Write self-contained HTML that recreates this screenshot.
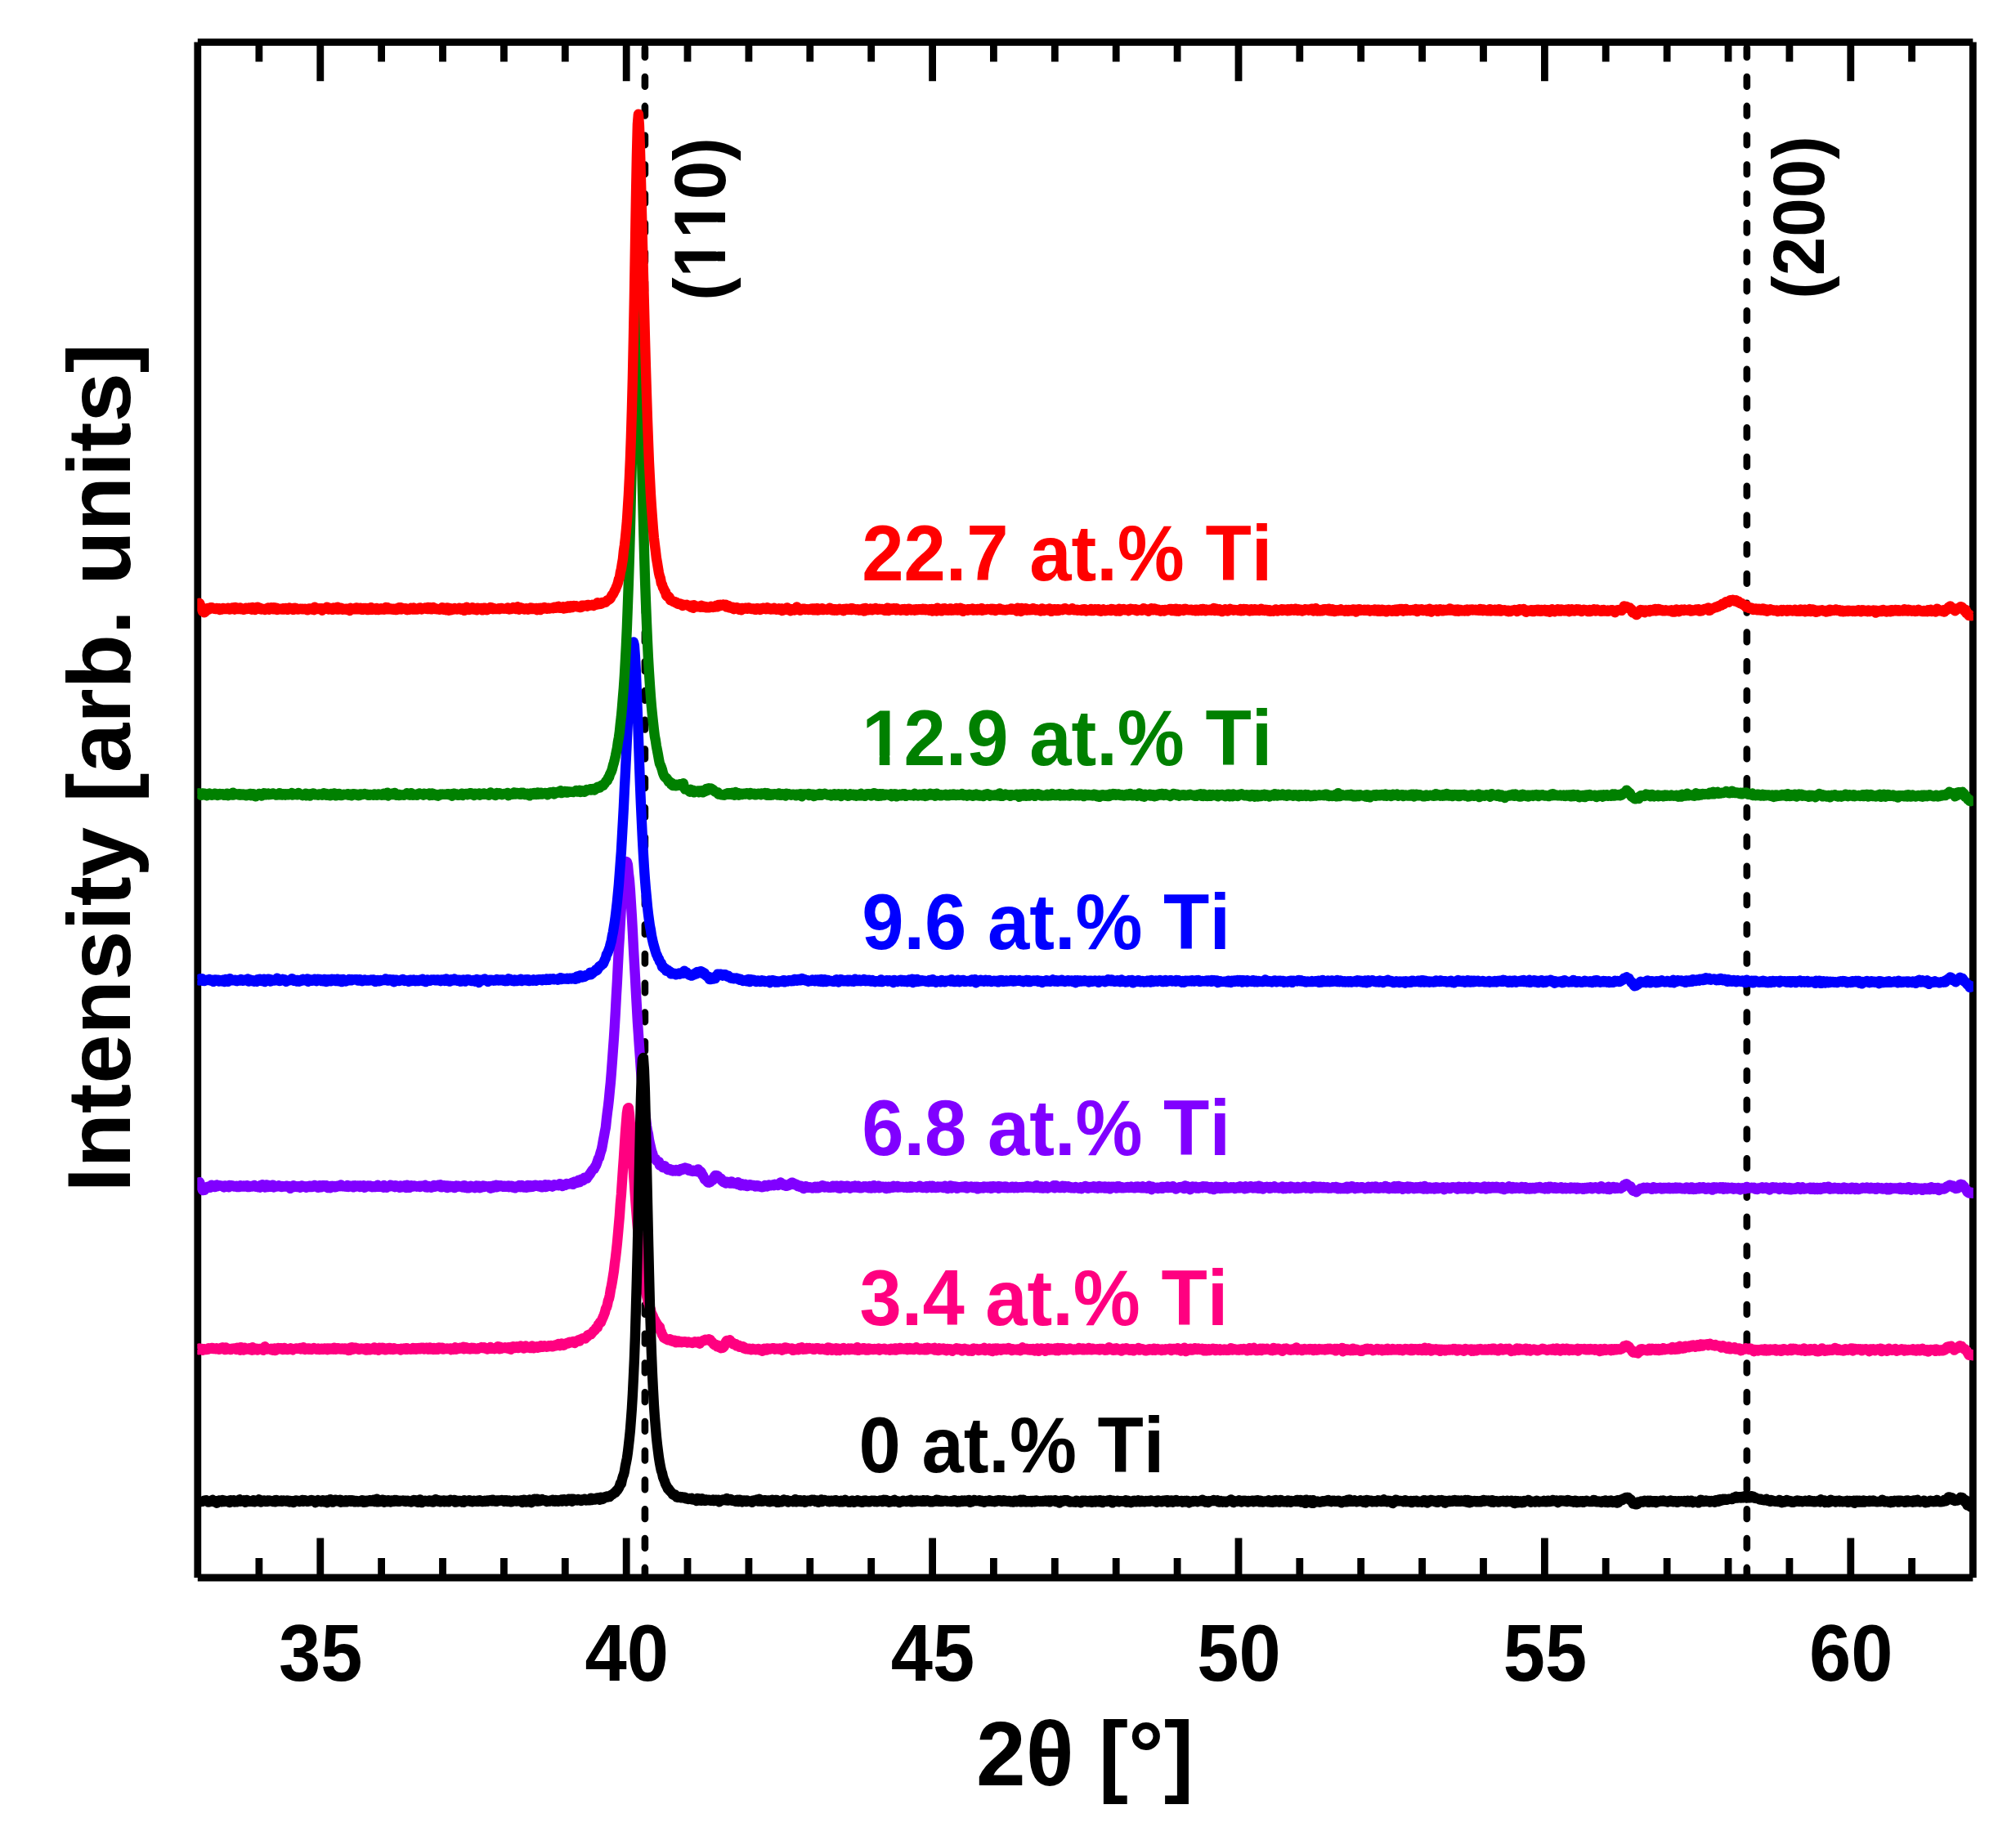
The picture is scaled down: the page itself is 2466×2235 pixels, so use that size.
<!DOCTYPE html>
<html lang="en"><head><meta charset="utf-8"><title>XRD patterns</title>
<style>html,body{margin:0;padding:0;background:#fff}svg{display:block}text{font-family:"Liberation Sans", sans-serif;font-weight:bold;font-kerning:none;font-variant-ligatures:none}</style>
</head><body>
<svg width="2466" height="2235" viewBox="0 0 2466 2235">
<rect width="2466" height="2235" fill="#fff"/>
<path d="M241.8,51.6 H2413.3 M2413.3,51.6 V1930.0 M2413.3,1930.0 H241.8 M241.8,1930.0 V51.6" fill="none" stroke="#000" stroke-width="8.8"/>
<path d="M316.9,51.6 v23.8 M316.9,1930.0 v-24.0 M391.8,51.6 v47.6 M391.8,1930.0 v-48.6 M466.6,51.6 v23.8 M466.6,1930.0 v-24.0 M541.5,51.6 v23.8 M541.5,1930.0 v-24.0 M616.4,51.6 v23.8 M616.4,1930.0 v-24.0 M691.3,51.6 v23.8 M691.3,1930.0 v-24.0 M766.2,51.6 v47.6 M766.2,1930.0 v-48.6 M841.0,51.6 v23.8 M841.0,1930.0 v-24.0 M915.9,51.6 v23.8 M915.9,1930.0 v-24.0 M990.8,51.6 v23.8 M990.8,1930.0 v-24.0 M1065.7,51.6 v23.8 M1065.7,1930.0 v-24.0 M1140.6,51.6 v47.6 M1140.6,1930.0 v-48.6 M1215.4,51.6 v23.8 M1215.4,1930.0 v-24.0 M1290.3,51.6 v23.8 M1290.3,1930.0 v-24.0 M1365.2,51.6 v23.8 M1365.2,1930.0 v-24.0 M1440.1,51.6 v23.8 M1440.1,1930.0 v-24.0 M1515.0,51.6 v47.6 M1515.0,1930.0 v-48.6 M1589.8,51.6 v23.8 M1589.8,1930.0 v-24.0 M1664.7,51.6 v23.8 M1664.7,1930.0 v-24.0 M1739.6,51.6 v23.8 M1739.6,1930.0 v-24.0 M1814.5,51.6 v23.8 M1814.5,1930.0 v-24.0 M1889.4,51.6 v47.6 M1889.4,1930.0 v-48.6 M1964.2,51.6 v23.8 M1964.2,1930.0 v-24.0 M2039.1,51.6 v23.8 M2039.1,1930.0 v-24.0 M2114.0,51.6 v23.8 M2114.0,1930.0 v-24.0 M2188.9,51.6 v23.8 M2188.9,1930.0 v-24.0 M2263.8,51.6 v47.6 M2263.8,1930.0 v-48.6 M2338.6,51.6 v23.8 M2338.6,1930.0 v-24.0" fill="none" stroke="#000" stroke-width="8.8"/>
<path d="M788.9,58.4 V1930.0" fill="none" stroke="#000" stroke-width="8.6" stroke-linecap="round" stroke-dasharray="11.6 24.16"/>
<path d="M2136.8,58.4 V1930.0" fill="none" stroke="#000" stroke-width="8.6" stroke-linecap="round" stroke-dasharray="11.6 24.16"/>
<defs><clipPath id="plotclip"><rect x="241.3" y="0" width="2172.5" height="2235"/></clipPath></defs>
<g clip-path="url(#plotclip)">
<path d="M242.0,1650.3 243.0,1651.2 244.0,1649.4 245.0,1651.0 246.0,1650.0 247.0,1650.0 248.0,1651.7 249.0,1650.3 250.0,1650.2 251.0,1650.8 252.0,1651.1 253.0,1650.2 254.0,1650.7 255.0,1649.4 256.0,1649.9 257.0,1649.8 258.0,1649.1 259.0,1649.0 260.0,1648.9 261.0,1650.0 262.0,1650.1 263.0,1649.9 264.0,1650.2 265.0,1649.1 266.0,1650.1 267.0,1650.4 268.0,1650.8 269.0,1649.5 270.0,1649.9 271.0,1648.6 272.0,1649.8 273.0,1648.4 274.0,1649.1 275.0,1651.1 276.0,1648.4 277.0,1650.8 278.0,1650.5 279.0,1649.9 280.0,1650.6 281.0,1650.6 282.0,1651.0 283.0,1650.0 284.0,1649.7 285.0,1649.7 286.0,1649.4 287.0,1650.2 288.0,1649.6 289.0,1651.0 290.0,1648.7 291.0,1649.3 292.0,1649.4 293.0,1648.5 294.0,1651.7 295.0,1648.3 296.0,1650.0 297.0,1649.8 298.0,1651.5 299.0,1648.6 300.0,1651.0 301.0,1649.6 302.0,1650.1 303.0,1649.7 304.0,1650.7 305.0,1649.3 306.0,1650.1 307.0,1650.5 308.0,1651.7 309.0,1648.3 310.0,1651.4 311.0,1650.9 312.0,1649.8 313.0,1650.4 314.0,1649.8 315.0,1651.5 316.0,1650.4 317.0,1650.0 318.0,1650.0 319.0,1650.0 320.0,1650.0 321.0,1649.5 322.0,1651.8 323.0,1648.7 324.0,1647.3 325.0,1650.1 326.0,1650.1 327.0,1650.5 328.0,1650.0 329.0,1650.1 330.0,1650.4 331.0,1651.0 332.0,1649.8 333.0,1649.9 334.0,1651.7 335.0,1650.6 336.0,1649.4 337.0,1652.0 338.0,1650.8 339.0,1649.7 340.0,1649.2 341.0,1650.4 342.0,1649.5 343.0,1649.3 344.0,1649.1 345.0,1649.8 346.0,1651.1 347.0,1649.8 348.0,1649.0 349.0,1650.7 350.0,1650.2 351.0,1650.9 352.0,1651.1 353.0,1650.0 354.0,1650.1 355.0,1650.1 356.0,1649.3 357.0,1650.7 358.0,1651.3 359.0,1650.3 360.0,1650.0 361.0,1650.0 362.0,1649.5 363.0,1649.5 364.0,1649.8 365.0,1649.5 366.0,1649.8 367.0,1648.9 368.0,1650.4 369.0,1650.2 370.0,1649.2 371.0,1648.3 372.0,1650.2 373.0,1651.0 374.0,1649.6 375.0,1649.8 376.0,1649.7 377.0,1650.7 378.0,1649.4 379.0,1650.9 380.0,1649.9 381.0,1650.9 382.0,1650.2 383.0,1650.0 384.0,1649.0 385.0,1649.6 386.0,1649.9 387.0,1650.7 388.0,1650.4 389.0,1649.6 390.0,1650.5 391.0,1650.9 392.0,1650.0 393.0,1649.8 394.0,1649.8 395.0,1650.8 396.0,1650.6 397.0,1649.4 398.0,1650.4 399.0,1649.8 400.0,1649.5 401.0,1651.1 402.0,1650.8 403.0,1649.6 404.0,1650.2 405.0,1650.5 406.0,1649.6 407.0,1650.0 408.0,1650.7 409.0,1648.7 410.0,1650.4 411.0,1650.7 412.0,1650.5 413.0,1649.1 414.0,1650.4 415.0,1649.4 416.0,1650.6 417.0,1650.6 418.0,1650.3 419.0,1649.5 420.0,1649.7 421.0,1650.8 422.0,1649.4 423.0,1650.5 424.0,1650.5 425.0,1649.9 426.0,1652.0 427.0,1650.2 428.0,1651.8 429.0,1648.5 430.0,1648.3 431.0,1650.9 432.0,1650.6 433.0,1649.9 434.0,1650.1 435.0,1648.6 436.0,1649.6 437.0,1649.3 438.0,1649.9 439.0,1650.8 440.0,1650.1 441.0,1650.4 442.0,1649.5 443.0,1649.7 444.0,1650.2 445.0,1649.9 446.0,1651.1 447.0,1649.4 448.0,1651.6 449.0,1649.3 450.0,1650.9 451.0,1649.5 452.0,1651.4 453.0,1650.2 454.0,1650.4 455.0,1650.7 456.0,1649.6 457.0,1649.2 458.0,1648.4 459.0,1651.0 459.9,1649.5 460.9,1649.6 461.9,1650.0 462.9,1651.7 463.9,1648.7 464.9,1650.3 465.9,1649.7 466.9,1650.5 467.9,1648.6 468.9,1649.7 469.9,1650.7 470.9,1651.3 471.9,1651.3 472.9,1649.4 473.9,1650.1 474.9,1649.9 475.9,1648.9 476.9,1648.9 477.9,1650.6 478.9,1650.2 479.9,1649.9 480.9,1651.0 481.9,1649.2 482.9,1650.4 483.9,1650.0 484.9,1650.0 485.9,1650.4 486.9,1650.1 487.9,1650.2 488.9,1650.2 489.9,1651.5 490.9,1649.7 491.9,1650.8 492.9,1650.5 493.9,1649.7 494.9,1650.6 495.9,1649.3 496.9,1650.9 497.9,1649.3 498.9,1649.6 499.9,1650.2 500.9,1650.6 501.9,1650.7 502.9,1650.7 503.9,1649.8 504.9,1649.2 505.9,1650.4 506.9,1650.2 507.9,1649.2 508.9,1650.7 509.9,1650.1 510.9,1649.2 511.9,1650.3 512.9,1648.9 513.9,1649.2 514.9,1650.2 515.9,1648.7 516.9,1649.9 517.9,1648.8 518.9,1650.5 519.9,1649.3 520.9,1650.0 521.9,1648.7 522.9,1649.6 523.9,1650.6 524.9,1650.2 525.9,1648.4 526.9,1650.6 527.9,1650.6 528.9,1649.6 529.9,1651.0 530.9,1649.0 531.9,1649.8 532.9,1650.7 533.9,1650.9 534.9,1650.9 535.9,1648.9 536.9,1648.4 537.9,1650.1 538.9,1648.7 539.9,1649.7 540.9,1648.8 541.9,1650.6 542.9,1650.4 543.9,1650.2 544.9,1649.8 545.9,1649.8 546.9,1649.5 547.9,1650.1 548.9,1649.9 549.9,1650.1 550.9,1649.4 551.9,1651.2 552.9,1649.9 553.9,1650.8 554.9,1650.8 555.9,1649.0 556.9,1648.3 557.9,1650.7 558.9,1649.4 559.9,1649.7 560.9,1649.5 561.9,1649.8 562.9,1648.7 563.9,1649.6 564.9,1649.3 565.9,1649.6 566.9,1647.7 567.9,1650.3 568.9,1649.9 569.9,1648.2 570.9,1649.0 571.9,1649.6 572.9,1650.1 573.9,1649.6 574.9,1650.6 575.9,1649.6 576.9,1648.7 577.9,1649.0 578.9,1650.1 579.9,1649.0 580.9,1650.2 581.9,1650.3 582.9,1649.9 583.9,1650.3 584.9,1649.3 585.9,1649.4 586.9,1648.9 587.9,1648.9 588.9,1648.1 589.9,1648.9 590.9,1648.5 591.9,1648.2 592.9,1649.5 593.9,1649.7 594.9,1649.0 595.9,1650.4 596.9,1650.0 597.9,1650.1 598.9,1648.8 599.9,1648.0 600.9,1649.7 601.9,1649.5 602.9,1649.8 603.9,1649.5 604.9,1650.2 605.9,1648.9 606.9,1649.7 607.9,1648.4 608.9,1647.2 609.9,1648.7 610.9,1650.3 611.9,1647.7 612.9,1649.8 613.9,1648.5 614.9,1648.7 615.9,1649.0 616.9,1649.1 617.9,1648.1 618.9,1649.0 619.9,1649.2 620.9,1649.5 621.9,1648.2 622.9,1650.0 623.9,1650.3 624.9,1650.7 625.9,1647.6 626.9,1648.8 627.9,1647.2 628.9,1648.9 629.9,1649.1 630.9,1647.7 631.9,1647.3 632.9,1648.7 633.9,1649.0 634.9,1647.8 635.9,1648.2 636.9,1646.4 637.9,1647.8 638.9,1648.4 639.9,1648.4 640.9,1649.5 641.9,1647.3 642.9,1646.4 643.9,1648.5 644.9,1647.6 645.9,1648.3 646.9,1648.6 647.9,1648.5 648.9,1649.1 649.9,1649.0 650.9,1646.5 651.9,1647.7 652.9,1649.3 653.9,1647.4 654.9,1648.4 655.9,1647.5 656.9,1647.2 657.9,1648.7 658.9,1648.2 659.9,1647.2 660.9,1648.0 661.9,1646.2 662.9,1646.6 663.9,1647.8 664.9,1647.1 665.9,1646.1 666.9,1647.2 667.9,1647.1 668.9,1647.8 669.9,1647.4 670.9,1646.3 671.9,1646.1 672.9,1646.3 673.9,1646.1 674.9,1647.4 675.9,1647.4 676.9,1647.1 677.9,1646.2 678.9,1645.6 679.9,1646.4 680.9,1645.3 681.9,1645.6 682.9,1644.0 683.9,1644.8 684.9,1646.2 685.9,1644.1 686.9,1643.6 687.9,1644.5 688.9,1645.8 689.9,1645.5 690.9,1643.8 691.9,1643.6 692.9,1643.7 693.9,1642.8 694.9,1643.4 695.9,1642.9 696.9,1641.8 697.9,1642.3 698.9,1642.3 699.9,1641.6 700.9,1641.1 701.9,1642.5 702.9,1643.0 703.9,1640.9 704.9,1640.5 705.9,1641.0 706.9,1640.0 707.9,1639.2 708.9,1640.6 709.9,1638.3 710.9,1638.1 711.9,1637.7 712.9,1637.1 713.9,1637.2 714.9,1637.3 715.9,1637.5 716.9,1636.3 717.9,1635.2 718.9,1633.5 719.9,1633.8 720.9,1632.4 721.9,1632.3 722.9,1632.4 723.9,1631.0 724.9,1629.7 725.9,1628.3 726.9,1627.9 727.9,1626.9 728.9,1624.9 729.9,1624.0 730.9,1623.8 731.9,1620.3 732.9,1619.7 733.9,1617.5 734.9,1617.9 735.9,1615.2 736.9,1613.0 737.9,1610.7 738.9,1608.2 739.9,1605.5 740.9,1601.2 741.9,1599.5 742.9,1596.4 743.9,1591.1 744.9,1588.8 745.9,1584.3 746.9,1577.7 747.9,1573.3 748.9,1567.6 749.9,1561.2 750.9,1555.0 751.9,1546.1 752.9,1538.8 753.9,1530.2 754.9,1520.9 755.9,1509.9 756.9,1498.4 757.9,1487.1 758.9,1472.2 759.9,1461.2 760.9,1446.2 761.9,1431.1 762.9,1417.2 763.9,1401.3 764.9,1386.5 765.9,1373.8 766.9,1361.6 767.9,1355.9 768.9,1355.2 769.9,1362.8 770.9,1375.4 771.9,1391.8 772.9,1405.1 773.9,1419.4 774.9,1433.6 775.9,1447.8 776.9,1462.4 777.9,1476.2 778.9,1489.4 779.9,1501.3 780.9,1511.8 781.9,1521.4 782.9,1530.8 783.9,1538.5 784.9,1547.6 785.9,1556.2 786.9,1562.4 787.9,1569.2 788.9,1573.5 789.9,1580.5 790.9,1584.7 791.9,1588.9 792.9,1593.1 793.9,1594.7 794.9,1599.4 795.9,1602.2 796.9,1607.2 797.9,1608.2 798.9,1610.4 799.9,1613.7 800.9,1614.2 801.9,1618.1 802.9,1618.2 803.9,1620.3 804.9,1621.2 805.9,1624.0 806.9,1623.3 807.9,1627.9 808.9,1629.3 809.9,1632.6 810.9,1633.9 811.9,1636.4 812.9,1636.9 813.9,1637.7 814.9,1637.9 815.9,1638.6 816.9,1639.2 817.9,1638.5 818.9,1638.2 819.9,1638.4 820.9,1640.2 821.9,1639.6 822.9,1641.0 823.9,1640.4 824.9,1639.7 825.9,1641.5 826.9,1642.4 827.9,1640.9 828.9,1640.4 829.9,1640.6 830.9,1642.1 831.9,1641.0 832.9,1641.2 833.9,1642.1 834.9,1641.6 835.9,1641.8 836.9,1641.3 837.9,1641.3 838.9,1642.0 839.9,1642.0 840.9,1642.4 841.9,1641.6 842.9,1642.3 843.9,1642.4 844.9,1642.1 845.9,1642.5 846.9,1642.9 847.9,1642.3 848.9,1642.2 849.9,1641.3 850.9,1642.3 851.9,1641.9 852.9,1641.7 853.9,1641.3 854.9,1642.3 855.9,1643.7 856.9,1641.8 857.9,1641.2 858.9,1641.1 859.9,1639.9 860.9,1640.1 861.9,1639.1 862.9,1638.8 863.9,1639.3 864.9,1639.1 865.9,1638.8 866.9,1638.3 867.9,1639.5 868.9,1639.0 869.9,1641.3 870.9,1641.4 871.9,1642.8 872.9,1644.4 873.9,1645.2 874.9,1644.5 875.9,1645.9 876.9,1647.0 877.9,1646.4 878.9,1645.9 879.9,1648.2 880.9,1648.6 881.9,1649.2 882.9,1649.0 883.9,1648.8 884.9,1648.1 885.9,1647.0 886.9,1643.7 887.9,1641.6 888.9,1640.0 889.9,1641.1 890.9,1640.2 891.9,1641.1 892.9,1639.3 893.8,1641.6 894.8,1641.9 895.8,1642.2 896.8,1644.2 897.8,1644.0 898.8,1644.0 899.8,1644.1 900.8,1646.4 901.8,1646.0 902.8,1646.3 903.8,1645.7 904.8,1647.8 905.8,1647.6 906.8,1647.4 907.8,1647.9 908.8,1647.1 909.8,1649.4 910.8,1648.3 911.8,1650.2 912.8,1649.5 913.8,1649.6 914.8,1650.6 915.8,1650.6 916.8,1649.7 917.8,1650.7 918.8,1651.3 919.8,1650.7 920.8,1649.9 921.8,1650.8 922.8,1650.3 923.8,1650.6 924.8,1651.2 925.8,1651.1 926.8,1651.0 927.8,1649.9 928.8,1651.5 929.8,1651.1 930.8,1650.9 931.8,1651.4 932.8,1652.8 933.8,1650.2 934.8,1649.8 935.8,1651.6 936.8,1650.1 937.8,1651.6 938.8,1649.5 939.8,1649.7 940.8,1650.6 941.8,1650.5 942.8,1650.0 943.8,1649.9 944.8,1649.4 945.8,1649.2 946.8,1649.4 947.8,1650.6 948.8,1650.1 949.8,1649.6 950.8,1649.8 951.8,1650.3 952.8,1650.6 953.8,1649.5 954.8,1649.6 955.8,1649.9 956.8,1651.7 957.8,1649.9 958.8,1650.7 959.8,1648.5 960.8,1650.4 961.8,1648.6 962.8,1648.9 963.8,1649.2 964.8,1649.6 965.8,1649.9 966.8,1650.1 967.8,1650.0 968.8,1649.4 969.8,1651.9 970.8,1650.1 971.8,1650.4 972.8,1651.4 973.8,1650.6 974.8,1650.3 975.8,1650.1 976.8,1651.3 977.8,1649.0 978.8,1649.1 979.8,1650.0 980.8,1648.3 981.8,1649.3 982.8,1650.8 983.8,1649.6 984.8,1650.1 985.8,1650.5 986.8,1649.0 987.8,1650.2 988.8,1649.5 989.8,1649.1 990.8,1649.8 991.8,1649.9 992.8,1649.7 993.8,1649.5 994.8,1650.8 995.8,1650.9 996.8,1650.5 997.8,1649.9 998.8,1649.2 999.8,1649.4 1000.8,1649.2 1001.8,1650.2 1002.8,1650.8 1003.8,1650.8 1004.8,1650.0 1005.8,1649.8 1006.8,1650.2 1007.8,1650.2 1008.8,1650.6 1009.8,1651.3 1010.8,1649.6 1011.8,1651.8 1012.8,1648.4 1013.8,1648.7 1014.8,1648.9 1015.8,1649.3 1016.8,1649.9 1017.8,1651.8 1018.8,1649.6 1019.8,1651.0 1020.8,1649.9 1021.8,1650.3 1022.8,1649.3 1023.8,1652.0 1024.8,1650.1 1025.8,1649.7 1026.8,1652.0 1027.8,1650.3 1028.8,1650.5 1029.8,1650.1 1030.8,1649.5 1031.8,1649.1 1032.8,1650.1 1033.8,1651.5 1034.8,1650.5 1035.8,1650.1 1036.8,1651.1 1037.8,1649.5 1038.8,1651.3 1039.8,1650.2 1040.8,1649.6 1041.8,1650.8 1042.8,1650.6 1043.8,1650.0 1044.8,1650.4 1045.8,1651.0 1046.8,1651.4 1047.8,1649.6 1048.8,1648.2 1049.8,1651.9 1050.8,1650.1 1051.8,1649.9 1052.8,1650.6 1053.8,1649.9 1054.8,1651.1 1055.8,1649.3 1056.8,1650.1 1057.8,1649.3 1058.8,1651.5 1059.8,1650.1 1060.8,1651.2 1061.8,1651.4 1062.8,1649.4 1063.8,1650.1 1064.8,1650.9 1065.8,1650.4 1066.8,1650.2 1067.8,1651.0 1068.8,1651.1 1069.8,1649.9 1070.8,1650.2 1071.8,1650.8 1072.8,1650.5 1073.8,1650.5 1074.8,1649.5 1075.8,1651.7 1076.8,1650.2 1077.8,1650.6 1078.8,1650.3 1079.8,1650.4 1080.8,1650.5 1081.8,1649.7 1082.8,1650.7 1083.8,1651.3 1084.8,1650.7 1085.8,1650.9 1086.8,1650.8 1087.8,1650.4 1088.8,1651.8 1089.8,1649.8 1090.8,1650.7 1091.8,1651.2 1092.8,1650.6 1093.8,1649.6 1094.8,1649.5 1095.8,1651.6 1096.8,1649.6 1097.8,1650.4 1098.8,1650.8 1099.8,1650.5 1100.8,1649.0 1101.8,1648.9 1102.8,1650.3 1103.8,1649.8 1104.8,1650.2 1105.8,1650.5 1106.8,1650.6 1107.8,1649.4 1108.8,1649.1 1109.8,1651.2 1110.8,1649.9 1111.8,1649.5 1112.8,1648.9 1113.8,1650.9 1114.8,1649.4 1115.8,1649.6 1116.8,1650.9 1117.8,1650.7 1118.8,1650.9 1119.8,1649.4 1120.8,1648.2 1121.8,1649.7 1122.8,1650.2 1123.8,1649.9 1124.8,1651.2 1125.8,1650.8 1126.8,1649.6 1127.8,1650.9 1128.8,1650.4 1129.8,1650.1 1130.8,1651.4 1131.8,1649.1 1132.8,1651.3 1133.8,1651.3 1134.8,1648.8 1135.8,1650.3 1136.8,1650.4 1137.8,1649.6 1138.8,1650.0 1139.8,1649.8 1140.8,1650.5 1141.8,1650.0 1142.8,1648.8 1143.8,1651.4 1144.8,1651.2 1145.8,1649.8 1146.8,1651.2 1147.8,1652.1 1148.8,1649.3 1149.8,1650.2 1150.8,1650.1 1151.8,1651.0 1152.8,1650.3 1153.8,1649.4 1154.8,1651.5 1155.8,1650.3 1156.8,1651.1 1157.8,1652.3 1158.8,1649.9 1159.8,1650.2 1160.8,1651.3 1161.8,1650.4 1162.8,1650.9 1163.8,1650.5 1164.8,1652.8 1165.8,1651.0 1166.8,1650.8 1167.8,1650.6 1168.8,1650.8 1169.8,1649.2 1170.8,1650.3 1171.8,1651.1 1172.8,1649.6 1173.8,1650.6 1174.8,1650.5 1175.8,1650.1 1176.8,1652.5 1177.8,1651.1 1178.8,1650.8 1179.8,1649.9 1180.8,1650.6 1181.8,1650.3 1182.8,1650.5 1183.8,1650.7 1184.8,1652.6 1185.8,1651.6 1186.8,1651.9 1187.8,1651.7 1188.8,1652.8 1189.8,1650.0 1190.8,1649.5 1191.8,1650.7 1192.8,1650.8 1193.8,1650.6 1194.8,1650.1 1195.8,1651.1 1196.8,1652.0 1197.8,1650.8 1198.8,1650.4 1199.8,1651.5 1200.8,1650.3 1201.8,1650.3 1202.8,1650.8 1203.8,1648.8 1204.8,1652.1 1205.8,1650.5 1206.8,1651.0 1207.8,1650.8 1208.8,1650.9 1209.8,1649.5 1210.8,1652.0 1211.8,1651.1 1212.8,1650.8 1213.8,1653.1 1214.8,1649.6 1215.8,1651.2 1216.8,1650.5 1217.8,1649.4 1218.8,1652.2 1219.8,1649.4 1220.8,1650.7 1221.8,1650.5 1222.8,1650.8 1223.8,1649.9 1224.8,1651.7 1225.8,1650.8 1226.8,1649.6 1227.8,1649.6 1228.8,1650.8 1229.8,1649.7 1230.8,1651.0 1231.8,1650.9 1232.8,1650.2 1233.8,1649.1 1234.8,1649.6 1235.8,1650.9 1236.8,1650.2 1237.8,1652.1 1238.8,1650.3 1239.8,1650.9 1240.8,1651.2 1241.8,1650.7 1242.8,1650.9 1243.8,1651.4 1244.8,1650.5 1245.8,1650.9 1246.8,1650.3 1247.8,1652.2 1248.8,1650.8 1249.8,1651.3 1250.8,1648.3 1251.8,1650.3 1252.8,1649.7 1253.8,1650.7 1254.8,1650.3 1255.8,1649.8 1256.8,1650.4 1257.8,1651.3 1258.8,1651.5 1259.8,1650.2 1260.8,1651.5 1261.8,1650.2 1262.8,1651.1 1263.8,1650.0 1264.8,1651.5 1265.8,1652.5 1266.8,1650.4 1267.8,1651.6 1268.8,1649.5 1269.8,1650.2 1270.8,1652.8 1271.8,1650.6 1272.8,1651.1 1273.8,1649.4 1274.8,1650.7 1275.8,1650.0 1276.8,1651.6 1277.8,1650.2 1278.8,1652.7 1279.8,1649.8 1280.8,1650.9 1281.8,1649.1 1282.8,1650.3 1283.8,1651.6 1284.8,1650.6 1285.8,1649.6 1286.8,1651.1 1287.8,1651.4 1288.8,1651.0 1289.8,1651.5 1290.8,1649.5 1291.8,1652.1 1292.8,1651.2 1293.8,1649.0 1294.8,1652.2 1295.8,1650.3 1296.8,1651.1 1297.8,1649.1 1298.8,1650.2 1299.8,1649.2 1300.8,1651.4 1301.8,1650.5 1302.8,1650.0 1303.8,1650.4 1304.8,1651.6 1305.8,1650.1 1306.8,1651.1 1307.8,1649.7 1308.8,1649.4 1309.8,1650.3 1310.8,1650.5 1311.8,1650.8 1312.8,1651.5 1313.8,1650.4 1314.8,1650.4 1315.8,1651.3 1316.8,1651.0 1317.8,1650.7 1318.8,1650.9 1319.8,1649.0 1320.8,1650.3 1321.8,1649.4 1322.8,1650.4 1323.8,1651.4 1324.8,1649.4 1325.8,1651.4 1326.8,1650.3 1327.8,1650.5 1328.7,1650.3 1329.7,1651.3 1330.7,1650.2 1331.7,1649.0 1332.7,1651.0 1333.7,1650.6 1334.7,1651.2 1335.7,1651.2 1336.7,1649.7 1337.7,1650.9 1338.7,1650.8 1339.7,1650.7 1340.7,1650.8 1341.7,1651.0 1342.7,1650.3 1343.7,1650.6 1344.7,1651.5 1345.7,1649.9 1346.7,1650.7 1347.7,1649.9 1348.7,1649.9 1349.7,1650.4 1350.7,1650.9 1351.7,1651.9 1352.7,1650.6 1353.7,1651.5 1354.7,1651.2 1355.7,1650.8 1356.7,1648.3 1357.7,1650.8 1358.7,1650.8 1359.7,1649.9 1360.7,1650.8 1361.7,1651.9 1362.7,1649.8 1363.7,1650.3 1364.7,1651.5 1365.7,1649.3 1366.7,1649.9 1367.7,1651.0 1368.7,1651.5 1369.7,1651.7 1370.7,1651.3 1371.7,1652.6 1372.7,1651.1 1373.7,1649.7 1374.7,1650.6 1375.7,1651.2 1376.7,1651.0 1377.7,1649.2 1378.7,1651.1 1379.7,1650.1 1380.7,1650.6 1381.7,1651.9 1382.7,1650.6 1383.7,1650.2 1384.7,1650.7 1385.7,1650.2 1386.7,1652.4 1387.7,1651.4 1388.7,1651.5 1389.7,1650.2 1390.7,1650.2 1391.7,1651.0 1392.7,1649.0 1393.7,1651.6 1394.7,1649.7 1395.7,1650.8 1396.7,1651.0 1397.7,1650.1 1398.7,1651.0 1399.7,1651.3 1400.7,1652.3 1401.7,1651.1 1402.7,1652.2 1403.7,1651.1 1404.7,1650.6 1405.7,1651.5 1406.7,1650.4 1407.7,1650.9 1408.7,1651.3 1409.7,1651.7 1410.7,1651.0 1411.7,1649.6 1412.7,1651.8 1413.7,1650.9 1414.7,1650.5 1415.7,1650.1 1416.7,1651.2 1417.7,1651.0 1418.7,1651.3 1419.7,1650.7 1420.7,1652.0 1421.7,1650.6 1422.7,1651.1 1423.7,1650.9 1424.7,1651.6 1425.7,1650.2 1426.7,1650.5 1427.7,1650.6 1428.7,1650.3 1429.7,1650.3 1430.7,1649.8 1431.7,1651.4 1432.7,1652.0 1433.7,1650.0 1434.7,1651.4 1435.7,1649.9 1436.7,1650.1 1437.7,1650.5 1438.7,1650.9 1439.7,1651.2 1440.7,1649.2 1441.7,1649.7 1442.7,1650.9 1443.7,1650.6 1444.7,1652.5 1445.7,1650.6 1446.7,1650.3 1447.7,1651.8 1448.7,1648.7 1449.7,1649.3 1450.7,1653.0 1451.7,1650.3 1452.7,1650.9 1453.7,1650.6 1454.7,1650.1 1455.7,1650.7 1456.7,1649.7 1457.7,1651.6 1458.7,1651.4 1459.7,1651.3 1460.7,1650.1 1461.7,1649.3 1462.7,1650.4 1463.7,1649.9 1464.7,1651.1 1465.7,1649.5 1466.7,1650.1 1467.7,1650.9 1468.7,1651.1 1469.7,1650.9 1470.7,1649.8 1471.7,1650.3 1472.7,1652.4 1473.7,1651.6 1474.7,1650.1 1475.7,1652.3 1476.7,1650.7 1477.7,1650.8 1478.7,1650.2 1479.7,1652.0 1480.7,1650.9 1481.7,1650.7 1482.7,1650.1 1483.7,1649.8 1484.7,1651.0 1485.7,1650.8 1486.7,1652.1 1487.7,1650.1 1488.7,1650.5 1489.7,1651.6 1490.7,1651.5 1491.7,1650.3 1492.7,1652.0 1493.7,1651.2 1494.7,1651.5 1495.7,1651.1 1496.7,1651.6 1497.7,1650.5 1498.7,1650.7 1499.7,1651.7 1500.7,1651.1 1501.7,1651.1 1502.7,1651.7 1503.7,1651.0 1504.7,1651.2 1505.7,1649.1 1506.7,1650.4 1507.7,1651.5 1508.7,1650.1 1509.7,1650.6 1510.7,1651.0 1511.7,1650.7 1512.7,1651.5 1513.7,1651.2 1514.7,1650.7 1515.7,1651.7 1516.7,1650.5 1517.7,1650.3 1518.7,1651.1 1519.7,1651.3 1520.7,1650.7 1521.7,1650.0 1522.7,1650.4 1523.7,1651.0 1524.7,1651.4 1525.7,1652.3 1526.7,1650.7 1527.7,1650.7 1528.7,1649.1 1529.7,1651.9 1530.7,1651.6 1531.7,1650.8 1532.7,1650.3 1533.7,1648.8 1534.7,1651.4 1535.7,1650.2 1536.7,1652.1 1537.7,1651.5 1538.7,1651.9 1539.7,1650.7 1540.7,1651.8 1541.7,1649.7 1542.7,1652.0 1543.7,1650.8 1544.7,1649.9 1545.7,1650.5 1546.7,1650.1 1547.7,1651.1 1548.7,1650.3 1549.7,1649.8 1550.7,1650.6 1551.7,1650.7 1552.7,1651.0 1553.7,1651.4 1554.7,1651.9 1555.7,1651.2 1556.7,1652.2 1557.7,1648.9 1558.7,1650.8 1559.7,1651.6 1560.7,1649.8 1561.7,1650.7 1562.7,1651.0 1563.7,1649.6 1564.7,1650.4 1565.7,1651.3 1566.7,1650.6 1567.7,1652.1 1568.7,1652.8 1569.7,1650.8 1570.7,1650.0 1571.7,1650.8 1572.7,1650.4 1573.7,1649.7 1574.7,1650.5 1575.7,1650.5 1576.7,1650.6 1577.7,1651.6 1578.7,1651.7 1579.7,1651.2 1580.7,1650.6 1581.7,1651.2 1582.7,1650.9 1583.7,1651.1 1584.7,1650.1 1585.7,1648.4 1586.7,1651.6 1587.7,1650.4 1588.7,1650.5 1589.7,1650.9 1590.7,1650.8 1591.7,1650.6 1592.7,1652.1 1593.7,1651.0 1594.7,1651.1 1595.7,1650.2 1596.7,1650.8 1597.7,1651.2 1598.7,1650.8 1599.7,1651.1 1600.7,1650.1 1601.7,1651.2 1602.7,1650.1 1603.7,1650.5 1604.7,1650.3 1605.7,1651.0 1606.7,1651.8 1607.7,1651.1 1608.7,1650.2 1609.7,1651.0 1610.7,1651.7 1611.7,1651.5 1612.7,1651.3 1613.7,1650.0 1614.7,1650.5 1615.7,1650.4 1616.7,1650.5 1617.7,1651.1 1618.7,1650.9 1619.7,1650.6 1620.7,1651.3 1621.7,1650.3 1622.7,1650.6 1623.7,1651.0 1624.7,1649.8 1625.7,1650.2 1626.7,1649.8 1627.7,1650.1 1628.7,1650.8 1629.7,1650.8 1630.7,1651.2 1631.7,1651.2 1632.7,1650.0 1633.7,1652.4 1634.7,1652.0 1635.7,1649.9 1636.7,1650.4 1637.7,1650.5 1638.7,1651.1 1639.7,1651.4 1640.7,1650.9 1641.7,1648.9 1642.7,1653.2 1643.7,1651.6 1644.7,1651.6 1645.7,1650.3 1646.7,1651.0 1647.7,1651.6 1648.7,1650.5 1649.7,1651.8 1650.7,1651.0 1651.7,1652.2 1652.7,1651.0 1653.7,1652.1 1654.7,1649.6 1655.7,1652.1 1656.7,1651.3 1657.7,1650.6 1658.7,1651.8 1659.7,1650.7 1660.7,1651.6 1661.7,1651.7 1662.7,1651.8 1663.7,1652.7 1664.7,1652.0 1665.7,1652.9 1666.7,1651.5 1667.7,1651.0 1668.7,1651.2 1669.7,1650.9 1670.7,1649.9 1671.7,1651.0 1672.7,1650.0 1673.7,1650.7 1674.7,1650.7 1675.7,1650.5 1676.7,1650.1 1677.7,1651.0 1678.7,1650.9 1679.7,1652.0 1680.7,1651.4 1681.7,1651.7 1682.7,1650.6 1683.7,1650.7 1684.7,1649.9 1685.7,1650.2 1686.7,1651.5 1687.7,1650.8 1688.7,1650.8 1689.7,1650.5 1690.7,1652.2 1691.7,1650.9 1692.7,1651.8 1693.7,1650.9 1694.7,1651.7 1695.7,1650.2 1696.7,1649.9 1697.7,1651.8 1698.7,1650.7 1699.7,1651.2 1700.7,1651.6 1701.7,1651.5 1702.7,1651.2 1703.7,1650.0 1704.7,1650.4 1705.7,1651.0 1706.7,1651.4 1707.7,1651.4 1708.7,1651.2 1709.7,1650.3 1710.7,1650.9 1711.7,1651.7 1712.7,1650.3 1713.7,1650.5 1714.7,1651.7 1715.7,1652.2 1716.7,1651.3 1717.7,1651.0 1718.7,1650.2 1719.7,1650.9 1720.7,1650.3 1721.7,1651.1 1722.7,1651.5 1723.7,1651.3 1724.7,1652.0 1725.7,1650.1 1726.7,1649.9 1727.7,1652.0 1728.7,1651.8 1729.7,1650.2 1730.7,1651.1 1731.7,1650.1 1732.7,1650.9 1733.7,1651.2 1734.7,1651.7 1735.7,1650.2 1736.7,1650.0 1737.7,1651.4 1738.7,1650.7 1739.7,1652.1 1740.7,1650.1 1741.7,1650.4 1742.7,1648.8 1743.7,1651.9 1744.7,1652.0 1745.7,1651.3 1746.7,1650.7 1747.7,1649.4 1748.7,1649.9 1749.7,1650.5 1750.7,1652.5 1751.7,1651.7 1752.7,1650.5 1753.7,1651.3 1754.7,1651.4 1755.7,1651.4 1756.7,1650.2 1757.7,1650.6 1758.7,1651.8 1759.7,1651.5 1760.7,1650.7 1761.7,1652.9 1762.6,1651.2 1763.6,1650.7 1764.6,1651.7 1765.6,1651.6 1766.6,1650.9 1767.6,1652.4 1768.6,1651.8 1769.6,1651.0 1770.6,1651.5 1771.6,1651.5 1772.6,1650.8 1773.6,1651.6 1774.6,1650.6 1775.6,1650.8 1776.6,1651.5 1777.6,1650.0 1778.6,1650.7 1779.6,1650.2 1780.6,1651.6 1781.6,1650.5 1782.6,1652.4 1783.6,1652.2 1784.6,1650.4 1785.6,1651.1 1786.6,1650.7 1787.6,1651.0 1788.6,1651.5 1789.6,1652.2 1790.6,1652.7 1791.6,1652.5 1792.6,1650.0 1793.6,1650.6 1794.6,1650.8 1795.6,1650.7 1796.6,1651.1 1797.6,1651.5 1798.6,1650.6 1799.6,1650.5 1800.6,1652.9 1801.6,1651.5 1802.6,1652.7 1803.6,1650.6 1804.6,1652.1 1805.6,1652.3 1806.6,1652.1 1807.6,1650.4 1808.6,1651.4 1809.6,1650.4 1810.6,1650.1 1811.6,1651.0 1812.6,1651.4 1813.6,1650.8 1814.6,1650.9 1815.6,1651.5 1816.6,1650.5 1817.6,1651.3 1818.6,1651.6 1819.6,1651.5 1820.6,1651.5 1821.6,1650.2 1822.6,1650.8 1823.6,1650.7 1824.6,1651.6 1825.6,1649.6 1826.6,1651.1 1827.6,1649.7 1828.6,1651.5 1829.6,1650.6 1830.6,1651.1 1831.6,1651.8 1832.6,1652.4 1833.6,1650.2 1834.6,1651.1 1835.6,1649.5 1836.6,1650.9 1837.6,1650.5 1838.6,1651.5 1839.6,1650.9 1840.6,1651.1 1841.6,1650.1 1842.6,1650.8 1843.6,1650.1 1844.6,1651.0 1845.6,1649.8 1846.6,1651.2 1847.6,1651.9 1848.6,1653.1 1849.6,1652.2 1850.6,1652.1 1851.6,1651.7 1852.6,1652.3 1853.6,1651.0 1854.6,1651.3 1855.6,1649.5 1856.6,1650.6 1857.6,1651.9 1858.6,1649.7 1859.6,1651.3 1860.6,1651.0 1861.6,1650.7 1862.6,1651.3 1863.6,1651.1 1864.6,1650.1 1865.6,1651.0 1866.6,1649.6 1867.6,1652.2 1868.6,1651.0 1869.6,1651.7 1870.6,1650.3 1871.6,1652.5 1872.6,1651.8 1873.6,1651.3 1874.6,1651.2 1875.6,1651.3 1876.6,1650.5 1877.6,1650.9 1878.6,1650.9 1879.6,1651.3 1880.6,1652.3 1881.6,1652.0 1882.6,1651.3 1883.6,1651.5 1884.6,1650.8 1885.6,1650.7 1886.6,1649.8 1887.6,1650.0 1888.6,1650.1 1889.6,1651.0 1890.6,1650.9 1891.6,1651.4 1892.6,1652.0 1893.6,1651.6 1894.6,1650.9 1895.6,1650.7 1896.6,1650.8 1897.6,1651.5 1898.6,1650.3 1899.6,1649.9 1900.6,1650.9 1901.6,1651.9 1902.6,1652.0 1903.6,1651.5 1904.6,1649.5 1905.6,1650.9 1906.6,1651.6 1907.6,1651.9 1908.6,1652.5 1909.6,1650.3 1910.6,1651.4 1911.6,1649.8 1912.6,1650.9 1913.6,1650.7 1914.6,1651.7 1915.6,1651.2 1916.6,1649.7 1917.6,1651.0 1918.6,1651.4 1919.6,1652.2 1920.6,1650.5 1921.6,1650.4 1922.6,1650.6 1923.6,1651.9 1924.6,1650.8 1925.6,1651.1 1926.6,1651.4 1927.6,1650.4 1928.6,1651.9 1929.6,1649.8 1930.6,1652.5 1931.6,1650.5 1932.6,1650.3 1933.6,1650.5 1934.6,1650.1 1935.6,1650.4 1936.6,1650.4 1937.6,1650.1 1938.6,1650.9 1939.6,1651.3 1940.6,1650.6 1941.6,1651.2 1942.6,1650.4 1943.6,1651.2 1944.6,1650.8 1945.6,1650.2 1946.6,1651.1 1947.6,1650.9 1948.6,1650.5 1949.6,1651.0 1950.6,1651.5 1951.6,1650.1 1952.6,1650.7 1953.6,1651.6 1954.6,1651.1 1955.6,1651.7 1956.6,1653.0 1957.6,1650.1 1958.6,1651.4 1959.6,1650.8 1960.6,1652.2 1961.6,1651.5 1962.6,1650.0 1963.6,1651.9 1964.6,1651.1 1965.6,1650.8 1966.6,1651.1 1967.6,1651.3 1968.6,1650.4 1969.6,1650.8 1970.6,1652.2 1971.6,1650.3 1972.6,1650.6 1973.6,1651.7 1974.6,1650.3 1975.6,1650.9 1976.6,1651.3 1977.6,1650.3 1978.6,1650.8 1979.6,1650.3 1980.6,1650.7 1981.6,1650.9 1982.6,1650.4 1983.6,1650.1 1984.6,1649.5 1985.6,1649.0 1986.6,1646.7 1987.6,1646.9 1988.6,1647.5 1989.6,1645.9 1990.6,1646.2 1991.6,1647.1 1992.6,1647.4 1993.6,1649.6 1994.6,1650.3 1995.6,1651.4 1996.6,1653.2 1997.6,1654.5 1998.6,1653.2 1999.6,1654.5 2000.6,1654.8 2001.6,1653.8 2002.6,1655.0 2003.6,1655.5 2004.6,1653.7 2005.6,1653.5 2006.6,1650.4 2007.6,1651.2 2008.6,1650.3 2009.6,1651.8 2010.6,1651.0 2011.6,1651.0 2012.6,1651.5 2013.6,1651.7 2014.6,1652.4 2015.6,1652.2 2016.6,1651.8 2017.6,1649.7 2018.6,1652.0 2019.6,1651.1 2020.6,1649.8 2021.6,1651.2 2022.6,1650.8 2023.6,1650.9 2024.6,1651.7 2025.6,1649.9 2026.6,1651.5 2027.6,1651.9 2028.6,1650.0 2029.6,1652.0 2030.6,1650.3 2031.6,1650.2 2032.6,1651.5 2033.6,1650.7 2034.6,1649.2 2035.6,1650.2 2036.6,1651.2 2037.6,1650.1 2038.6,1650.1 2039.6,1650.5 2040.6,1650.4 2041.6,1649.8 2042.6,1649.5 2043.6,1650.5 2044.6,1651.1 2045.6,1648.0 2046.6,1650.2 2047.6,1650.6 2048.6,1649.0 2049.6,1650.7 2050.6,1648.3 2051.6,1650.1 2052.6,1650.5 2053.6,1650.3 2054.6,1646.8 2055.6,1648.9 2056.6,1647.9 2057.6,1648.8 2058.6,1649.5 2059.6,1648.6 2060.6,1649.4 2061.6,1646.6 2062.6,1647.1 2063.6,1647.2 2064.6,1648.0 2065.6,1648.2 2066.6,1646.5 2067.6,1646.2 2068.6,1647.5 2069.6,1645.6 2070.6,1647.0 2071.6,1645.7 2072.6,1646.2 2073.6,1647.8 2074.6,1645.8 2075.6,1645.9 2076.6,1645.1 2077.6,1646.1 2078.6,1646.8 2079.6,1646.0 2080.6,1644.4 2081.6,1645.7 2082.6,1646.6 2083.6,1644.6 2084.6,1645.2 2085.6,1644.6 2086.6,1644.9 2087.6,1644.6 2088.6,1644.3 2089.6,1645.8 2090.6,1645.4 2091.6,1643.8 2092.6,1644.8 2093.6,1645.1 2094.6,1644.9 2095.6,1646.0 2096.6,1645.9 2097.6,1646.4 2098.6,1645.2 2099.6,1645.8 2100.6,1646.2 2101.6,1646.4 2102.6,1646.6 2103.6,1646.4 2104.6,1647.1 2105.6,1648.6 2106.6,1646.9 2107.6,1646.3 2108.6,1648.0 2109.6,1647.2 2110.6,1648.8 2111.6,1649.1 2112.6,1649.8 2113.6,1648.7 2114.6,1647.4 2115.6,1650.2 2116.6,1649.7 2117.6,1650.2 2118.6,1649.4 2119.6,1649.1 2120.6,1649.5 2121.6,1648.2 2122.6,1650.5 2123.6,1649.4 2124.6,1649.5 2125.6,1650.3 2126.6,1649.4 2127.6,1650.9 2128.6,1649.8 2129.6,1652.3 2130.6,1651.4 2131.6,1651.1 2132.6,1650.8 2133.6,1650.7 2134.6,1650.3 2135.6,1649.2 2136.6,1650.3 2137.6,1650.2 2138.6,1650.4 2139.6,1651.0 2140.6,1649.4 2141.6,1649.9 2142.6,1650.4 2143.6,1650.6 2144.6,1651.7 2145.6,1653.2 2146.6,1650.9 2147.6,1651.6 2148.6,1651.1 2149.6,1651.3 2150.6,1652.5 2151.6,1651.3 2152.6,1651.6 2153.6,1651.2 2154.6,1650.6 2155.6,1652.0 2156.6,1651.0 2157.6,1652.3 2158.6,1650.3 2159.6,1651.5 2160.6,1652.5 2161.6,1650.7 2162.6,1651.4 2163.6,1652.4 2164.6,1651.5 2165.6,1650.5 2166.6,1650.9 2167.6,1651.4 2168.6,1650.7 2169.6,1650.8 2170.6,1651.3 2171.6,1650.2 2172.6,1652.5 2173.6,1650.7 2174.6,1651.2 2175.6,1651.3 2176.6,1652.3 2177.6,1650.9 2178.6,1652.8 2179.6,1652.7 2180.6,1651.8 2181.6,1650.1 2182.6,1650.1 2183.6,1651.0 2184.6,1651.4 2185.6,1651.7 2186.6,1652.2 2187.6,1651.6 2188.6,1651.2 2189.6,1651.5 2190.6,1649.6 2191.6,1652.1 2192.6,1650.0 2193.6,1649.7 2194.6,1650.6 2195.6,1650.9 2196.5,1650.2 2197.5,1651.0 2198.5,1651.3 2199.5,1651.7 2200.5,1651.5 2201.5,1650.8 2202.5,1651.3 2203.5,1652.2 2204.5,1651.0 2205.5,1651.1 2206.5,1649.5 2207.5,1651.4 2208.5,1652.8 2209.5,1651.8 2210.5,1651.0 2211.5,1652.2 2212.5,1652.2 2213.5,1652.3 2214.5,1650.3 2215.5,1650.3 2216.5,1651.8 2217.5,1651.6 2218.5,1651.6 2219.5,1650.0 2220.5,1651.8 2221.5,1652.8 2222.5,1652.2 2223.5,1653.3 2224.5,1651.6 2225.5,1651.3 2226.5,1652.7 2227.5,1652.0 2228.5,1649.4 2229.5,1650.0 2230.5,1651.4 2231.5,1650.8 2232.5,1652.7 2233.5,1652.5 2234.5,1652.3 2235.5,1651.0 2236.5,1651.1 2237.5,1651.9 2238.5,1651.0 2239.5,1651.8 2240.5,1651.5 2241.5,1651.8 2242.5,1651.3 2243.5,1650.6 2244.5,1648.9 2245.5,1650.1 2246.5,1650.1 2247.5,1651.8 2248.5,1650.1 2249.5,1650.8 2250.5,1651.6 2251.5,1651.8 2252.5,1652.1 2253.5,1651.6 2254.5,1652.5 2255.5,1650.8 2256.5,1652.2 2257.5,1650.1 2258.5,1650.9 2259.5,1651.6 2260.5,1651.7 2261.5,1651.0 2262.5,1650.7 2263.5,1650.2 2264.5,1649.4 2265.5,1649.7 2266.5,1652.5 2267.5,1649.8 2268.5,1650.0 2269.5,1649.9 2270.5,1651.0 2271.5,1651.0 2272.5,1650.7 2273.5,1650.2 2274.5,1651.1 2275.5,1650.1 2276.5,1651.5 2277.5,1652.4 2278.5,1650.5 2279.5,1651.4 2280.5,1650.8 2281.5,1650.9 2282.5,1650.2 2283.5,1651.3 2284.5,1651.2 2285.5,1652.3 2286.5,1653.2 2287.5,1650.4 2288.5,1652.1 2289.5,1650.6 2290.5,1650.8 2291.5,1650.3 2292.5,1651.6 2293.5,1652.2 2294.5,1651.1 2295.5,1651.4 2296.5,1650.6 2297.5,1651.0 2298.5,1650.2 2299.5,1651.2 2300.5,1649.6 2301.5,1653.1 2302.5,1652.2 2303.5,1650.8 2304.5,1650.8 2305.5,1650.9 2306.5,1651.3 2307.5,1651.4 2308.5,1652.8 2309.5,1650.9 2310.5,1649.7 2311.5,1651.4 2312.5,1651.6 2313.5,1650.6 2314.5,1651.9 2315.5,1651.1 2316.5,1650.6 2317.5,1651.2 2318.5,1650.2 2319.5,1650.9 2320.5,1652.6 2321.5,1652.2 2322.5,1651.7 2323.5,1651.3 2324.5,1651.5 2325.5,1650.3 2326.5,1651.4 2327.5,1650.7 2328.5,1650.7 2329.5,1652.5 2330.5,1650.7 2331.5,1651.3 2332.5,1651.3 2333.5,1652.1 2334.5,1651.1 2335.5,1651.6 2336.5,1651.6 2337.5,1651.1 2338.5,1650.8 2339.5,1650.4 2340.5,1652.1 2341.5,1650.6 2342.5,1652.2 2343.5,1652.6 2344.5,1650.8 2345.5,1650.5 2346.5,1650.5 2347.5,1650.8 2348.5,1652.3 2349.5,1650.6 2350.5,1650.4 2351.5,1649.9 2352.5,1651.3 2353.5,1651.6 2354.5,1652.5 2355.5,1651.5 2356.5,1651.2 2357.5,1651.2 2358.5,1653.6 2359.5,1652.5 2360.5,1652.0 2361.5,1651.0 2362.5,1651.1 2363.5,1651.2 2364.5,1651.2 2365.5,1651.7 2366.5,1650.7 2367.5,1652.8 2368.5,1650.5 2369.5,1651.8 2370.5,1651.9 2371.5,1652.0 2372.5,1652.4 2373.5,1651.5 2374.5,1651.4 2375.5,1652.4 2376.5,1652.3 2377.5,1651.2 2378.5,1651.7 2379.5,1649.7 2380.5,1650.5 2381.5,1647.8 2382.5,1649.5 2383.5,1647.2 2384.5,1647.8 2385.5,1647.2 2386.5,1646.6 2387.5,1648.4 2388.5,1649.9 2389.5,1648.7 2390.5,1651.6 2391.5,1650.7 2392.5,1649.6 2393.5,1649.7 2394.5,1649.5 2395.5,1648.8 2396.5,1646.7 2397.5,1646.3 2398.5,1646.7 2399.5,1646.8 2400.5,1649.0 2401.5,1649.2 2402.5,1650.4 2403.5,1650.2 2404.5,1651.3 2405.5,1652.3 2406.5,1654.3 2407.5,1655.9 2408.5,1657.8 2409.5,1657.9 2410.5,1656.7 2411.5,1657.0 2412.5,1658.2 2413.5,1655.6" fill="none" stroke="#ff0080" stroke-width="12.4" stroke-linejoin="round" stroke-linecap="butt"/>
<path d="M242.0,1447.8 243.0,1446.7 244.0,1446.1 245.0,1448.7 246.0,1451.7 247.0,1453.5 248.0,1456.1 249.0,1455.2 250.0,1455.9 251.0,1454.4 252.0,1453.0 253.0,1452.3 254.0,1451.8 255.0,1451.6 256.0,1451.5 257.0,1452.8 258.0,1451.7 259.0,1449.7 260.0,1451.2 261.0,1450.5 262.0,1450.6 263.0,1452.1 264.0,1450.9 265.0,1449.5 266.0,1451.3 267.0,1450.8 268.0,1450.1 269.0,1450.3 270.0,1450.5 271.0,1451.0 272.0,1450.7 273.0,1451.1 274.0,1452.5 275.0,1450.4 276.0,1450.4 277.0,1450.8 278.0,1451.9 279.0,1450.5 280.0,1452.2 281.0,1450.0 282.0,1450.2 283.0,1451.0 284.0,1450.4 285.0,1450.6 286.0,1451.4 287.0,1451.6 288.0,1451.2 289.0,1450.8 290.0,1452.1 291.0,1451.4 292.0,1450.9 293.0,1452.0 294.0,1450.3 295.0,1451.2 296.0,1451.6 297.0,1451.1 298.0,1450.6 299.0,1451.4 300.0,1450.6 301.0,1450.6 302.0,1450.3 303.0,1452.1 304.0,1450.6 305.0,1452.0 306.0,1451.4 307.0,1450.9 308.0,1451.6 309.0,1451.3 310.0,1451.2 311.0,1450.0 312.0,1451.2 313.0,1451.8 314.0,1451.5 315.0,1451.9 316.0,1452.3 317.0,1451.4 318.0,1452.7 319.0,1449.9 320.0,1450.9 321.0,1449.1 322.0,1451.8 323.0,1451.2 324.0,1452.5 325.0,1450.8 326.0,1449.5 327.0,1452.1 328.0,1450.0 329.0,1450.1 330.0,1451.0 331.0,1451.6 332.0,1450.7 333.0,1451.3 334.0,1449.6 335.0,1452.5 336.0,1451.1 337.0,1451.2 338.0,1451.6 339.0,1451.3 340.0,1451.3 341.0,1450.4 342.0,1451.0 343.0,1451.5 344.0,1452.0 345.0,1451.0 346.0,1451.2 347.0,1451.4 348.0,1451.6 349.0,1451.3 350.0,1450.9 351.0,1450.7 352.0,1452.0 353.0,1451.4 354.0,1451.2 355.0,1453.9 356.0,1451.9 357.0,1451.8 358.0,1451.3 359.0,1450.3 360.0,1452.1 361.0,1451.1 362.0,1451.2 363.0,1452.0 364.0,1452.0 365.0,1451.4 366.0,1451.2 367.0,1452.8 368.0,1451.6 369.0,1450.4 370.0,1451.8 371.0,1451.3 372.0,1451.2 373.0,1451.7 374.0,1451.4 375.0,1452.8 376.0,1451.3 377.0,1451.4 378.0,1452.1 379.0,1450.7 380.0,1452.0 381.0,1451.1 382.0,1452.1 383.0,1450.5 384.0,1451.5 385.0,1449.9 386.0,1450.8 387.0,1451.2 388.0,1451.6 389.0,1452.8 390.0,1452.7 391.0,1450.1 392.0,1450.6 393.0,1452.2 394.0,1451.6 395.0,1450.1 396.0,1451.6 397.0,1450.3 398.0,1450.5 399.0,1450.2 400.0,1451.0 401.0,1453.0 402.0,1451.5 403.0,1451.1 404.0,1453.2 405.0,1450.9 406.0,1451.1 407.0,1451.0 408.0,1451.6 409.0,1451.0 410.0,1452.4 411.0,1451.0 412.0,1451.7 413.0,1451.4 414.0,1450.5 415.0,1450.5 416.0,1451.2 417.0,1449.4 418.0,1451.2 419.0,1451.3 420.0,1451.4 421.0,1451.2 422.0,1451.5 423.0,1451.0 424.0,1451.8 425.0,1449.9 426.0,1452.0 427.0,1450.5 428.0,1451.6 429.0,1450.9 430.0,1450.9 431.0,1450.6 432.0,1452.3 433.0,1450.4 434.0,1450.3 435.0,1451.4 436.0,1451.5 437.0,1451.3 438.0,1450.5 439.0,1450.7 440.0,1452.0 441.0,1450.4 442.0,1451.8 443.0,1451.9 444.0,1451.4 445.0,1450.3 446.0,1452.8 447.0,1451.4 448.0,1451.4 449.0,1451.0 450.0,1450.5 451.0,1451.1 452.0,1451.4 453.0,1450.6 454.0,1451.4 455.0,1452.2 456.0,1451.6 457.0,1451.2 458.0,1452.1 459.0,1452.0 459.9,1452.0 460.9,1450.7 461.9,1449.8 462.9,1451.9 463.9,1451.3 464.9,1451.0 465.9,1451.7 466.9,1450.9 467.9,1450.8 468.9,1452.7 469.9,1450.0 470.9,1452.0 471.9,1452.1 472.9,1452.7 473.9,1451.5 474.9,1451.7 475.9,1450.6 476.9,1451.3 477.9,1449.6 478.9,1450.9 479.9,1451.3 480.9,1451.2 481.9,1450.9 482.9,1452.2 483.9,1450.1 484.9,1451.4 485.9,1451.0 486.9,1451.4 487.9,1451.4 488.9,1452.9 489.9,1450.5 490.9,1452.4 491.9,1452.4 492.9,1451.2 493.9,1450.8 494.9,1450.3 495.9,1450.6 496.9,1453.0 497.9,1449.6 498.9,1451.7 499.9,1450.8 500.9,1452.9 501.9,1451.6 502.9,1450.3 503.9,1450.9 504.9,1451.5 505.9,1451.4 506.9,1450.6 507.9,1451.1 508.9,1451.0 509.9,1451.7 510.9,1451.6 511.9,1451.5 512.9,1450.9 513.9,1452.0 514.9,1450.9 515.9,1450.7 516.9,1451.0 517.9,1451.1 518.9,1451.1 519.9,1449.8 520.9,1452.4 521.9,1451.9 522.9,1452.4 523.9,1451.0 524.9,1452.0 525.9,1451.5 526.9,1451.4 527.9,1452.8 528.9,1450.9 529.9,1451.8 530.9,1450.0 531.9,1451.8 532.9,1451.2 533.9,1450.6 534.9,1450.9 535.9,1449.7 536.9,1450.5 537.9,1451.5 538.9,1449.3 539.9,1452.2 540.9,1452.2 541.9,1450.8 542.9,1450.2 543.9,1450.3 544.9,1450.4 545.9,1450.8 546.9,1453.1 547.9,1450.5 548.9,1452.0 549.9,1452.4 550.9,1450.6 551.9,1451.2 552.9,1451.9 553.9,1450.9 554.9,1452.4 555.9,1453.1 556.9,1451.3 557.9,1450.7 558.9,1451.9 559.9,1451.7 560.9,1450.8 561.9,1451.3 562.9,1451.5 563.9,1451.8 564.9,1452.3 565.9,1451.0 566.9,1450.4 567.9,1450.1 568.9,1452.9 569.9,1451.1 570.9,1451.1 571.9,1453.4 572.9,1452.3 573.9,1453.2 574.9,1451.3 575.9,1450.8 576.9,1451.0 577.9,1451.9 578.9,1451.7 579.9,1451.7 580.9,1453.2 581.9,1452.5 582.9,1450.5 583.9,1451.7 584.9,1451.9 585.9,1450.8 586.9,1453.2 587.9,1452.1 588.9,1452.6 589.9,1451.0 590.9,1450.5 591.9,1452.0 592.9,1451.2 593.9,1450.9 594.9,1451.3 595.9,1451.5 596.9,1451.5 597.9,1451.2 598.9,1451.8 599.9,1453.7 600.9,1452.3 601.9,1451.0 602.9,1453.0 603.9,1451.0 604.9,1450.1 605.9,1450.3 606.9,1449.7 607.9,1452.3 608.9,1450.5 609.9,1450.2 610.9,1450.9 611.9,1451.2 612.9,1450.4 613.9,1450.9 614.9,1451.3 615.9,1451.9 616.9,1450.6 617.9,1451.8 618.9,1451.5 619.9,1451.8 620.9,1450.9 621.9,1450.4 622.9,1452.1 623.9,1451.8 624.9,1450.8 625.9,1450.7 626.9,1451.8 627.9,1452.9 628.9,1451.6 629.9,1453.3 630.9,1451.5 631.9,1451.5 632.9,1451.6 633.9,1452.1 634.9,1450.0 635.9,1451.4 636.9,1452.2 637.9,1450.0 638.9,1451.4 639.9,1451.8 640.9,1452.6 641.9,1452.4 642.9,1451.2 643.9,1452.8 644.9,1450.3 645.9,1450.0 646.9,1452.2 647.9,1451.7 648.9,1450.2 649.9,1452.0 650.9,1451.8 651.9,1451.6 652.9,1450.7 653.9,1450.0 654.9,1449.7 655.9,1450.8 656.9,1450.8 657.9,1450.5 658.9,1450.5 659.9,1451.7 660.9,1450.0 661.9,1450.3 662.9,1452.4 663.9,1450.3 664.9,1450.3 665.9,1451.6 666.9,1449.3 667.9,1452.0 668.9,1449.6 669.9,1449.9 670.9,1449.5 671.9,1449.8 672.9,1449.9 673.9,1451.2 674.9,1450.3 675.9,1451.5 676.9,1450.9 677.9,1449.2 678.9,1450.2 679.9,1449.6 680.9,1449.7 681.9,1450.1 682.9,1450.2 683.9,1450.2 684.9,1448.1 685.9,1449.6 686.9,1449.2 687.9,1451.0 688.9,1449.2 689.9,1449.3 690.9,1449.2 691.9,1449.7 692.9,1448.0 693.9,1448.7 694.9,1448.5 695.9,1448.5 696.9,1448.1 697.9,1447.7 698.9,1448.0 699.9,1446.7 700.9,1448.8 701.9,1447.3 702.9,1445.6 703.9,1446.5 704.9,1447.2 705.9,1446.0 706.9,1445.7 707.9,1443.6 708.9,1446.2 709.9,1444.7 710.9,1442.6 711.9,1443.4 712.9,1444.4 713.9,1443.0 714.9,1440.8 715.9,1440.9 716.9,1440.9 717.9,1441.6 718.9,1439.2 719.9,1438.7 720.9,1436.9 721.9,1436.1 722.9,1434.1 723.9,1432.5 724.9,1431.1 725.9,1430.1 726.9,1429.9 727.9,1427.1 728.9,1426.0 729.9,1423.4 730.9,1420.5 731.9,1417.3 732.9,1416.5 733.9,1412.4 734.9,1408.9 735.9,1406.0 736.9,1400.8 737.9,1395.0 738.9,1389.8 739.9,1384.1 740.9,1379.1 741.9,1369.4 742.9,1361.0 743.9,1353.5 744.9,1344.6 745.9,1333.9 746.9,1324.0 747.9,1311.6 748.9,1298.0 749.9,1284.0 750.9,1270.4 751.9,1254.4 752.9,1237.2 753.9,1217.8 754.9,1200.7 755.9,1180.1 756.9,1160.7 757.9,1145.0 758.9,1126.4 759.9,1109.4 760.9,1094.6 761.9,1081.3 762.9,1069.1 763.9,1060.8 764.9,1055.8 765.9,1053.9 766.9,1054.7 767.9,1057.9 768.9,1068.7 769.9,1076.5 770.9,1089.5 771.9,1105.4 772.9,1121.5 773.9,1139.7 774.9,1159.7 775.9,1177.7 776.9,1194.9 777.9,1214.0 778.9,1231.6 779.9,1249.8 780.9,1264.4 781.9,1279.7 782.9,1293.4 783.9,1308.5 784.9,1320.8 785.9,1332.4 786.9,1343.0 787.9,1350.9 788.9,1360.3 789.9,1367.6 790.9,1376.7 791.9,1383.0 792.9,1387.1 793.9,1394.1 794.9,1398.7 795.9,1403.1 796.9,1407.6 797.9,1410.3 798.9,1413.8 799.9,1416.3 800.9,1417.6 801.9,1417.6 802.9,1419.9 803.9,1420.4 804.9,1421.1 805.9,1421.2 806.9,1425.5 807.9,1424.6 808.9,1425.6 809.9,1426.7 810.9,1428.2 811.9,1427.2 812.9,1426.1 813.9,1428.2 814.9,1428.9 815.9,1428.9 816.9,1431.0 817.9,1429.9 818.9,1430.9 819.9,1430.3 820.9,1431.9 821.9,1431.0 822.9,1432.5 823.9,1432.1 824.9,1432.3 825.9,1432.5 826.9,1431.0 827.9,1431.9 828.9,1432.4 829.9,1431.6 830.9,1432.5 831.9,1431.8 832.9,1430.0 833.9,1431.1 834.9,1429.6 835.9,1429.9 836.9,1430.3 837.9,1428.5 838.9,1428.9 839.9,1429.9 840.9,1430.2 841.9,1429.5 842.9,1431.9 843.9,1432.0 844.9,1432.3 845.9,1432.6 846.9,1432.9 847.9,1431.7 848.9,1432.6 849.9,1432.0 850.9,1431.9 851.9,1431.6 852.9,1433.3 853.9,1430.4 854.9,1431.7 855.9,1432.9 856.9,1433.0 857.9,1434.2 858.9,1437.3 859.9,1437.7 860.9,1440.2 861.9,1442.6 862.9,1443.3 863.9,1444.2 864.9,1445.3 865.9,1446.5 866.9,1445.3 867.9,1446.5 868.9,1445.9 869.9,1445.0 870.9,1443.0 871.9,1443.7 872.9,1441.0 873.9,1439.3 874.9,1438.0 875.9,1439.6 876.9,1438.1 877.9,1438.5 878.9,1439.6 879.9,1441.2 880.9,1442.5 881.9,1441.7 882.9,1444.4 883.9,1445.0 884.9,1446.0 885.9,1445.2 886.9,1446.9 887.9,1447.5 888.9,1445.6 889.9,1446.0 890.9,1447.1 891.9,1447.4 892.9,1446.5 893.8,1447.5 894.8,1445.4 895.8,1447.5 896.8,1447.2 897.8,1447.7 898.8,1447.5 899.8,1447.8 900.8,1447.1 901.8,1448.8 902.8,1446.3 903.8,1448.4 904.8,1447.9 905.8,1450.2 906.8,1448.0 907.8,1449.2 908.8,1449.3 909.8,1450.2 910.8,1449.7 911.8,1449.0 912.8,1449.9 913.8,1451.1 914.8,1450.8 915.8,1449.6 916.8,1449.2 917.8,1449.2 918.8,1450.2 919.8,1450.2 920.8,1450.1 921.8,1450.0 922.8,1450.6 923.8,1451.5 924.8,1451.3 925.8,1450.2 926.8,1451.2 927.8,1450.4 928.8,1451.6 929.8,1451.5 930.8,1451.4 931.8,1452.4 932.8,1451.5 933.8,1451.4 934.8,1451.8 935.8,1449.9 936.8,1450.4 937.8,1450.4 938.8,1451.3 939.8,1450.7 940.8,1449.6 941.8,1450.0 942.8,1450.4 943.8,1450.1 944.8,1450.1 945.8,1449.1 946.8,1450.2 947.8,1448.9 948.8,1449.3 949.8,1448.9 950.8,1448.9 951.8,1450.1 952.8,1448.4 953.8,1448.2 954.8,1446.5 955.8,1447.7 956.8,1448.8 957.8,1448.6 958.8,1449.9 959.8,1449.4 960.8,1450.6 961.8,1450.2 962.8,1450.8 963.8,1449.4 964.8,1450.0 965.8,1448.5 966.8,1447.8 967.8,1449.0 968.8,1446.7 969.8,1446.9 970.8,1449.0 971.8,1448.0 972.8,1448.5 973.8,1448.8 974.8,1449.0 975.8,1451.1 976.8,1450.1 977.8,1451.7 978.8,1451.0 979.8,1450.8 980.8,1451.4 981.8,1451.8 982.8,1454.0 983.8,1451.6 984.8,1452.6 985.8,1451.1 986.8,1452.8 987.8,1452.4 988.8,1452.8 989.8,1452.6 990.8,1452.2 991.8,1452.7 992.8,1452.6 993.8,1453.4 994.8,1452.6 995.8,1452.5 996.8,1451.6 997.8,1453.3 998.8,1452.4 999.8,1451.7 1000.8,1453.3 1001.8,1453.0 1002.8,1452.2 1003.8,1452.1 1004.8,1451.0 1005.8,1450.1 1006.8,1452.1 1007.8,1450.8 1008.8,1452.6 1009.8,1451.8 1010.8,1452.2 1011.8,1451.6 1012.8,1452.4 1013.8,1452.7 1014.8,1452.2 1015.8,1452.7 1016.8,1452.7 1017.8,1451.9 1018.8,1450.7 1019.8,1452.6 1020.8,1451.6 1021.8,1451.2 1022.8,1450.6 1023.8,1450.7 1024.8,1453.1 1025.8,1453.5 1026.8,1453.2 1027.8,1453.7 1028.8,1450.5 1029.8,1452.7 1030.8,1451.0 1031.8,1450.9 1032.8,1452.6 1033.8,1452.8 1034.8,1451.4 1035.8,1450.8 1036.8,1450.8 1037.8,1451.9 1038.8,1452.8 1039.8,1453.7 1040.8,1452.5 1041.8,1451.3 1042.8,1451.2 1043.8,1452.1 1044.8,1452.6 1045.8,1450.5 1046.8,1452.3 1047.8,1451.6 1048.8,1452.8 1049.8,1450.8 1050.8,1452.9 1051.8,1453.2 1052.8,1453.2 1053.8,1453.3 1054.8,1452.2 1055.8,1452.2 1056.8,1451.2 1057.8,1452.1 1058.8,1451.5 1059.8,1452.6 1060.8,1452.7 1061.8,1452.0 1062.8,1453.4 1063.8,1451.0 1064.8,1451.7 1065.8,1453.5 1066.8,1451.9 1067.8,1452.7 1068.8,1450.1 1069.8,1453.3 1070.8,1451.6 1071.8,1451.6 1072.8,1452.9 1073.8,1452.2 1074.8,1450.7 1075.8,1453.2 1076.8,1451.4 1077.8,1451.8 1078.8,1451.6 1079.8,1451.8 1080.8,1451.8 1081.8,1451.9 1082.8,1451.8 1083.8,1454.1 1084.8,1452.4 1085.8,1452.6 1086.8,1451.7 1087.8,1453.6 1088.8,1452.6 1089.8,1452.2 1090.8,1451.7 1091.8,1452.8 1092.8,1450.8 1093.8,1451.6 1094.8,1451.9 1095.8,1452.4 1096.8,1452.3 1097.8,1451.0 1098.8,1452.6 1099.8,1451.8 1100.8,1451.7 1101.8,1452.3 1102.8,1451.9 1103.8,1451.8 1104.8,1451.9 1105.8,1452.7 1106.8,1452.2 1107.8,1452.3 1108.8,1451.7 1109.8,1453.1 1110.8,1452.3 1111.8,1451.6 1112.8,1453.0 1113.8,1451.1 1114.8,1451.6 1115.8,1452.8 1116.8,1451.8 1117.8,1451.9 1118.8,1451.9 1119.8,1452.2 1120.8,1452.6 1121.8,1452.7 1122.8,1451.7 1123.8,1451.8 1124.8,1450.6 1125.8,1451.8 1126.8,1452.6 1127.8,1452.2 1128.8,1453.1 1129.8,1452.0 1130.8,1452.4 1131.8,1452.9 1132.8,1451.3 1133.8,1453.3 1134.8,1451.1 1135.8,1452.0 1136.8,1450.8 1137.8,1452.0 1138.8,1451.4 1139.8,1453.0 1140.8,1450.6 1141.8,1452.6 1142.8,1452.5 1143.8,1452.7 1144.8,1453.0 1145.8,1452.9 1146.8,1451.5 1147.8,1452.7 1148.8,1451.6 1149.8,1451.7 1150.8,1452.0 1151.8,1451.8 1152.8,1451.8 1153.8,1453.1 1154.8,1452.3 1155.8,1450.7 1156.8,1451.6 1157.8,1451.8 1158.8,1454.0 1159.8,1452.4 1160.8,1451.8 1161.8,1452.6 1162.8,1450.4 1163.8,1453.5 1164.8,1452.0 1165.8,1451.5 1166.8,1452.9 1167.8,1451.6 1168.8,1451.4 1169.8,1452.9 1170.8,1453.8 1171.8,1452.0 1172.8,1452.2 1173.8,1452.2 1174.8,1452.6 1175.8,1451.9 1176.8,1452.4 1177.8,1451.7 1178.8,1452.2 1179.8,1452.9 1180.8,1451.1 1181.8,1452.9 1182.8,1453.6 1183.8,1451.7 1184.8,1452.0 1185.8,1452.4 1186.8,1452.3 1187.8,1451.4 1188.8,1452.9 1189.8,1452.8 1190.8,1453.1 1191.8,1452.9 1192.8,1451.8 1193.8,1452.2 1194.8,1451.8 1195.8,1454.4 1196.8,1452.0 1197.8,1453.0 1198.8,1453.5 1199.8,1452.2 1200.8,1452.5 1201.8,1452.6 1202.8,1453.6 1203.8,1451.4 1204.8,1452.5 1205.8,1452.7 1206.8,1452.7 1207.8,1451.7 1208.8,1453.1 1209.8,1452.7 1210.8,1451.5 1211.8,1451.5 1212.8,1453.9 1213.8,1451.8 1214.8,1451.1 1215.8,1452.7 1216.8,1451.5 1217.8,1452.3 1218.8,1452.7 1219.8,1451.6 1220.8,1451.2 1221.8,1453.8 1222.8,1451.3 1223.8,1451.4 1224.8,1452.3 1225.8,1452.7 1226.8,1452.3 1227.8,1451.7 1228.8,1453.1 1229.8,1451.5 1230.8,1451.7 1231.8,1452.9 1232.8,1453.2 1233.8,1452.7 1234.8,1453.1 1235.8,1452.7 1236.8,1453.0 1237.8,1451.8 1238.8,1451.8 1239.8,1452.8 1240.8,1453.2 1241.8,1452.1 1242.8,1451.8 1243.8,1452.3 1244.8,1453.2 1245.8,1452.3 1246.8,1452.2 1247.8,1452.3 1248.8,1452.2 1249.8,1452.8 1250.8,1452.1 1251.8,1452.5 1252.8,1452.2 1253.8,1451.8 1254.8,1452.4 1255.8,1452.6 1256.8,1451.0 1257.8,1452.6 1258.8,1452.6 1259.8,1452.3 1260.8,1451.6 1261.8,1451.9 1262.8,1452.9 1263.8,1451.7 1264.8,1453.2 1265.8,1452.1 1266.8,1452.7 1267.8,1450.1 1268.8,1452.8 1269.8,1452.6 1270.8,1451.2 1271.8,1453.2 1272.8,1452.0 1273.8,1451.5 1274.8,1453.5 1275.8,1453.5 1276.8,1453.2 1277.8,1453.1 1278.8,1453.3 1279.8,1451.1 1280.8,1452.3 1281.8,1453.5 1282.8,1452.9 1283.8,1452.5 1284.8,1452.2 1285.8,1452.2 1286.8,1451.8 1287.8,1452.4 1288.8,1450.2 1289.8,1453.3 1290.8,1452.5 1291.8,1450.2 1292.8,1452.5 1293.8,1452.6 1294.8,1452.4 1295.8,1453.0 1296.8,1453.1 1297.8,1452.9 1298.8,1451.1 1299.8,1450.8 1300.8,1451.8 1301.8,1453.2 1302.8,1451.0 1303.8,1452.1 1304.8,1452.0 1305.8,1452.3 1306.8,1451.2 1307.8,1452.9 1308.8,1452.3 1309.8,1453.2 1310.8,1452.6 1311.8,1452.4 1312.8,1453.3 1313.8,1453.5 1314.8,1452.9 1315.8,1451.9 1316.8,1452.8 1317.8,1453.3 1318.8,1453.1 1319.8,1453.8 1320.8,1453.4 1321.8,1452.2 1322.8,1454.2 1323.8,1453.1 1324.8,1453.1 1325.8,1452.7 1326.8,1451.5 1327.8,1450.9 1328.7,1453.0 1329.7,1453.3 1330.7,1453.8 1331.7,1451.9 1332.7,1452.4 1333.7,1452.1 1334.7,1453.0 1335.7,1451.9 1336.7,1451.9 1337.7,1451.4 1338.7,1452.4 1339.7,1453.3 1340.7,1451.6 1341.7,1452.2 1342.7,1453.7 1343.7,1451.9 1344.7,1450.9 1345.7,1451.8 1346.7,1453.2 1347.7,1452.6 1348.7,1451.8 1349.7,1452.0 1350.7,1453.5 1351.7,1451.4 1352.7,1453.6 1353.7,1452.2 1354.7,1453.0 1355.7,1451.7 1356.7,1451.9 1357.7,1454.4 1358.7,1452.4 1359.7,1451.8 1360.7,1453.0 1361.7,1452.0 1362.7,1451.8 1363.7,1451.9 1364.7,1452.1 1365.7,1453.6 1366.7,1451.3 1367.7,1452.9 1368.7,1451.3 1369.7,1453.0 1370.7,1452.2 1371.7,1453.1 1372.7,1452.4 1373.7,1453.3 1374.7,1453.1 1375.7,1452.9 1376.7,1453.1 1377.7,1452.2 1378.7,1452.3 1379.7,1452.0 1380.7,1453.0 1381.7,1452.9 1382.7,1452.5 1383.7,1451.7 1384.7,1452.5 1385.7,1453.0 1386.7,1453.2 1387.7,1452.1 1388.7,1453.2 1389.7,1451.6 1390.7,1452.2 1391.7,1451.7 1392.7,1452.8 1393.7,1451.9 1394.7,1452.0 1395.7,1453.4 1396.7,1453.4 1397.7,1451.3 1398.7,1453.4 1399.7,1453.3 1400.7,1453.3 1401.7,1452.3 1402.7,1453.7 1403.7,1453.1 1404.7,1451.6 1405.7,1450.9 1406.7,1451.8 1407.7,1453.0 1408.7,1455.2 1409.7,1451.6 1410.7,1453.0 1411.7,1452.8 1412.7,1452.8 1413.7,1453.2 1414.7,1453.5 1415.7,1452.7 1416.7,1454.0 1417.7,1453.3 1418.7,1453.6 1419.7,1453.6 1420.7,1451.9 1421.7,1453.9 1422.7,1451.9 1423.7,1452.8 1424.7,1452.5 1425.7,1452.0 1426.7,1452.6 1427.7,1451.4 1428.7,1453.1 1429.7,1452.6 1430.7,1452.1 1431.7,1452.8 1432.7,1452.9 1433.7,1452.5 1434.7,1451.2 1435.7,1453.0 1436.7,1452.9 1437.7,1454.2 1438.7,1454.5 1439.7,1453.6 1440.7,1453.1 1441.7,1453.0 1442.7,1452.3 1443.7,1452.4 1444.7,1452.0 1445.7,1452.1 1446.7,1452.0 1447.7,1453.7 1448.7,1454.0 1449.7,1450.4 1450.7,1452.7 1451.7,1451.0 1452.7,1451.5 1453.7,1452.5 1454.7,1452.4 1455.7,1455.2 1456.7,1452.7 1457.7,1452.0 1458.7,1451.5 1459.7,1453.1 1460.7,1452.0 1461.7,1452.4 1462.7,1451.6 1463.7,1453.6 1464.7,1453.1 1465.7,1453.6 1466.7,1452.3 1467.7,1452.8 1468.7,1452.4 1469.7,1451.9 1470.7,1453.2 1471.7,1451.2 1472.7,1452.2 1473.7,1451.7 1474.7,1452.8 1475.7,1451.5 1476.7,1452.6 1477.7,1452.0 1478.7,1452.3 1479.7,1452.4 1480.7,1454.3 1481.7,1451.9 1482.7,1453.7 1483.7,1452.4 1484.7,1455.1 1485.7,1452.9 1486.7,1453.5 1487.7,1451.6 1488.7,1453.9 1489.7,1452.7 1490.7,1452.1 1491.7,1452.8 1492.7,1454.0 1493.7,1452.3 1494.7,1452.9 1495.7,1453.7 1496.7,1453.6 1497.7,1452.0 1498.7,1451.5 1499.7,1453.5 1500.7,1453.2 1501.7,1453.4 1502.7,1453.6 1503.7,1452.8 1504.7,1453.3 1505.7,1452.3 1506.7,1452.6 1507.7,1452.9 1508.7,1452.3 1509.7,1452.6 1510.7,1454.1 1511.7,1452.7 1512.7,1453.4 1513.7,1453.0 1514.7,1451.8 1515.7,1453.4 1516.7,1451.3 1517.7,1453.1 1518.7,1452.7 1519.7,1452.1 1520.7,1453.3 1521.7,1452.4 1522.7,1454.3 1523.7,1451.3 1524.7,1453.9 1525.7,1453.6 1526.7,1453.1 1527.7,1451.8 1528.7,1451.8 1529.7,1451.1 1530.7,1453.0 1531.7,1452.6 1532.7,1453.5 1533.7,1453.0 1534.7,1453.3 1535.7,1451.5 1536.7,1452.9 1537.7,1453.1 1538.7,1453.7 1539.7,1450.7 1540.7,1453.7 1541.7,1451.3 1542.7,1452.9 1543.7,1453.0 1544.7,1454.5 1545.7,1453.3 1546.7,1452.9 1547.7,1452.2 1548.7,1452.1 1549.7,1451.7 1550.7,1452.6 1551.7,1452.1 1552.7,1453.8 1553.7,1452.0 1554.7,1453.5 1555.7,1452.7 1556.7,1452.1 1557.7,1452.9 1558.7,1451.3 1559.7,1453.1 1560.7,1452.8 1561.7,1452.4 1562.7,1453.0 1563.7,1453.3 1564.7,1453.6 1565.7,1452.9 1566.7,1452.4 1567.7,1453.3 1568.7,1451.4 1569.7,1454.2 1570.7,1452.6 1571.7,1453.2 1572.7,1454.1 1573.7,1452.3 1574.7,1452.6 1575.7,1453.0 1576.7,1452.1 1577.7,1453.7 1578.7,1451.5 1579.7,1452.5 1580.7,1453.1 1581.7,1453.0 1582.7,1452.4 1583.7,1454.0 1584.7,1454.0 1585.7,1452.9 1586.7,1453.5 1587.7,1451.9 1588.7,1453.7 1589.7,1453.1 1590.7,1453.5 1591.7,1453.4 1592.7,1453.1 1593.7,1452.8 1594.7,1451.7 1595.7,1451.5 1596.7,1451.9 1597.7,1453.5 1598.7,1453.0 1599.7,1452.4 1600.7,1452.3 1601.7,1453.4 1602.7,1452.8 1603.7,1454.1 1604.7,1452.6 1605.7,1452.0 1606.7,1451.2 1607.7,1452.2 1608.7,1453.2 1609.7,1451.7 1610.7,1453.4 1611.7,1453.4 1612.7,1451.9 1613.7,1453.2 1614.7,1451.8 1615.7,1453.0 1616.7,1452.5 1617.7,1453.4 1618.7,1452.0 1619.7,1452.7 1620.7,1453.3 1621.7,1452.5 1622.7,1452.6 1623.7,1452.3 1624.7,1453.7 1625.7,1453.1 1626.7,1453.5 1627.7,1453.6 1628.7,1453.3 1629.7,1453.2 1630.7,1452.4 1631.7,1452.9 1632.7,1453.3 1633.7,1451.9 1634.7,1452.1 1635.7,1453.5 1636.7,1454.3 1637.7,1453.3 1638.7,1453.0 1639.7,1454.1 1640.7,1453.7 1641.7,1454.1 1642.7,1453.6 1643.7,1453.1 1644.7,1453.6 1645.7,1454.1 1646.7,1453.8 1647.7,1451.7 1648.7,1454.3 1649.7,1452.6 1650.7,1452.0 1651.7,1451.9 1652.7,1453.2 1653.7,1451.1 1654.7,1451.9 1655.7,1453.0 1656.7,1453.4 1657.7,1454.2 1658.7,1452.9 1659.7,1452.3 1660.7,1452.3 1661.7,1453.5 1662.7,1453.0 1663.7,1453.2 1664.7,1452.4 1665.7,1452.2 1666.7,1452.4 1667.7,1453.1 1668.7,1453.2 1669.7,1454.1 1670.7,1453.5 1671.7,1453.0 1672.7,1453.9 1673.7,1451.8 1674.7,1452.3 1675.7,1453.4 1676.7,1453.7 1677.7,1453.0 1678.7,1451.8 1679.7,1451.9 1680.7,1453.2 1681.7,1453.4 1682.7,1451.4 1683.7,1452.6 1684.7,1452.9 1685.7,1453.8 1686.7,1453.9 1687.7,1452.6 1688.7,1452.2 1689.7,1452.8 1690.7,1452.5 1691.7,1452.4 1692.7,1453.5 1693.7,1453.0 1694.7,1450.9 1695.7,1453.0 1696.7,1453.4 1697.7,1451.9 1698.7,1454.2 1699.7,1453.3 1700.7,1453.0 1701.7,1452.5 1702.7,1453.8 1703.7,1453.8 1704.7,1452.4 1705.7,1451.1 1706.7,1454.0 1707.7,1452.8 1708.7,1451.3 1709.7,1453.9 1710.7,1450.9 1711.7,1452.5 1712.7,1451.8 1713.7,1451.8 1714.7,1453.0 1715.7,1454.8 1716.7,1452.3 1717.7,1454.0 1718.7,1452.3 1719.7,1452.2 1720.7,1453.1 1721.7,1451.5 1722.7,1454.3 1723.7,1452.3 1724.7,1451.8 1725.7,1452.9 1726.7,1452.7 1727.7,1452.3 1728.7,1453.3 1729.7,1454.3 1730.7,1452.8 1731.7,1452.4 1732.7,1453.8 1733.7,1453.8 1734.7,1452.4 1735.7,1452.9 1736.7,1452.3 1737.7,1451.8 1738.7,1453.7 1739.7,1453.4 1740.7,1454.2 1741.7,1454.5 1742.7,1450.9 1743.7,1452.0 1744.7,1452.9 1745.7,1454.5 1746.7,1453.0 1747.7,1453.7 1748.7,1452.4 1749.7,1454.1 1750.7,1454.2 1751.7,1454.1 1752.7,1453.8 1753.7,1452.7 1754.7,1454.5 1755.7,1452.5 1756.7,1452.3 1757.7,1452.4 1758.7,1453.2 1759.7,1454.1 1760.7,1453.1 1761.7,1453.5 1762.6,1453.0 1763.6,1453.6 1764.6,1453.2 1765.6,1452.1 1766.6,1455.2 1767.6,1453.8 1768.6,1453.8 1769.6,1453.5 1770.6,1452.6 1771.6,1453.0 1772.6,1453.6 1773.6,1454.1 1774.6,1453.5 1775.6,1452.6 1776.6,1452.9 1777.6,1452.2 1778.6,1452.8 1779.6,1452.9 1780.6,1452.6 1781.6,1453.4 1782.6,1454.7 1783.6,1452.6 1784.6,1451.9 1785.6,1452.5 1786.6,1454.0 1787.6,1452.3 1788.6,1454.0 1789.6,1454.0 1790.6,1452.9 1791.6,1451.9 1792.6,1453.5 1793.6,1452.4 1794.6,1453.2 1795.6,1454.6 1796.6,1453.4 1797.6,1451.6 1798.6,1453.1 1799.6,1452.2 1800.6,1454.5 1801.6,1453.4 1802.6,1452.6 1803.6,1453.2 1804.6,1452.9 1805.6,1452.3 1806.6,1452.1 1807.6,1453.0 1808.6,1452.5 1809.6,1452.9 1810.6,1453.6 1811.6,1454.0 1812.6,1452.5 1813.6,1453.4 1814.6,1452.3 1815.6,1451.4 1816.6,1454.0 1817.6,1454.4 1818.6,1452.7 1819.6,1452.2 1820.6,1451.8 1821.6,1452.9 1822.6,1453.8 1823.6,1453.5 1824.6,1452.0 1825.6,1453.3 1826.6,1451.9 1827.6,1452.9 1828.6,1453.4 1829.6,1453.4 1830.6,1451.6 1831.6,1452.5 1832.6,1453.1 1833.6,1453.5 1834.6,1452.8 1835.6,1453.6 1836.6,1454.2 1837.6,1451.9 1838.6,1453.4 1839.6,1455.1 1840.6,1453.4 1841.6,1453.0 1842.6,1454.1 1843.6,1454.0 1844.6,1453.3 1845.6,1451.3 1846.6,1453.1 1847.6,1453.4 1848.6,1453.6 1849.6,1454.4 1850.6,1451.9 1851.6,1452.3 1852.6,1453.2 1853.6,1453.9 1854.6,1452.6 1855.6,1452.4 1856.6,1453.5 1857.6,1453.3 1858.6,1453.9 1859.6,1453.0 1860.6,1453.5 1861.6,1451.9 1862.6,1453.6 1863.6,1453.5 1864.6,1452.9 1865.6,1452.2 1866.6,1454.5 1867.6,1453.9 1868.6,1453.1 1869.6,1453.9 1870.6,1454.6 1871.6,1452.9 1872.6,1454.4 1873.6,1453.8 1874.6,1453.0 1875.6,1453.0 1876.6,1454.3 1877.6,1454.1 1878.6,1453.7 1879.6,1452.5 1880.6,1452.9 1881.6,1453.2 1882.6,1452.1 1883.6,1452.0 1884.6,1452.6 1885.6,1453.6 1886.6,1453.7 1887.6,1453.2 1888.6,1453.8 1889.6,1454.5 1890.6,1452.3 1891.6,1453.9 1892.6,1452.8 1893.6,1454.4 1894.6,1451.8 1895.6,1453.5 1896.6,1451.8 1897.6,1453.2 1898.6,1453.2 1899.6,1453.0 1900.6,1453.8 1901.6,1452.3 1902.6,1453.1 1903.6,1453.8 1904.6,1453.0 1905.6,1453.8 1906.6,1453.2 1907.6,1453.5 1908.6,1452.6 1909.6,1452.3 1910.6,1452.9 1911.6,1454.3 1912.6,1453.6 1913.6,1453.0 1914.6,1452.8 1915.6,1454.2 1916.6,1453.9 1917.6,1453.3 1918.6,1453.8 1919.6,1453.4 1920.6,1454.4 1921.6,1452.5 1922.6,1453.5 1923.6,1453.7 1924.6,1453.7 1925.6,1452.7 1926.6,1452.8 1927.6,1453.9 1928.6,1454.7 1929.6,1452.6 1930.6,1453.1 1931.6,1454.3 1932.6,1453.2 1933.6,1453.9 1934.6,1454.1 1935.6,1453.2 1936.6,1454.9 1937.6,1453.4 1938.6,1453.0 1939.6,1454.1 1940.6,1454.3 1941.6,1452.7 1942.6,1453.3 1943.6,1452.9 1944.6,1453.4 1945.6,1452.3 1946.6,1453.6 1947.6,1454.4 1948.6,1452.9 1949.6,1453.2 1950.6,1453.3 1951.6,1452.3 1952.6,1453.3 1953.6,1453.0 1954.6,1452.8 1955.6,1454.5 1956.6,1452.9 1957.6,1453.0 1958.6,1451.2 1959.6,1453.8 1960.6,1453.3 1961.6,1454.2 1962.6,1452.8 1963.6,1453.2 1964.6,1453.3 1965.6,1454.7 1966.6,1454.0 1967.6,1451.8 1968.6,1455.1 1969.6,1454.3 1970.6,1453.1 1971.6,1452.5 1972.6,1452.8 1973.6,1452.0 1974.6,1453.0 1975.6,1454.1 1976.6,1453.3 1977.6,1452.7 1978.6,1453.8 1979.6,1453.7 1980.6,1453.4 1981.6,1453.6 1982.6,1453.9 1983.6,1452.7 1984.6,1452.5 1985.6,1451.5 1986.6,1449.7 1987.6,1449.7 1988.6,1448.6 1989.6,1448.2 1990.6,1449.1 1991.6,1449.9 1992.6,1451.0 1993.6,1451.6 1994.6,1451.5 1995.6,1453.9 1996.6,1455.2 1997.6,1456.6 1998.6,1457.0 1999.6,1457.2 2000.6,1457.4 2001.6,1458.2 2002.6,1457.5 2003.6,1456.2 2004.6,1455.7 2005.6,1454.9 2006.6,1454.0 2007.6,1453.9 2008.6,1453.5 2009.6,1454.2 2010.6,1452.8 2011.6,1453.2 2012.6,1453.9 2013.6,1453.8 2014.6,1452.7 2015.6,1452.8 2016.6,1453.2 2017.6,1453.7 2018.6,1454.1 2019.6,1453.4 2020.6,1454.8 2021.6,1454.1 2022.6,1452.2 2023.6,1453.3 2024.6,1454.2 2025.6,1454.3 2026.6,1453.2 2027.6,1453.2 2028.6,1453.3 2029.6,1453.6 2030.6,1452.6 2031.6,1453.7 2032.6,1454.4 2033.6,1453.7 2034.6,1454.2 2035.6,1452.9 2036.6,1454.1 2037.6,1453.2 2038.6,1453.9 2039.6,1454.0 2040.6,1452.6 2041.6,1452.7 2042.6,1454.3 2043.6,1454.0 2044.6,1453.9 2045.6,1452.9 2046.6,1454.2 2047.6,1454.1 2048.6,1452.8 2049.6,1452.6 2050.6,1454.1 2051.6,1453.6 2052.6,1452.8 2053.6,1453.2 2054.6,1452.8 2055.6,1453.8 2056.6,1453.5 2057.6,1454.3 2058.6,1453.8 2059.6,1453.7 2060.6,1454.5 2061.6,1453.4 2062.6,1452.6 2063.6,1453.4 2064.6,1452.8 2065.6,1454.1 2066.6,1454.9 2067.6,1453.0 2068.6,1453.3 2069.6,1452.5 2070.6,1454.8 2071.6,1455.0 2072.6,1454.1 2073.6,1454.8 2074.6,1454.6 2075.6,1453.1 2076.6,1453.4 2077.6,1453.4 2078.6,1454.3 2079.6,1452.4 2080.6,1452.7 2081.6,1453.9 2082.6,1453.1 2083.6,1452.3 2084.6,1452.9 2085.6,1454.1 2086.6,1454.9 2087.6,1453.6 2088.6,1454.6 2089.6,1452.6 2090.6,1453.6 2091.6,1453.8 2092.6,1453.2 2093.6,1453.4 2094.6,1455.6 2095.6,1452.4 2096.6,1452.3 2097.6,1453.7 2098.6,1454.3 2099.6,1452.4 2100.6,1452.9 2101.6,1453.3 2102.6,1453.5 2103.6,1452.3 2104.6,1454.0 2105.6,1453.8 2106.6,1453.3 2107.6,1452.2 2108.6,1454.7 2109.6,1453.5 2110.6,1452.5 2111.6,1454.1 2112.6,1454.4 2113.6,1452.8 2114.6,1454.1 2115.6,1453.2 2116.6,1453.6 2117.6,1453.9 2118.6,1452.8 2119.6,1454.0 2120.6,1454.6 2121.6,1453.4 2122.6,1454.0 2123.6,1453.5 2124.6,1453.5 2125.6,1454.5 2126.6,1453.1 2127.6,1453.4 2128.6,1455.5 2129.6,1453.5 2130.6,1453.5 2131.6,1453.6 2132.6,1453.4 2133.6,1453.4 2134.6,1454.6 2135.6,1452.6 2136.6,1451.9 2137.6,1453.8 2138.6,1453.2 2139.6,1453.3 2140.6,1453.5 2141.6,1453.4 2142.6,1452.8 2143.6,1453.5 2144.6,1453.4 2145.6,1452.8 2146.6,1453.7 2147.6,1454.8 2148.6,1453.9 2149.6,1455.0 2150.6,1453.5 2151.6,1454.0 2152.6,1453.6 2153.6,1453.0 2154.6,1452.8 2155.6,1452.3 2156.6,1454.1 2157.6,1453.4 2158.6,1453.8 2159.6,1452.6 2160.6,1452.5 2161.6,1452.9 2162.6,1454.5 2163.6,1455.0 2164.6,1455.4 2165.6,1453.8 2166.6,1453.6 2167.6,1452.5 2168.6,1452.2 2169.6,1453.3 2170.6,1453.6 2171.6,1453.5 2172.6,1452.7 2173.6,1453.5 2174.6,1453.9 2175.6,1453.9 2176.6,1455.1 2177.6,1452.7 2178.6,1453.9 2179.6,1453.2 2180.6,1453.1 2181.6,1453.8 2182.6,1452.4 2183.6,1454.8 2184.6,1453.8 2185.6,1454.6 2186.6,1453.8 2187.6,1455.0 2188.6,1453.0 2189.6,1453.1 2190.6,1455.4 2191.6,1454.3 2192.6,1454.8 2193.6,1453.7 2194.6,1453.5 2195.6,1453.6 2196.5,1454.7 2197.5,1454.2 2198.5,1453.7 2199.5,1452.1 2200.5,1454.1 2201.5,1454.4 2202.5,1455.0 2203.5,1453.6 2204.5,1452.3 2205.5,1453.1 2206.5,1454.6 2207.5,1454.1 2208.5,1454.2 2209.5,1453.9 2210.5,1453.4 2211.5,1453.4 2212.5,1453.6 2213.5,1454.1 2214.5,1452.7 2215.5,1454.9 2216.5,1454.9 2217.5,1453.1 2218.5,1452.8 2219.5,1455.1 2220.5,1454.4 2221.5,1453.5 2222.5,1453.0 2223.5,1455.0 2224.5,1454.4 2225.5,1454.0 2226.5,1455.1 2227.5,1453.1 2228.5,1453.4 2229.5,1453.1 2230.5,1454.0 2231.5,1452.1 2232.5,1453.7 2233.5,1453.0 2234.5,1453.4 2235.5,1453.0 2236.5,1451.7 2237.5,1454.2 2238.5,1454.7 2239.5,1454.5 2240.5,1453.1 2241.5,1453.8 2242.5,1454.3 2243.5,1453.5 2244.5,1452.8 2245.5,1454.1 2246.5,1453.9 2247.5,1453.4 2248.5,1454.7 2249.5,1453.2 2250.5,1454.0 2251.5,1453.8 2252.5,1454.8 2253.5,1454.0 2254.5,1453.0 2255.5,1452.6 2256.5,1454.1 2257.5,1452.9 2258.5,1454.8 2259.5,1454.4 2260.5,1453.8 2261.5,1453.4 2262.5,1453.6 2263.5,1454.9 2264.5,1454.1 2265.5,1452.7 2266.5,1453.4 2267.5,1454.2 2268.5,1453.2 2269.5,1455.1 2270.5,1452.9 2271.5,1454.5 2272.5,1453.6 2273.5,1455.1 2274.5,1454.4 2275.5,1453.9 2276.5,1454.1 2277.5,1453.6 2278.5,1452.6 2279.5,1453.6 2280.5,1453.5 2281.5,1453.7 2282.5,1453.2 2283.5,1452.6 2284.5,1453.8 2285.5,1453.4 2286.5,1454.4 2287.5,1454.4 2288.5,1452.8 2289.5,1454.0 2290.5,1453.6 2291.5,1453.9 2292.5,1453.3 2293.5,1453.3 2294.5,1454.9 2295.5,1454.1 2296.5,1452.7 2297.5,1452.8 2298.5,1453.8 2299.5,1453.4 2300.5,1453.5 2301.5,1453.3 2302.5,1454.5 2303.5,1454.5 2304.5,1454.4 2305.5,1453.8 2306.5,1453.8 2307.5,1452.9 2308.5,1455.4 2309.5,1454.2 2310.5,1453.6 2311.5,1455.4 2312.5,1452.9 2313.5,1453.5 2314.5,1453.5 2315.5,1453.4 2316.5,1454.0 2317.5,1453.5 2318.5,1453.8 2319.5,1453.5 2320.5,1454.1 2321.5,1453.6 2322.5,1453.2 2323.5,1454.7 2324.5,1452.7 2325.5,1454.6 2326.5,1455.0 2327.5,1453.8 2328.5,1453.3 2329.5,1454.0 2330.5,1453.6 2331.5,1453.4 2332.5,1455.0 2333.5,1454.6 2334.5,1452.1 2335.5,1452.7 2336.5,1453.4 2337.5,1455.7 2338.5,1453.3 2339.5,1453.5 2340.5,1454.7 2341.5,1454.0 2342.5,1452.9 2343.5,1455.4 2344.5,1454.8 2345.5,1453.6 2346.5,1454.2 2347.5,1453.8 2348.5,1454.1 2349.5,1454.3 2350.5,1453.7 2351.5,1455.9 2352.5,1453.9 2353.5,1453.5 2354.5,1455.0 2355.5,1453.4 2356.5,1454.5 2357.5,1455.1 2358.5,1453.3 2359.5,1453.2 2360.5,1455.2 2361.5,1454.1 2362.5,1452.3 2363.5,1453.2 2364.5,1454.3 2365.5,1454.7 2366.5,1453.4 2367.5,1453.2 2368.5,1454.8 2369.5,1453.6 2370.5,1453.0 2371.5,1456.1 2372.5,1455.1 2373.5,1454.4 2374.5,1454.9 2375.5,1453.8 2376.5,1454.1 2377.5,1453.9 2378.5,1454.5 2379.5,1453.7 2380.5,1452.9 2381.5,1451.3 2382.5,1451.1 2383.5,1451.0 2384.5,1449.9 2385.5,1449.7 2386.5,1451.3 2387.5,1451.8 2388.5,1450.5 2389.5,1452.8 2390.5,1452.2 2391.5,1453.2 2392.5,1454.1 2393.5,1452.9 2394.5,1453.6 2395.5,1451.1 2396.5,1451.0 2397.5,1449.0 2398.5,1448.8 2399.5,1449.2 2400.5,1449.2 2401.5,1450.8 2402.5,1451.4 2403.5,1453.6 2404.5,1454.3 2405.5,1456.0 2406.5,1458.2 2407.5,1458.8 2408.5,1459.5 2409.5,1459.6 2410.5,1459.6 2411.5,1458.7 2412.5,1459.8 2413.5,1458.3" fill="none" stroke="#8000ff" stroke-width="12.4" stroke-linejoin="round" stroke-linecap="butt"/>
<path d="M242.0,1198.0 243.0,1198.1 244.0,1199.5 245.0,1197.2 246.0,1198.9 247.0,1197.2 248.0,1199.9 249.0,1199.2 250.0,1200.1 251.0,1198.6 252.0,1199.3 253.0,1198.8 254.0,1198.4 255.0,1199.1 256.0,1198.0 257.0,1198.7 258.0,1199.6 259.0,1199.1 260.0,1198.7 261.0,1200.8 262.0,1199.1 263.0,1198.5 264.0,1199.1 265.0,1198.6 266.0,1198.7 267.0,1198.7 268.0,1200.6 269.0,1199.0 270.0,1199.2 271.0,1199.6 272.0,1200.6 273.0,1198.8 274.0,1198.5 275.0,1201.0 276.0,1197.9 277.0,1198.7 278.0,1199.6 279.0,1200.9 280.0,1198.3 281.0,1197.1 282.0,1199.6 283.0,1198.6 284.0,1198.7 285.0,1199.4 286.0,1199.2 287.0,1199.3 288.0,1198.7 289.0,1200.1 290.0,1200.2 291.0,1199.1 292.0,1198.7 293.0,1199.6 294.0,1199.4 295.0,1198.2 296.0,1198.7 297.0,1199.9 298.0,1199.0 299.0,1198.8 300.0,1199.2 301.0,1199.0 302.0,1199.1 303.0,1197.5 304.0,1200.5 305.0,1199.2 306.0,1198.4 307.0,1199.8 308.0,1199.3 309.0,1199.1 310.0,1199.9 311.0,1200.9 312.0,1199.5 313.0,1200.3 314.0,1200.8 315.0,1198.2 316.0,1198.6 317.0,1199.7 318.0,1197.7 319.0,1198.9 320.0,1200.1 321.0,1199.9 322.0,1199.5 323.0,1197.6 324.0,1201.0 325.0,1199.5 326.0,1199.7 327.0,1199.5 328.0,1197.7 329.0,1197.9 330.0,1198.1 331.0,1200.6 332.0,1198.4 333.0,1198.9 334.0,1198.9 335.0,1199.5 336.0,1199.5 337.0,1199.3 338.0,1198.1 339.0,1196.6 340.0,1199.2 341.0,1199.3 342.0,1200.1 343.0,1199.0 344.0,1198.6 345.0,1199.4 346.0,1197.9 347.0,1198.3 348.0,1198.3 349.0,1199.3 350.0,1200.8 351.0,1199.7 352.0,1200.0 353.0,1199.3 354.0,1199.3 355.0,1198.7 356.0,1198.9 357.0,1197.2 358.0,1198.1 359.0,1198.1 360.0,1199.8 361.0,1199.6 362.0,1200.0 363.0,1200.4 364.0,1198.9 365.0,1200.0 366.0,1200.7 367.0,1199.1 368.0,1200.0 369.0,1199.0 370.0,1197.8 371.0,1199.2 372.0,1198.5 373.0,1199.2 374.0,1198.8 375.0,1199.4 376.0,1197.4 377.0,1200.8 378.0,1200.2 379.0,1198.8 380.0,1198.4 381.0,1199.1 382.0,1199.7 383.0,1199.5 384.0,1199.5 385.0,1197.6 386.0,1198.2 387.0,1200.2 388.0,1199.3 389.0,1197.9 390.0,1198.4 391.0,1198.0 392.0,1198.3 393.0,1200.1 394.0,1199.0 395.0,1200.0 396.0,1199.3 397.0,1197.9 398.0,1198.6 399.0,1201.0 400.0,1198.5 401.0,1198.3 402.0,1200.2 403.0,1199.2 404.0,1199.1 405.0,1200.3 406.0,1197.7 407.0,1199.5 408.0,1198.3 409.0,1198.0 410.0,1198.5 411.0,1200.1 412.0,1199.0 413.0,1197.7 414.0,1198.3 415.0,1200.4 416.0,1200.0 417.0,1198.3 418.0,1201.1 419.0,1198.9 420.0,1198.2 421.0,1199.1 422.0,1199.9 423.0,1200.5 424.0,1200.0 425.0,1198.8 426.0,1198.7 427.0,1198.0 428.0,1199.1 429.0,1198.7 430.0,1199.4 431.0,1198.1 432.0,1198.7 433.0,1198.5 434.0,1198.2 435.0,1198.2 436.0,1198.3 437.0,1198.2 438.0,1199.6 439.0,1199.3 440.0,1198.1 441.0,1199.6 442.0,1199.4 443.0,1200.4 444.0,1199.0 445.0,1199.0 446.0,1198.6 447.0,1199.3 448.0,1199.6 449.0,1199.3 450.0,1199.0 451.0,1199.6 452.0,1199.3 453.0,1199.4 454.0,1198.4 455.0,1199.4 456.0,1198.4 457.0,1198.5 458.0,1199.3 459.0,1200.9 459.9,1200.0 460.9,1199.2 461.9,1199.0 462.9,1200.0 463.9,1200.3 464.9,1200.2 465.9,1199.0 466.9,1199.4 467.9,1198.9 468.9,1199.0 469.9,1198.5 470.9,1199.0 471.9,1197.4 472.9,1198.2 473.9,1199.5 474.9,1198.4 475.9,1199.6 476.9,1198.1 477.9,1198.9 478.9,1199.5 479.9,1198.4 480.9,1198.6 481.9,1201.2 482.9,1198.6 483.9,1198.6 484.9,1198.7 485.9,1199.2 486.9,1199.2 487.9,1200.0 488.9,1199.9 489.9,1198.9 490.9,1198.9 491.9,1198.1 492.9,1198.0 493.9,1198.6 494.9,1199.8 495.9,1199.3 496.9,1199.9 497.9,1200.0 498.9,1199.1 499.9,1200.9 500.9,1198.8 501.9,1198.7 502.9,1198.9 503.9,1200.1 504.9,1199.1 505.9,1198.6 506.9,1199.6 507.9,1200.1 508.9,1199.1 509.9,1199.0 510.9,1200.1 511.9,1200.0 512.9,1200.0 513.9,1198.6 514.9,1199.5 515.9,1199.5 516.9,1197.8 517.9,1200.2 518.9,1199.3 519.9,1198.9 520.9,1201.1 521.9,1199.3 522.9,1198.6 523.9,1199.2 524.9,1199.7 525.9,1199.9 526.9,1199.2 527.9,1198.5 528.9,1198.7 529.9,1198.6 530.9,1198.4 531.9,1199.2 532.9,1198.8 533.9,1199.3 534.9,1198.5 535.9,1198.5 536.9,1199.1 537.9,1198.9 538.9,1200.2 539.9,1198.5 540.9,1199.4 541.9,1199.2 542.9,1198.2 543.9,1199.8 544.9,1199.4 545.9,1197.5 546.9,1199.7 547.9,1200.0 548.9,1198.6 549.9,1200.6 550.9,1199.3 551.9,1198.3 552.9,1199.7 553.9,1198.9 554.9,1198.1 555.9,1197.5 556.9,1199.4 557.9,1198.6 558.9,1199.7 559.9,1199.5 560.9,1198.8 561.9,1198.8 562.9,1200.7 563.9,1200.6 564.9,1199.8 565.9,1198.9 566.9,1198.4 567.9,1198.9 568.9,1200.6 569.9,1199.6 570.9,1199.0 571.9,1198.2 572.9,1199.3 573.9,1198.5 574.9,1199.2 575.9,1199.8 576.9,1200.1 577.9,1199.3 578.9,1198.9 579.9,1199.4 580.9,1200.7 581.9,1199.5 582.9,1198.0 583.9,1200.5 584.9,1199.4 585.9,1202.0 586.9,1198.8 587.9,1199.1 588.9,1198.9 589.9,1199.5 590.9,1198.7 591.9,1198.0 592.9,1197.6 593.9,1199.1 594.9,1198.7 595.9,1198.7 596.9,1200.9 597.9,1199.8 598.9,1200.0 599.9,1198.7 600.9,1199.4 601.9,1199.0 602.9,1199.0 603.9,1199.7 604.9,1199.6 605.9,1199.4 606.9,1199.2 607.9,1198.0 608.9,1198.5 609.9,1199.4 610.9,1198.8 611.9,1198.5 612.9,1199.4 613.9,1198.4 614.9,1198.6 615.9,1199.8 616.9,1198.8 617.9,1200.2 618.9,1199.5 619.9,1199.7 620.9,1200.0 621.9,1197.3 622.9,1199.0 623.9,1198.0 624.9,1198.7 625.9,1199.0 626.9,1200.0 627.9,1199.0 628.9,1200.3 629.9,1198.6 630.9,1199.0 631.9,1199.1 632.9,1199.8 633.9,1198.9 634.9,1198.5 635.9,1198.7 636.9,1197.8 637.9,1200.0 638.9,1199.5 639.9,1199.3 640.9,1199.1 641.9,1198.4 642.9,1198.6 643.9,1199.5 644.9,1198.2 645.9,1198.2 646.9,1200.1 647.9,1200.1 648.9,1199.1 649.9,1199.2 650.9,1198.9 651.9,1199.9 652.9,1198.4 653.9,1198.8 654.9,1199.1 655.9,1199.9 656.9,1198.5 657.9,1198.9 658.9,1198.3 659.9,1198.1 660.9,1198.1 661.9,1198.7 662.9,1199.3 663.9,1198.0 664.9,1198.0 665.9,1198.2 666.9,1198.8 667.9,1199.0 668.9,1197.4 669.9,1198.7 670.9,1197.6 671.9,1198.9 672.9,1197.5 673.9,1197.4 674.9,1197.7 675.9,1198.1 676.9,1197.4 677.9,1198.3 678.9,1198.2 679.9,1198.1 680.9,1198.2 681.9,1198.6 682.9,1197.3 683.9,1197.8 684.9,1197.8 685.9,1196.1 686.9,1198.0 687.9,1197.0 688.9,1197.0 689.9,1197.1 690.9,1197.5 691.9,1197.6 692.9,1197.7 693.9,1196.6 694.9,1197.7 695.9,1197.3 696.9,1196.6 697.9,1196.8 698.9,1197.4 699.9,1196.9 700.9,1197.0 701.9,1196.4 702.9,1197.1 703.9,1197.9 704.9,1196.3 705.9,1194.5 706.9,1197.0 707.9,1195.0 708.9,1194.2 709.9,1193.2 710.9,1195.2 711.9,1195.5 712.9,1195.2 713.9,1193.9 714.9,1195.1 715.9,1193.6 716.9,1192.9 717.9,1193.1 718.9,1192.9 719.9,1192.4 720.9,1192.3 721.9,1189.8 722.9,1192.3 723.9,1190.1 724.9,1190.6 725.9,1188.9 726.9,1189.0 727.9,1188.1 728.9,1186.3 729.9,1187.1 730.9,1186.4 731.9,1184.1 732.9,1182.4 733.9,1182.5 734.9,1181.1 735.9,1180.6 736.9,1179.1 737.9,1178.9 738.9,1176.4 739.9,1173.9 740.9,1172.2 741.9,1167.5 742.9,1166.6 743.9,1163.8 744.9,1161.4 745.9,1158.3 746.9,1154.4 747.9,1150.8 748.9,1144.8 749.9,1140.3 750.9,1134.1 751.9,1127.7 752.9,1120.6 753.9,1111.9 754.9,1103.1 755.9,1092.6 756.9,1082.1 757.9,1068.6 758.9,1055.0 759.9,1041.6 760.9,1023.5 761.9,1005.6 762.9,987.1 763.9,965.6 764.9,946.4 765.9,925.5 766.9,904.1 767.9,883.5 768.9,862.8 769.9,843.4 770.9,823.6 771.9,808.2 772.9,794.6 773.9,788.0 774.9,785.4 775.9,789.7 776.9,803.7 777.9,822.3 778.9,848.2 779.9,874.4 780.9,901.3 781.9,930.8 782.9,958.6 783.9,982.9 784.9,1004.7 785.9,1026.1 786.9,1044.3 787.9,1061.2 788.9,1075.2 789.9,1087.5 790.9,1097.9 791.9,1108.7 792.9,1117.6 793.9,1125.2 794.9,1132.5 795.9,1137.4 796.9,1144.3 797.9,1148.8 798.9,1153.5 799.9,1157.0 800.9,1160.4 801.9,1164.0 802.9,1167.3 803.9,1169.0 804.9,1171.8 805.9,1173.0 806.9,1175.9 807.9,1177.5 808.9,1178.5 809.9,1182.3 810.9,1182.2 811.9,1184.3 812.9,1184.2 813.9,1184.8 814.9,1187.5 815.9,1186.6 816.9,1186.7 817.9,1188.6 818.9,1188.0 819.9,1189.5 820.9,1191.4 821.9,1190.0 822.9,1190.8 823.9,1191.2 824.9,1191.1 825.9,1190.9 826.9,1192.4 827.9,1191.2 828.9,1191.6 829.9,1191.5 830.9,1190.4 831.9,1191.5 832.9,1190.9 833.9,1190.9 834.9,1190.5 835.9,1190.7 836.9,1187.7 837.9,1188.7 838.9,1189.1 839.9,1189.4 840.9,1191.2 841.9,1191.7 842.9,1192.7 843.9,1191.9 844.9,1192.9 845.9,1193.6 846.9,1193.1 847.9,1192.5 848.9,1192.3 849.9,1191.4 850.9,1190.1 851.9,1191.5 852.9,1189.0 853.9,1189.5 854.9,1189.1 855.9,1189.3 856.9,1188.2 857.9,1188.4 858.9,1190.3 859.9,1191.1 860.9,1190.0 861.9,1190.6 862.9,1193.0 863.9,1193.7 864.9,1194.3 865.9,1195.4 866.9,1194.8 867.9,1198.1 868.9,1197.2 869.9,1197.9 870.9,1197.4 871.9,1195.7 872.9,1197.6 873.9,1197.0 874.9,1197.0 875.9,1195.2 876.9,1194.2 877.9,1191.7 878.9,1191.9 879.9,1192.2 880.9,1191.6 881.9,1191.8 882.9,1192.7 883.9,1193.7 884.9,1192.2 885.9,1193.3 886.9,1192.1 887.9,1193.0 888.9,1194.0 889.9,1194.6 890.9,1193.7 891.9,1195.4 892.9,1195.4 893.8,1196.7 894.8,1196.8 895.8,1196.9 896.8,1196.5 897.8,1197.3 898.8,1196.7 899.8,1197.0 900.8,1196.4 901.8,1197.0 902.8,1197.2 903.8,1198.3 904.8,1198.7 905.8,1197.7 906.8,1198.8 907.8,1199.3 908.8,1199.9 909.8,1199.2 910.8,1199.5 911.8,1199.1 912.8,1200.2 913.8,1198.4 914.8,1199.9 915.8,1197.9 916.8,1201.1 917.8,1200.6 918.8,1198.2 919.8,1199.5 920.8,1198.9 921.8,1198.7 922.8,1199.8 923.8,1199.5 924.8,1201.0 925.8,1199.8 926.8,1199.4 927.8,1200.2 928.8,1200.6 929.8,1201.0 930.8,1200.8 931.8,1199.2 932.8,1199.8 933.8,1200.3 934.8,1199.8 935.8,1201.1 936.8,1200.2 937.8,1200.5 938.8,1200.2 939.8,1200.6 940.8,1199.4 941.8,1202.2 942.8,1200.1 943.8,1200.0 944.8,1199.2 945.8,1200.5 946.8,1199.5 947.8,1200.9 948.8,1201.6 949.8,1201.1 950.8,1200.3 951.8,1201.6 952.8,1200.4 953.8,1200.5 954.8,1200.6 955.8,1200.2 956.8,1200.8 957.8,1199.5 958.8,1199.1 959.8,1201.4 960.8,1199.8 961.8,1200.1 962.8,1200.6 963.8,1199.9 964.8,1199.3 965.8,1200.0 966.8,1199.3 967.8,1200.3 968.8,1199.4 969.8,1199.4 970.8,1200.0 971.8,1198.0 972.8,1197.9 973.8,1199.5 974.8,1199.7 975.8,1198.7 976.8,1197.9 977.8,1199.4 978.8,1198.8 979.8,1199.2 980.8,1197.0 981.8,1198.4 982.8,1197.8 983.8,1197.9 984.8,1199.3 985.8,1199.6 986.8,1198.9 987.8,1199.2 988.8,1200.6 989.8,1200.2 990.8,1199.6 991.8,1200.1 992.8,1199.8 993.8,1198.7 994.8,1199.3 995.8,1199.9 996.8,1200.2 997.8,1198.7 998.8,1199.1 999.8,1199.2 1000.8,1198.5 1001.8,1200.6 1002.8,1200.1 1003.8,1200.7 1004.8,1198.0 1005.8,1199.1 1006.8,1201.1 1007.8,1198.6 1008.8,1198.3 1009.8,1199.9 1010.8,1201.0 1011.8,1200.2 1012.8,1199.0 1013.8,1200.2 1014.8,1200.0 1015.8,1199.9 1016.8,1200.0 1017.8,1200.4 1018.8,1200.6 1019.8,1200.8 1020.8,1200.6 1021.8,1199.6 1022.8,1198.3 1023.8,1200.2 1024.8,1198.6 1025.8,1201.5 1026.8,1198.8 1027.8,1198.3 1028.8,1198.3 1029.8,1200.1 1030.8,1200.0 1031.8,1200.3 1032.8,1200.0 1033.8,1199.1 1034.8,1200.4 1035.8,1199.2 1036.8,1198.6 1037.8,1200.5 1038.8,1200.2 1039.8,1199.0 1040.8,1199.6 1041.8,1200.6 1042.8,1200.5 1043.8,1198.9 1044.8,1200.7 1045.8,1197.7 1046.8,1199.9 1047.8,1200.1 1048.8,1199.7 1049.8,1199.9 1050.8,1198.5 1051.8,1199.7 1052.8,1200.2 1053.8,1199.1 1054.8,1199.9 1055.8,1199.7 1056.8,1198.0 1057.8,1199.3 1058.8,1200.3 1059.8,1198.6 1060.8,1199.8 1061.8,1200.1 1062.8,1198.8 1063.8,1199.6 1064.8,1200.5 1065.8,1200.4 1066.8,1199.0 1067.8,1200.6 1068.8,1200.1 1069.8,1199.9 1070.8,1201.0 1071.8,1200.4 1072.8,1200.1 1073.8,1200.6 1074.8,1200.4 1075.8,1200.8 1076.8,1199.7 1077.8,1198.4 1078.8,1201.1 1079.8,1200.5 1080.8,1200.3 1081.8,1199.9 1082.8,1199.8 1083.8,1199.9 1084.8,1199.1 1085.8,1200.5 1086.8,1199.9 1087.8,1199.1 1088.8,1200.1 1089.8,1199.6 1090.8,1199.8 1091.8,1200.3 1092.8,1202.0 1093.8,1199.0 1094.8,1200.2 1095.8,1200.4 1096.8,1200.2 1097.8,1201.0 1098.8,1199.5 1099.8,1199.6 1100.8,1199.9 1101.8,1198.8 1102.8,1200.7 1103.8,1198.9 1104.8,1200.3 1105.8,1200.8 1106.8,1199.2 1107.8,1199.7 1108.8,1199.7 1109.8,1201.2 1110.8,1200.1 1111.8,1198.5 1112.8,1200.7 1113.8,1200.7 1114.8,1198.3 1115.8,1197.7 1116.8,1202.0 1117.8,1200.0 1118.8,1198.2 1119.8,1200.7 1120.8,1201.0 1121.8,1198.0 1122.8,1200.9 1123.8,1200.5 1124.8,1199.9 1125.8,1199.3 1126.8,1200.2 1127.8,1199.3 1128.8,1200.0 1129.8,1199.7 1130.8,1199.6 1131.8,1200.3 1132.8,1200.7 1133.8,1200.6 1134.8,1200.3 1135.8,1201.3 1136.8,1198.9 1137.8,1200.0 1138.8,1200.1 1139.8,1200.9 1140.8,1198.1 1141.8,1199.6 1142.8,1199.7 1143.8,1200.1 1144.8,1201.7 1145.8,1200.1 1146.8,1199.9 1147.8,1200.3 1148.8,1200.7 1149.8,1199.8 1150.8,1201.3 1151.8,1199.0 1152.8,1200.9 1153.8,1200.5 1154.8,1200.7 1155.8,1201.2 1156.8,1199.8 1157.8,1200.3 1158.8,1200.2 1159.8,1199.5 1160.8,1199.3 1161.8,1199.3 1162.8,1200.6 1163.8,1198.1 1164.8,1198.9 1165.8,1200.0 1166.8,1201.0 1167.8,1199.9 1168.8,1201.0 1169.8,1199.9 1170.8,1199.5 1171.8,1198.7 1172.8,1200.1 1173.8,1201.3 1174.8,1200.0 1175.8,1199.1 1176.8,1200.4 1177.8,1198.9 1178.8,1199.1 1179.8,1200.9 1180.8,1200.3 1181.8,1200.7 1182.8,1200.2 1183.8,1199.9 1184.8,1200.1 1185.8,1199.7 1186.8,1200.8 1187.8,1199.0 1188.8,1198.5 1189.8,1199.3 1190.8,1200.7 1191.8,1199.6 1192.8,1198.2 1193.8,1202.3 1194.8,1199.3 1195.8,1199.8 1196.8,1200.5 1197.8,1200.3 1198.8,1199.9 1199.8,1198.8 1200.8,1200.4 1201.8,1199.2 1202.8,1199.9 1203.8,1200.6 1204.8,1199.7 1205.8,1198.6 1206.8,1199.5 1207.8,1200.5 1208.8,1200.6 1209.8,1199.0 1210.8,1200.0 1211.8,1200.2 1212.8,1200.9 1213.8,1200.3 1214.8,1200.1 1215.8,1199.8 1216.8,1200.4 1217.8,1200.6 1218.8,1199.9 1219.8,1199.8 1220.8,1201.4 1221.8,1200.0 1222.8,1199.4 1223.8,1200.6 1224.8,1199.0 1225.8,1199.2 1226.8,1200.8 1227.8,1200.0 1228.8,1200.7 1229.8,1200.6 1230.8,1199.4 1231.8,1200.4 1232.8,1199.7 1233.8,1200.2 1234.8,1200.2 1235.8,1200.0 1236.8,1199.0 1237.8,1200.3 1238.8,1200.1 1239.8,1200.5 1240.8,1199.2 1241.8,1200.2 1242.8,1199.9 1243.8,1199.7 1244.8,1199.8 1245.8,1199.9 1246.8,1199.0 1247.8,1199.6 1248.8,1199.7 1249.8,1200.4 1250.8,1199.9 1251.8,1201.2 1252.8,1200.5 1253.8,1200.3 1254.8,1200.2 1255.8,1198.9 1256.8,1200.4 1257.8,1201.1 1258.8,1199.3 1259.8,1201.1 1260.8,1200.6 1261.8,1200.3 1262.8,1199.7 1263.8,1200.1 1264.8,1199.5 1265.8,1200.1 1266.8,1200.1 1267.8,1200.1 1268.8,1199.1 1269.8,1200.8 1270.8,1199.6 1271.8,1200.4 1272.8,1200.5 1273.8,1199.9 1274.8,1202.0 1275.8,1200.2 1276.8,1200.4 1277.8,1199.9 1278.8,1200.3 1279.8,1199.1 1280.8,1200.6 1281.8,1199.8 1282.8,1199.7 1283.8,1200.7 1284.8,1200.8 1285.8,1199.8 1286.8,1199.3 1287.8,1198.5 1288.8,1199.3 1289.8,1200.5 1290.8,1200.6 1291.8,1199.1 1292.8,1200.1 1293.8,1200.9 1294.8,1199.5 1295.8,1199.7 1296.8,1199.4 1297.8,1200.4 1298.8,1198.6 1299.8,1200.0 1300.8,1200.5 1301.8,1200.1 1302.8,1200.9 1303.8,1200.6 1304.8,1199.7 1305.8,1199.3 1306.8,1199.3 1307.8,1200.5 1308.8,1200.0 1309.8,1200.2 1310.8,1199.4 1311.8,1201.0 1312.8,1200.8 1313.8,1200.7 1314.8,1199.3 1315.8,1202.2 1316.8,1200.8 1317.8,1199.3 1318.8,1200.9 1319.8,1200.0 1320.8,1199.5 1321.8,1199.5 1322.8,1200.5 1323.8,1200.4 1324.8,1200.3 1325.8,1200.0 1326.8,1199.3 1327.8,1200.3 1328.7,1199.9 1329.7,1200.0 1330.7,1200.6 1331.7,1201.5 1332.7,1199.7 1333.7,1200.9 1334.7,1199.6 1335.7,1200.8 1336.7,1200.7 1337.7,1200.2 1338.7,1200.3 1339.7,1199.5 1340.7,1199.9 1341.7,1200.9 1342.7,1200.8 1343.7,1201.9 1344.7,1199.4 1345.7,1199.8 1346.7,1200.2 1347.7,1200.2 1348.7,1199.8 1349.7,1199.8 1350.7,1200.1 1351.7,1201.2 1352.7,1200.1 1353.7,1199.6 1354.7,1200.4 1355.7,1198.1 1356.7,1199.5 1357.7,1199.7 1358.7,1200.4 1359.7,1198.4 1360.7,1200.0 1361.7,1199.3 1362.7,1200.9 1363.7,1200.8 1364.7,1199.8 1365.7,1200.6 1366.7,1199.3 1367.7,1200.4 1368.7,1200.4 1369.7,1201.0 1370.7,1199.9 1371.7,1198.5 1372.7,1200.8 1373.7,1199.4 1374.7,1199.8 1375.7,1199.9 1376.7,1201.5 1377.7,1200.2 1378.7,1201.1 1379.7,1200.3 1380.7,1199.1 1381.7,1200.6 1382.7,1200.6 1383.7,1199.8 1384.7,1199.0 1385.7,1202.4 1386.7,1201.9 1387.7,1200.5 1388.7,1200.6 1389.7,1200.9 1390.7,1200.7 1391.7,1199.1 1392.7,1199.1 1393.7,1200.9 1394.7,1201.3 1395.7,1201.0 1396.7,1200.9 1397.7,1200.2 1398.7,1201.0 1399.7,1201.4 1400.7,1200.6 1401.7,1201.2 1402.7,1201.2 1403.7,1199.7 1404.7,1201.1 1405.7,1199.6 1406.7,1199.5 1407.7,1201.5 1408.7,1199.0 1409.7,1200.1 1410.7,1200.9 1411.7,1200.5 1412.7,1199.9 1413.7,1199.5 1414.7,1200.6 1415.7,1200.7 1416.7,1200.2 1417.7,1199.5 1418.7,1199.1 1419.7,1200.2 1420.7,1200.2 1421.7,1200.9 1422.7,1200.0 1423.7,1201.0 1424.7,1199.3 1425.7,1198.9 1426.7,1201.0 1427.7,1199.9 1428.7,1199.6 1429.7,1200.1 1430.7,1199.3 1431.7,1200.0 1432.7,1199.2 1433.7,1200.4 1434.7,1199.8 1435.7,1200.2 1436.7,1200.3 1437.7,1200.6 1438.7,1198.9 1439.7,1200.4 1440.7,1200.1 1441.7,1199.4 1442.7,1200.1 1443.7,1200.7 1444.7,1200.6 1445.7,1201.8 1446.7,1200.0 1447.7,1200.4 1448.7,1201.8 1449.7,1199.8 1450.7,1199.6 1451.7,1199.9 1452.7,1199.8 1453.7,1200.3 1454.7,1200.4 1455.7,1199.7 1456.7,1199.4 1457.7,1200.2 1458.7,1199.3 1459.7,1199.7 1460.7,1200.6 1461.7,1200.2 1462.7,1199.5 1463.7,1199.2 1464.7,1199.5 1465.7,1199.1 1466.7,1200.7 1467.7,1200.9 1468.7,1200.5 1469.7,1200.5 1470.7,1199.9 1471.7,1200.4 1472.7,1200.3 1473.7,1200.3 1474.7,1199.9 1475.7,1199.5 1476.7,1200.5 1477.7,1200.6 1478.7,1199.4 1479.7,1200.1 1480.7,1200.3 1481.7,1200.7 1482.7,1199.0 1483.7,1199.2 1484.7,1199.2 1485.7,1199.4 1486.7,1199.5 1487.7,1201.0 1488.7,1199.4 1489.7,1202.0 1490.7,1200.5 1491.7,1200.9 1492.7,1200.3 1493.7,1201.0 1494.7,1200.6 1495.7,1200.9 1496.7,1200.8 1497.7,1200.8 1498.7,1200.6 1499.7,1201.2 1500.7,1200.3 1501.7,1199.9 1502.7,1201.6 1503.7,1200.0 1504.7,1200.6 1505.7,1202.0 1506.7,1199.8 1507.7,1200.1 1508.7,1199.8 1509.7,1199.6 1510.7,1200.8 1511.7,1200.2 1512.7,1200.4 1513.7,1199.0 1514.7,1200.7 1515.7,1199.8 1516.7,1198.9 1517.7,1199.8 1518.7,1199.1 1519.7,1201.6 1520.7,1199.1 1521.7,1200.6 1522.7,1199.6 1523.7,1199.7 1524.7,1199.4 1525.7,1201.3 1526.7,1199.5 1527.7,1199.9 1528.7,1200.5 1529.7,1200.1 1530.7,1200.9 1531.7,1199.8 1532.7,1199.1 1533.7,1200.7 1534.7,1201.3 1535.7,1200.8 1536.7,1199.7 1537.7,1201.3 1538.7,1201.0 1539.7,1200.1 1540.7,1200.7 1541.7,1200.4 1542.7,1200.5 1543.7,1200.9 1544.7,1201.1 1545.7,1200.4 1546.7,1200.4 1547.7,1198.5 1548.7,1199.8 1549.7,1200.7 1550.7,1199.8 1551.7,1200.7 1552.7,1200.2 1553.7,1200.4 1554.7,1200.5 1555.7,1201.4 1556.7,1200.8 1557.7,1200.4 1558.7,1199.5 1559.7,1200.7 1560.7,1199.6 1561.7,1201.4 1562.7,1199.9 1563.7,1199.9 1564.7,1200.3 1565.7,1199.6 1566.7,1200.8 1567.7,1200.7 1568.7,1199.9 1569.7,1200.0 1570.7,1201.8 1571.7,1201.3 1572.7,1200.8 1573.7,1200.6 1574.7,1201.6 1575.7,1200.1 1576.7,1200.2 1577.7,1200.3 1578.7,1199.6 1579.7,1199.7 1580.7,1201.8 1581.7,1200.5 1582.7,1199.7 1583.7,1200.2 1584.7,1200.1 1585.7,1200.1 1586.7,1200.4 1587.7,1199.3 1588.7,1199.0 1589.7,1200.3 1590.7,1200.3 1591.7,1199.5 1592.7,1200.4 1593.7,1200.0 1594.7,1200.6 1595.7,1200.3 1596.7,1201.3 1597.7,1201.5 1598.7,1201.0 1599.7,1200.5 1600.7,1201.1 1601.7,1201.0 1602.7,1200.8 1603.7,1201.0 1604.7,1200.2 1605.7,1201.0 1606.7,1200.9 1607.7,1200.8 1608.7,1200.3 1609.7,1200.1 1610.7,1200.9 1611.7,1200.1 1612.7,1199.6 1613.7,1201.7 1614.7,1201.4 1615.7,1199.9 1616.7,1201.5 1617.7,1198.9 1618.7,1200.9 1619.7,1201.0 1620.7,1200.7 1621.7,1200.3 1622.7,1201.1 1623.7,1200.9 1624.7,1199.6 1625.7,1199.9 1626.7,1201.2 1627.7,1201.1 1628.7,1199.6 1629.7,1199.4 1630.7,1200.8 1631.7,1199.9 1632.7,1199.9 1633.7,1200.1 1634.7,1200.7 1635.7,1198.9 1636.7,1201.1 1637.7,1200.2 1638.7,1201.2 1639.7,1199.6 1640.7,1199.8 1641.7,1200.9 1642.7,1201.3 1643.7,1200.5 1644.7,1200.3 1645.7,1201.5 1646.7,1201.3 1647.7,1200.7 1648.7,1200.3 1649.7,1201.5 1650.7,1201.0 1651.7,1200.2 1652.7,1201.6 1653.7,1201.4 1654.7,1200.7 1655.7,1200.9 1656.7,1201.1 1657.7,1200.2 1658.7,1199.6 1659.7,1201.4 1660.7,1199.3 1661.7,1199.4 1662.7,1199.4 1663.7,1200.9 1664.7,1201.3 1665.7,1200.0 1666.7,1201.5 1667.7,1201.8 1668.7,1201.6 1669.7,1199.5 1670.7,1201.5 1671.7,1202.3 1672.7,1199.8 1673.7,1199.3 1674.7,1201.5 1675.7,1200.9 1676.7,1200.5 1677.7,1200.5 1678.7,1199.2 1679.7,1199.9 1680.7,1200.7 1681.7,1200.9 1682.7,1201.3 1683.7,1201.3 1684.7,1200.2 1685.7,1200.5 1686.7,1201.6 1687.7,1199.5 1688.7,1201.0 1689.7,1199.9 1690.7,1200.7 1691.7,1202.0 1692.7,1200.9 1693.7,1200.2 1694.7,1200.0 1695.7,1199.5 1696.7,1200.5 1697.7,1198.8 1698.7,1200.5 1699.7,1200.7 1700.7,1199.9 1701.7,1200.0 1702.7,1201.5 1703.7,1201.5 1704.7,1202.1 1705.7,1201.5 1706.7,1200.8 1707.7,1200.4 1708.7,1201.5 1709.7,1201.1 1710.7,1200.7 1711.7,1202.0 1712.7,1200.5 1713.7,1200.7 1714.7,1201.4 1715.7,1201.0 1716.7,1200.6 1717.7,1201.4 1718.7,1202.7 1719.7,1200.3 1720.7,1201.1 1721.7,1200.9 1722.7,1200.7 1723.7,1201.9 1724.7,1200.5 1725.7,1201.9 1726.7,1199.8 1727.7,1200.7 1728.7,1200.0 1729.7,1200.9 1730.7,1201.1 1731.7,1201.0 1732.7,1200.8 1733.7,1200.4 1734.7,1199.7 1735.7,1201.3 1736.7,1200.6 1737.7,1201.5 1738.7,1199.3 1739.7,1200.4 1740.7,1199.3 1741.7,1201.5 1742.7,1200.1 1743.7,1199.8 1744.7,1201.3 1745.7,1200.5 1746.7,1200.8 1747.7,1200.5 1748.7,1201.5 1749.7,1200.8 1750.7,1200.8 1751.7,1200.6 1752.7,1201.4 1753.7,1201.5 1754.7,1200.4 1755.7,1201.3 1756.7,1199.5 1757.7,1200.0 1758.7,1200.2 1759.7,1200.1 1760.7,1201.0 1761.7,1199.6 1762.6,1199.4 1763.6,1200.8 1764.6,1200.0 1765.6,1200.7 1766.6,1200.7 1767.6,1200.1 1768.6,1200.3 1769.6,1201.3 1770.6,1200.6 1771.6,1200.7 1772.6,1201.2 1773.6,1200.1 1774.6,1199.7 1775.6,1200.4 1776.6,1201.9 1777.6,1201.1 1778.6,1202.4 1779.6,1201.4 1780.6,1201.4 1781.6,1200.3 1782.6,1199.4 1783.6,1199.0 1784.6,1200.8 1785.6,1199.8 1786.6,1199.7 1787.6,1201.1 1788.6,1200.9 1789.6,1199.7 1790.6,1200.9 1791.6,1201.7 1792.6,1201.4 1793.6,1200.1 1794.6,1201.4 1795.6,1199.1 1796.6,1200.4 1797.6,1200.3 1798.6,1201.6 1799.6,1199.7 1800.6,1199.9 1801.6,1200.4 1802.6,1201.3 1803.6,1199.6 1804.6,1200.9 1805.6,1200.4 1806.6,1200.3 1807.6,1199.7 1808.6,1201.0 1809.6,1200.8 1810.6,1201.0 1811.6,1200.8 1812.6,1200.6 1813.6,1200.0 1814.6,1200.7 1815.6,1201.3 1816.6,1200.8 1817.6,1201.1 1818.6,1201.4 1819.6,1200.9 1820.6,1200.5 1821.6,1199.9 1822.6,1201.7 1823.6,1200.6 1824.6,1200.6 1825.6,1200.8 1826.6,1201.3 1827.6,1201.4 1828.6,1200.1 1829.6,1200.6 1830.6,1201.6 1831.6,1200.2 1832.6,1200.7 1833.6,1200.0 1834.6,1199.6 1835.6,1199.7 1836.6,1200.8 1837.6,1200.9 1838.6,1198.7 1839.6,1200.5 1840.6,1200.5 1841.6,1199.5 1842.6,1200.7 1843.6,1200.1 1844.6,1201.8 1845.6,1200.0 1846.6,1201.5 1847.6,1199.8 1848.6,1199.9 1849.6,1201.8 1850.6,1200.1 1851.6,1200.4 1852.6,1199.5 1853.6,1200.8 1854.6,1201.8 1855.6,1200.5 1856.6,1200.5 1857.6,1200.7 1858.6,1200.1 1859.6,1199.7 1860.6,1200.8 1861.6,1200.5 1862.6,1199.4 1863.6,1198.9 1864.6,1201.1 1865.6,1199.8 1866.6,1201.1 1867.6,1201.4 1868.6,1200.7 1869.6,1200.3 1870.6,1198.8 1871.6,1201.9 1872.6,1201.4 1873.6,1200.2 1874.6,1199.9 1875.6,1201.1 1876.6,1199.2 1877.6,1201.3 1878.6,1201.5 1879.6,1199.8 1880.6,1199.9 1881.6,1202.1 1882.6,1200.4 1883.6,1200.9 1884.6,1200.5 1885.6,1199.2 1886.6,1201.5 1887.6,1202.0 1888.6,1200.3 1889.6,1200.1 1890.6,1201.9 1891.6,1199.6 1892.6,1200.5 1893.6,1199.7 1894.6,1199.5 1895.6,1200.3 1896.6,1198.7 1897.6,1199.8 1898.6,1200.8 1899.6,1200.2 1900.6,1199.9 1901.6,1202.7 1902.6,1201.4 1903.6,1200.4 1904.6,1201.6 1905.6,1201.3 1906.6,1200.9 1907.6,1201.3 1908.6,1200.5 1909.6,1200.3 1910.6,1202.2 1911.6,1200.8 1912.6,1202.0 1913.6,1199.2 1914.6,1200.1 1915.6,1200.1 1916.6,1200.9 1917.6,1200.7 1918.6,1201.5 1919.6,1201.2 1920.6,1200.8 1921.6,1201.2 1922.6,1201.3 1923.6,1201.0 1924.6,1198.9 1925.6,1200.4 1926.6,1201.3 1927.6,1200.5 1928.6,1201.9 1929.6,1200.4 1930.6,1200.8 1931.6,1200.2 1932.6,1200.7 1933.6,1201.7 1934.6,1201.9 1935.6,1201.5 1936.6,1201.3 1937.6,1200.9 1938.6,1199.8 1939.6,1201.3 1940.6,1200.3 1941.6,1201.0 1942.6,1200.7 1943.6,1201.5 1944.6,1200.3 1945.6,1201.4 1946.6,1200.8 1947.6,1202.1 1948.6,1200.7 1949.6,1200.7 1950.6,1199.4 1951.6,1201.5 1952.6,1200.8 1953.6,1199.1 1954.6,1201.2 1955.6,1201.2 1956.6,1200.6 1957.6,1201.8 1958.6,1200.7 1959.6,1200.7 1960.6,1201.1 1961.6,1200.0 1962.6,1201.3 1963.6,1200.2 1964.6,1201.0 1965.6,1201.7 1966.6,1200.5 1967.6,1200.3 1968.6,1202.1 1969.6,1200.9 1970.6,1201.7 1971.6,1201.3 1972.6,1201.2 1973.6,1201.9 1974.6,1200.8 1975.6,1199.7 1976.6,1200.7 1977.6,1200.4 1978.6,1199.9 1979.6,1200.4 1980.6,1201.0 1981.6,1200.8 1982.6,1200.2 1983.6,1199.5 1984.6,1199.0 1985.6,1197.8 1986.6,1196.7 1987.6,1196.6 1988.6,1196.7 1989.6,1195.3 1990.6,1196.2 1991.6,1197.4 1992.6,1197.1 1993.6,1199.2 1994.6,1200.2 1995.6,1202.1 1996.6,1201.7 1997.6,1203.0 1998.6,1205.4 1999.6,1206.3 2000.6,1205.3 2001.6,1205.7 2002.6,1203.7 2003.6,1204.4 2004.6,1203.1 2005.6,1202.8 2006.6,1200.8 2007.6,1201.5 2008.6,1201.7 2009.6,1201.9 2010.6,1201.3 2011.6,1201.3 2012.6,1201.7 2013.6,1202.2 2014.6,1199.8 2015.6,1199.5 2016.6,1200.9 2017.6,1202.2 2018.6,1202.3 2019.6,1201.5 2020.6,1200.2 2021.6,1201.4 2022.6,1200.4 2023.6,1201.6 2024.6,1200.8 2025.6,1202.2 2026.6,1200.2 2027.6,1202.1 2028.6,1200.4 2029.6,1201.5 2030.6,1201.2 2031.6,1199.9 2032.6,1199.4 2033.6,1200.8 2034.6,1200.7 2035.6,1200.4 2036.6,1201.4 2037.6,1201.1 2038.6,1201.3 2039.6,1200.0 2040.6,1200.7 2041.6,1200.7 2042.6,1201.6 2043.6,1201.8 2044.6,1200.4 2045.6,1200.8 2046.6,1198.8 2047.6,1202.3 2048.6,1201.0 2049.6,1201.1 2050.6,1200.9 2051.6,1200.5 2052.6,1199.2 2053.6,1199.8 2054.6,1199.8 2055.6,1200.3 2056.6,1199.5 2057.6,1200.5 2058.6,1200.8 2059.6,1200.3 2060.6,1200.3 2061.6,1201.9 2062.6,1199.4 2063.6,1199.4 2064.6,1200.5 2065.6,1199.5 2066.6,1201.1 2067.6,1199.1 2068.6,1199.5 2069.6,1200.8 2070.6,1198.1 2071.6,1200.1 2072.6,1199.4 2073.6,1199.3 2074.6,1200.1 2075.6,1198.5 2076.6,1199.3 2077.6,1198.4 2078.6,1199.7 2079.6,1197.6 2080.6,1198.5 2081.6,1198.0 2082.6,1197.5 2083.6,1199.1 2084.6,1197.9 2085.6,1198.6 2086.6,1196.3 2087.6,1197.3 2088.6,1197.3 2089.6,1198.3 2090.6,1196.8 2091.6,1198.3 2092.6,1198.7 2093.6,1198.1 2094.6,1198.1 2095.6,1197.7 2096.6,1197.4 2097.6,1198.0 2098.6,1198.3 2099.6,1199.3 2100.6,1198.3 2101.6,1197.7 2102.6,1199.0 2103.6,1197.6 2104.6,1196.9 2105.6,1198.3 2106.6,1198.1 2107.6,1199.2 2108.6,1198.7 2109.6,1197.8 2110.6,1198.4 2111.6,1198.6 2112.6,1200.8 2113.6,1198.2 2114.6,1198.5 2115.6,1200.4 2116.6,1200.6 2117.6,1199.3 2118.6,1200.7 2119.6,1199.7 2120.6,1199.1 2121.6,1199.8 2122.6,1200.7 2123.6,1201.2 2124.6,1200.0 2125.6,1199.2 2126.6,1200.4 2127.6,1200.0 2128.6,1199.9 2129.6,1200.8 2130.6,1200.7 2131.6,1199.6 2132.6,1200.0 2133.6,1201.7 2134.6,1200.5 2135.6,1202.1 2136.6,1198.8 2137.6,1199.9 2138.6,1200.8 2139.6,1200.1 2140.6,1201.0 2141.6,1200.9 2142.6,1199.8 2143.6,1202.3 2144.6,1202.3 2145.6,1199.6 2146.6,1200.7 2147.6,1199.9 2148.6,1200.6 2149.6,1200.6 2150.6,1200.8 2151.6,1201.9 2152.6,1201.9 2153.6,1200.7 2154.6,1201.3 2155.6,1201.5 2156.6,1199.8 2157.6,1201.1 2158.6,1200.2 2159.6,1201.9 2160.6,1202.0 2161.6,1201.3 2162.6,1202.2 2163.6,1200.8 2164.6,1200.4 2165.6,1202.1 2166.6,1201.0 2167.6,1201.3 2168.6,1200.0 2169.6,1201.6 2170.6,1201.0 2171.6,1200.9 2172.6,1200.2 2173.6,1200.5 2174.6,1200.7 2175.6,1201.2 2176.6,1202.0 2177.6,1199.7 2178.6,1200.0 2179.6,1200.3 2180.6,1200.5 2181.6,1200.4 2182.6,1200.1 2183.6,1200.5 2184.6,1201.4 2185.6,1200.7 2186.6,1200.3 2187.6,1201.5 2188.6,1201.2 2189.6,1200.3 2190.6,1202.0 2191.6,1200.5 2192.6,1200.3 2193.6,1201.4 2194.6,1200.4 2195.6,1200.3 2196.5,1202.1 2197.5,1200.7 2198.5,1200.3 2199.5,1201.2 2200.5,1201.0 2201.5,1199.5 2202.5,1200.7 2203.5,1201.5 2204.5,1200.7 2205.5,1201.4 2206.5,1200.2 2207.5,1201.7 2208.5,1200.8 2209.5,1200.5 2210.5,1200.1 2211.5,1201.8 2212.5,1201.0 2213.5,1200.8 2214.5,1201.4 2215.5,1201.0 2216.5,1200.8 2217.5,1201.4 2218.5,1200.7 2219.5,1201.8 2220.5,1202.9 2221.5,1199.8 2222.5,1201.1 2223.5,1200.8 2224.5,1201.6 2225.5,1199.6 2226.5,1202.8 2227.5,1201.7 2228.5,1202.7 2229.5,1202.0 2230.5,1200.3 2231.5,1201.0 2232.5,1202.4 2233.5,1202.0 2234.5,1200.5 2235.5,1201.3 2236.5,1202.2 2237.5,1202.1 2238.5,1200.8 2239.5,1201.4 2240.5,1201.6 2241.5,1200.9 2242.5,1200.9 2243.5,1201.9 2244.5,1201.1 2245.5,1201.1 2246.5,1202.1 2247.5,1202.0 2248.5,1201.6 2249.5,1200.8 2250.5,1200.5 2251.5,1200.3 2252.5,1200.6 2253.5,1201.4 2254.5,1200.1 2255.5,1200.5 2256.5,1200.3 2257.5,1201.3 2258.5,1200.8 2259.5,1202.3 2260.5,1202.2 2261.5,1201.2 2262.5,1201.1 2263.5,1202.0 2264.5,1200.5 2265.5,1201.9 2266.5,1200.2 2267.5,1200.9 2268.5,1201.4 2269.5,1201.3 2270.5,1199.9 2271.5,1200.5 2272.5,1201.3 2273.5,1199.9 2274.5,1202.6 2275.5,1200.6 2276.5,1201.3 2277.5,1203.4 2278.5,1201.0 2279.5,1201.4 2280.5,1201.6 2281.5,1201.1 2282.5,1200.4 2283.5,1200.0 2284.5,1201.4 2285.5,1201.0 2286.5,1202.2 2287.5,1201.3 2288.5,1201.7 2289.5,1200.4 2290.5,1200.9 2291.5,1201.5 2292.5,1200.9 2293.5,1201.7 2294.5,1200.9 2295.5,1201.0 2296.5,1201.5 2297.5,1200.3 2298.5,1203.2 2299.5,1200.2 2300.5,1202.3 2301.5,1202.4 2302.5,1201.0 2303.5,1201.5 2304.5,1202.0 2305.5,1201.5 2306.5,1201.7 2307.5,1200.9 2308.5,1201.6 2309.5,1200.8 2310.5,1200.3 2311.5,1201.0 2312.5,1201.8 2313.5,1201.4 2314.5,1201.5 2315.5,1200.9 2316.5,1201.3 2317.5,1200.6 2318.5,1201.1 2319.5,1201.3 2320.5,1200.6 2321.5,1202.4 2322.5,1199.7 2323.5,1201.7 2324.5,1201.0 2325.5,1202.0 2326.5,1200.8 2327.5,1201.9 2328.5,1200.6 2329.5,1200.6 2330.5,1201.1 2331.5,1201.2 2332.5,1200.4 2333.5,1202.1 2334.5,1200.4 2335.5,1201.0 2336.5,1201.3 2337.5,1201.1 2338.5,1202.0 2339.5,1200.5 2340.5,1202.0 2341.5,1202.1 2342.5,1201.3 2343.5,1202.8 2344.5,1200.0 2345.5,1200.8 2346.5,1200.1 2347.5,1198.8 2348.5,1199.4 2349.5,1201.5 2350.5,1200.4 2351.5,1199.3 2352.5,1201.3 2353.5,1200.2 2354.5,1200.9 2355.5,1200.8 2356.5,1202.3 2357.5,1199.3 2358.5,1201.4 2359.5,1203.9 2360.5,1201.2 2361.5,1201.5 2362.5,1201.2 2363.5,1201.9 2364.5,1201.6 2365.5,1201.7 2366.5,1200.3 2367.5,1201.2 2368.5,1201.6 2369.5,1201.3 2370.5,1201.7 2371.5,1202.1 2372.5,1202.3 2373.5,1201.4 2374.5,1201.7 2375.5,1200.9 2376.5,1200.9 2377.5,1201.7 2378.5,1200.0 2379.5,1201.6 2380.5,1199.2 2381.5,1199.3 2382.5,1197.9 2383.5,1197.0 2384.5,1197.4 2385.5,1195.4 2386.5,1198.1 2387.5,1196.3 2388.5,1199.1 2389.5,1199.1 2390.5,1199.8 2391.5,1200.6 2392.5,1201.3 2393.5,1200.0 2394.5,1198.6 2395.5,1198.2 2396.5,1198.0 2397.5,1195.7 2398.5,1196.5 2399.5,1197.6 2400.5,1196.9 2401.5,1198.3 2402.5,1200.4 2403.5,1200.4 2404.5,1202.0 2405.5,1202.9 2406.5,1204.5 2407.5,1204.5 2408.5,1205.0 2409.5,1207.9 2410.5,1206.7 2411.5,1206.3 2412.5,1207.1 2413.5,1205.0" fill="none" stroke="#0000ff" stroke-width="12.4" stroke-linejoin="round" stroke-linecap="butt"/>
<path d="M242.0,972.2 243.0,970.3 244.0,971.1 245.0,971.8 246.0,972.9 247.0,971.8 248.0,970.4 249.0,972.0 250.0,970.8 251.0,972.7 252.0,971.6 253.0,973.2 254.0,971.7 255.0,970.9 256.0,970.6 257.0,971.5 258.0,972.1 259.0,972.7 260.0,972.0 261.0,971.2 262.0,972.2 263.0,970.6 264.0,972.2 265.0,971.2 266.0,973.0 267.0,972.6 268.0,972.1 269.0,971.0 270.0,972.2 271.0,972.1 272.0,971.3 273.0,971.3 274.0,972.8 275.0,971.5 276.0,972.1 277.0,972.9 278.0,970.6 279.0,973.2 280.0,972.6 281.0,971.3 282.0,971.0 283.0,970.8 284.0,972.5 285.0,969.7 286.0,972.5 287.0,971.9 288.0,971.2 289.0,971.4 290.0,971.5 291.0,971.6 292.0,972.5 293.0,971.1 294.0,972.7 295.0,972.6 296.0,971.6 297.0,972.3 298.0,971.4 299.0,971.8 300.0,972.2 301.0,973.3 302.0,971.7 303.0,971.7 304.0,971.8 305.0,971.6 306.0,970.9 307.0,973.3 308.0,971.3 309.0,971.3 310.0,971.2 311.0,972.3 312.0,974.2 313.0,974.2 314.0,972.6 315.0,972.1 316.0,971.8 317.0,971.0 318.0,972.4 319.0,971.7 320.0,973.5 321.0,971.6 322.0,971.0 323.0,970.3 324.0,970.4 325.0,972.3 326.0,972.1 327.0,970.9 328.0,970.6 329.0,972.0 330.0,971.5 331.0,972.0 332.0,971.8 333.0,971.2 334.0,970.4 335.0,971.9 336.0,971.9 337.0,972.0 338.0,972.6 339.0,972.6 340.0,971.4 341.0,972.3 342.0,970.1 343.0,972.4 344.0,971.8 345.0,972.6 346.0,972.6 347.0,971.1 348.0,971.7 349.0,972.7 350.0,971.4 351.0,971.9 352.0,971.3 353.0,972.3 354.0,972.0 355.0,971.1 356.0,970.7 357.0,970.0 358.0,972.5 359.0,971.5 360.0,971.3 361.0,971.4 362.0,971.1 363.0,972.4 364.0,972.3 365.0,970.0 366.0,971.8 367.0,971.9 368.0,971.6 369.0,971.9 370.0,973.2 371.0,972.1 372.0,972.8 373.0,972.6 374.0,970.6 375.0,973.3 376.0,972.0 377.0,971.6 378.0,972.5 379.0,973.6 380.0,971.2 381.0,971.3 382.0,972.1 383.0,970.4 384.0,970.9 385.0,971.9 386.0,972.4 387.0,972.3 388.0,972.5 389.0,972.7 390.0,971.5 391.0,971.5 392.0,971.6 393.0,971.6 394.0,972.7 395.0,972.5 396.0,970.2 397.0,972.2 398.0,971.0 399.0,970.9 400.0,972.9 401.0,972.9 402.0,972.8 403.0,972.4 404.0,973.3 405.0,970.9 406.0,972.5 407.0,971.3 408.0,971.3 409.0,970.5 410.0,973.1 411.0,973.3 412.0,972.5 413.0,971.4 414.0,972.0 415.0,971.0 416.0,971.6 417.0,973.1 418.0,973.1 419.0,972.4 420.0,972.5 421.0,971.7 422.0,972.1 423.0,971.7 424.0,972.2 425.0,971.3 426.0,972.7 427.0,971.6 428.0,972.0 429.0,971.7 430.0,973.1 431.0,972.6 432.0,971.2 433.0,971.1 434.0,972.3 435.0,971.9 436.0,971.6 437.0,972.0 438.0,973.2 439.0,971.8 440.0,973.0 441.0,971.4 442.0,971.6 443.0,972.1 444.0,971.8 445.0,971.4 446.0,971.0 447.0,971.6 448.0,971.5 449.0,971.8 450.0,972.7 451.0,972.3 452.0,972.8 453.0,972.0 454.0,972.2 455.0,972.3 456.0,972.4 457.0,972.7 458.0,971.4 459.0,972.2 459.9,972.0 460.9,972.8 461.9,972.5 462.9,971.4 463.9,972.2 464.9,972.4 465.9,971.9 466.9,972.9 467.9,972.1 468.9,970.8 469.9,972.1 470.9,972.5 471.9,971.2 472.9,972.4 473.9,969.6 474.9,973.5 475.9,970.7 476.9,971.4 477.9,971.6 478.9,970.7 479.9,972.1 480.9,971.1 481.9,970.7 482.9,969.9 483.9,972.4 484.9,972.8 485.9,971.6 486.9,972.0 487.9,973.1 488.9,972.1 489.9,972.7 490.9,972.6 491.9,972.4 492.9,972.3 493.9,972.8 494.9,972.0 495.9,971.9 496.9,971.2 497.9,970.1 498.9,971.1 499.9,971.5 500.9,972.7 501.9,971.5 502.9,970.2 503.9,972.4 504.9,972.8 505.9,972.1 506.9,972.1 507.9,972.0 508.9,971.8 509.9,972.9 510.9,971.1 511.9,971.2 512.9,970.6 513.9,971.4 514.9,971.2 515.9,971.3 516.9,972.0 517.9,972.7 518.9,970.7 519.9,971.9 520.9,971.2 521.9,971.3 522.9,971.4 523.9,972.1 524.9,970.5 525.9,973.0 526.9,971.7 527.9,971.2 528.9,970.5 529.9,972.6 530.9,972.3 531.9,972.5 532.9,971.9 533.9,973.2 534.9,973.0 535.9,973.5 536.9,972.1 537.9,972.5 538.9,971.5 539.9,971.9 540.9,971.5 541.9,971.8 542.9,971.8 543.9,971.8 544.9,971.7 545.9,971.9 546.9,971.4 547.9,971.2 548.9,971.4 549.9,972.3 550.9,972.3 551.9,972.6 552.9,973.7 553.9,970.9 554.9,972.4 555.9,970.7 556.9,971.2 557.9,971.1 558.9,971.8 559.9,972.8 560.9,972.9 561.9,972.0 562.9,972.5 563.9,972.0 564.9,970.7 565.9,973.0 566.9,971.2 567.9,971.2 568.9,971.6 569.9,970.9 570.9,971.1 571.9,972.3 572.9,970.9 573.9,971.1 574.9,970.2 575.9,970.1 576.9,971.9 577.9,972.0 578.9,971.3 579.9,973.0 580.9,970.8 581.9,972.0 582.9,971.0 583.9,971.6 584.9,972.0 585.9,970.5 586.9,972.7 587.9,971.5 588.9,971.6 589.9,971.4 590.9,971.8 591.9,970.5 592.9,970.6 593.9,971.8 594.9,971.4 595.9,971.2 596.9,971.8 597.9,972.8 598.9,970.7 599.9,969.5 600.9,971.2 601.9,970.1 602.9,971.3 603.9,970.7 604.9,971.5 605.9,973.0 606.9,971.4 607.9,970.1 608.9,970.5 609.9,970.5 610.9,970.2 611.9,971.8 612.9,971.5 613.9,972.2 614.9,972.0 615.9,971.2 616.9,970.9 617.9,970.9 618.9,971.3 619.9,970.8 620.9,970.0 621.9,973.2 622.9,972.4 623.9,971.0 624.9,970.9 625.9,970.9 626.9,971.6 627.9,970.9 628.9,969.4 629.9,971.4 630.9,971.6 631.9,970.0 632.9,970.0 633.9,971.0 634.9,970.2 635.9,971.9 636.9,971.8 637.9,969.7 638.9,971.4 639.9,969.8 640.9,970.4 641.9,972.1 642.9,970.8 643.9,971.5 644.9,970.6 645.9,972.5 646.9,970.9 647.9,973.4 648.9,971.3 649.9,970.5 650.9,970.9 651.9,970.6 652.9,972.0 653.9,969.9 654.9,971.4 655.9,971.9 656.9,971.5 657.9,969.5 658.9,971.7 659.9,971.3 660.9,971.5 661.9,969.7 662.9,970.6 663.9,971.4 664.9,970.5 665.9,970.6 666.9,970.0 667.9,970.2 668.9,970.3 669.9,972.3 670.9,970.1 671.9,969.7 672.9,969.3 673.9,970.4 674.9,970.2 675.9,969.6 676.9,968.6 677.9,971.5 678.9,969.7 679.9,969.2 680.9,970.0 681.9,969.0 682.9,969.4 683.9,968.0 684.9,969.1 685.9,967.3 686.9,970.1 687.9,969.3 688.9,969.0 689.9,969.2 690.9,968.0 691.9,969.1 692.9,969.0 693.9,969.6 694.9,968.3 695.9,968.4 696.9,968.6 697.9,968.8 698.9,968.6 699.9,968.7 700.9,969.1 701.9,968.5 702.9,968.5 703.9,968.0 704.9,966.9 705.9,968.5 706.9,967.6 707.9,967.7 708.9,966.7 709.9,969.1 710.9,968.5 711.9,967.2 712.9,967.8 713.9,968.1 714.9,968.9 715.9,967.2 716.9,967.8 717.9,966.1 718.9,966.5 719.9,966.4 720.9,966.2 721.9,965.3 722.9,966.6 723.9,965.2 724.9,965.0 725.9,965.4 726.9,966.4 727.9,966.0 728.9,964.6 729.9,963.5 730.9,962.9 731.9,963.7 732.9,963.8 733.9,963.4 734.9,962.0 735.9,960.8 736.9,961.1 737.9,960.9 738.9,958.9 739.9,958.2 740.9,956.4 741.9,955.1 742.9,954.9 743.9,951.6 744.9,951.2 745.9,947.7 746.9,945.6 747.9,943.7 748.9,940.6 749.9,936.3 750.9,933.1 751.9,929.2 752.9,924.8 753.9,919.8 754.9,915.1 755.9,907.6 756.9,902.4 757.9,895.1 758.9,885.0 759.9,876.7 760.9,865.7 761.9,853.3 762.9,841.4 763.9,826.7 764.9,808.7 765.9,789.7 766.9,767.1 767.9,740.0 768.9,712.6 769.9,681.2 770.9,645.6 771.9,604.2 772.9,562.3 773.9,521.0 774.9,478.6 775.9,440.9 776.9,409.3 777.9,389.4 778.9,380.9 779.9,385.1 780.9,403.5 781.9,432.3 782.9,469.5 783.9,510.4 784.9,553.3 785.9,595.7 786.9,635.1 787.9,671.5 788.9,705.9 789.9,734.4 790.9,760.0 791.9,783.5 792.9,804.5 793.9,821.8 794.9,837.4 795.9,851.7 796.9,864.0 797.9,874.1 798.9,883.5 799.9,892.5 800.9,900.7 801.9,905.8 802.9,912.6 803.9,917.7 804.9,923.0 805.9,928.8 806.9,933.9 807.9,935.9 808.9,938.5 809.9,941.5 810.9,945.5 811.9,948.1 812.9,950.0 813.9,951.3 814.9,951.5 815.9,952.6 816.9,954.4 817.9,956.2 818.9,956.1 819.9,956.7 820.9,959.4 821.9,957.9 822.9,961.1 823.9,959.5 824.9,961.0 825.9,960.0 826.9,961.4 827.9,960.0 828.9,960.5 829.9,960.8 830.9,960.1 831.9,959.3 832.9,959.8 833.9,959.7 834.9,960.7 835.9,958.3 836.9,963.2 837.9,965.3 838.9,965.0 839.9,965.4 840.9,966.4 841.9,966.8 842.9,966.7 843.9,968.7 844.9,965.8 845.9,967.1 846.9,967.8 847.9,966.8 848.9,969.4 849.9,967.8 850.9,968.2 851.9,967.8 852.9,968.0 853.9,967.5 854.9,969.2 855.9,967.4 856.9,967.5 857.9,968.6 858.9,967.1 859.9,969.4 860.9,967.4 861.9,967.2 862.9,968.2 863.9,965.0 864.9,967.2 865.9,964.6 866.9,964.2 867.9,965.2 868.9,965.8 869.9,964.6 870.9,965.2 871.9,965.8 872.9,966.6 873.9,967.8 874.9,968.6 875.9,968.8 876.9,969.5 877.9,969.1 878.9,971.6 879.9,971.1 880.9,971.8 881.9,972.2 882.9,971.9 883.9,972.4 884.9,972.0 885.9,972.6 886.9,971.5 887.9,971.0 888.9,971.9 889.9,970.2 890.9,971.9 891.9,970.4 892.9,970.2 893.8,971.2 894.8,972.0 895.8,969.8 896.8,970.3 897.8,971.4 898.8,972.8 899.8,969.0 900.8,970.5 901.8,970.3 902.8,969.9 903.8,972.7 904.8,971.2 905.8,971.1 906.8,970.7 907.8,972.0 908.8,971.6 909.8,970.8 910.8,970.6 911.8,971.5 912.8,971.1 913.8,970.3 914.8,970.8 915.8,970.6 916.8,972.2 917.8,969.9 918.8,971.7 919.8,971.3 920.8,971.2 921.8,970.8 922.8,972.2 923.8,971.0 924.8,972.4 925.8,971.7 926.8,971.5 927.8,970.8 928.8,971.4 929.8,971.6 930.8,972.2 931.8,970.5 932.8,970.8 933.8,970.7 934.8,971.0 935.8,970.0 936.8,972.2 937.8,972.7 938.8,970.3 939.8,972.7 940.8,971.2 941.8,972.0 942.8,972.8 943.8,971.5 944.8,972.3 945.8,971.5 946.8,971.8 947.8,971.2 948.8,971.9 949.8,971.8 950.8,972.5 951.8,971.7 952.8,970.5 953.8,971.2 954.8,972.9 955.8,971.1 956.8,972.2 957.8,971.2 958.8,972.1 959.8,973.0 960.8,973.5 961.8,970.8 962.8,971.1 963.8,971.1 964.8,971.2 965.8,971.8 966.8,971.8 967.8,972.7 968.8,972.2 969.8,971.7 970.8,971.9 971.8,972.0 972.8,972.5 973.8,973.4 974.8,971.6 975.8,972.7 976.8,972.1 977.8,971.6 978.8,972.3 979.8,971.3 980.8,974.3 981.8,972.5 982.8,971.6 983.8,972.0 984.8,971.5 985.8,971.7 986.8,971.7 987.8,971.3 988.8,971.1 989.8,973.0 990.8,971.9 991.8,972.5 992.8,971.7 993.8,971.6 994.8,971.6 995.8,974.1 996.8,973.0 997.8,972.8 998.8,972.1 999.8,971.8 1000.8,972.5 1001.8,972.9 1002.8,971.0 1003.8,971.3 1004.8,972.7 1005.8,972.2 1006.8,971.8 1007.8,971.2 1008.8,970.8 1009.8,971.3 1010.8,971.5 1011.8,972.1 1012.8,972.6 1013.8,972.4 1014.8,972.8 1015.8,971.8 1016.8,973.5 1017.8,972.3 1018.8,972.5 1019.8,972.4 1020.8,971.3 1021.8,973.2 1022.8,973.1 1023.8,972.9 1024.8,972.3 1025.8,971.3 1026.8,972.7 1027.8,972.3 1028.8,974.0 1029.8,971.5 1030.8,971.8 1031.8,971.6 1032.8,971.6 1033.8,971.2 1034.8,971.8 1035.8,972.2 1036.8,973.8 1037.8,973.7 1038.8,973.2 1039.8,971.3 1040.8,972.6 1041.8,972.9 1042.8,972.8 1043.8,971.6 1044.8,973.2 1045.8,972.1 1046.8,971.9 1047.8,973.7 1048.8,973.0 1049.8,972.5 1050.8,973.4 1051.8,972.0 1052.8,970.8 1053.8,973.4 1054.8,972.3 1055.8,972.3 1056.8,972.0 1057.8,973.9 1058.8,972.3 1059.8,971.8 1060.8,971.1 1061.8,972.4 1062.8,971.2 1063.8,972.4 1064.8,972.7 1065.8,973.4 1066.8,972.4 1067.8,971.0 1068.8,970.1 1069.8,972.3 1070.8,972.7 1071.8,970.9 1072.8,973.6 1073.8,972.4 1074.8,973.9 1075.8,971.4 1076.8,971.2 1077.8,973.4 1078.8,973.2 1079.8,971.2 1080.8,973.1 1081.8,972.9 1082.8,972.5 1083.8,971.7 1084.8,972.0 1085.8,971.9 1086.8,972.2 1087.8,972.2 1088.8,973.4 1089.8,971.3 1090.8,974.2 1091.8,971.9 1092.8,972.8 1093.8,971.4 1094.8,973.0 1095.8,971.4 1096.8,974.4 1097.8,972.6 1098.8,973.3 1099.8,972.8 1100.8,971.9 1101.8,972.4 1102.8,973.3 1103.8,973.2 1104.8,971.1 1105.8,973.1 1106.8,971.3 1107.8,973.9 1108.8,973.2 1109.8,972.4 1110.8,972.5 1111.8,972.2 1112.8,972.3 1113.8,972.9 1114.8,972.5 1115.8,973.0 1116.8,972.3 1117.8,973.5 1118.8,970.8 1119.8,972.4 1120.8,972.7 1121.8,972.6 1122.8,973.5 1123.8,972.1 1124.8,971.7 1125.8,972.4 1126.8,972.1 1127.8,973.1 1128.8,972.5 1129.8,971.5 1130.8,971.1 1131.8,974.0 1132.8,971.8 1133.8,973.5 1134.8,972.2 1135.8,972.1 1136.8,972.5 1137.8,970.8 1138.8,971.6 1139.8,972.6 1140.8,971.5 1141.8,971.5 1142.8,971.3 1143.8,973.7 1144.8,972.4 1145.8,970.7 1146.8,971.3 1147.8,972.4 1148.8,972.4 1149.8,973.1 1150.8,972.3 1151.8,973.1 1152.8,972.4 1153.8,972.5 1154.8,972.5 1155.8,972.7 1156.8,971.7 1157.8,973.4 1158.8,973.3 1159.8,972.6 1160.8,973.1 1161.8,971.8 1162.8,972.8 1163.8,972.4 1164.8,971.9 1165.8,972.8 1166.8,971.6 1167.8,971.8 1168.8,972.7 1169.8,973.0 1170.8,972.1 1171.8,971.9 1172.8,972.8 1173.8,972.6 1174.8,972.6 1175.8,971.8 1176.8,971.1 1177.8,972.1 1178.8,973.2 1179.8,972.6 1180.8,972.2 1181.8,972.3 1182.8,973.7 1183.8,972.5 1184.8,973.1 1185.8,971.8 1186.8,972.3 1187.8,972.6 1188.8,972.7 1189.8,973.9 1190.8,972.3 1191.8,972.5 1192.8,972.9 1193.8,971.5 1194.8,972.3 1195.8,973.2 1196.8,972.2 1197.8,973.5 1198.8,973.6 1199.8,972.8 1200.8,973.0 1201.8,972.8 1202.8,974.1 1203.8,973.2 1204.8,972.3 1205.8,971.6 1206.8,971.6 1207.8,971.1 1208.8,972.9 1209.8,972.0 1210.8,973.7 1211.8,972.7 1212.8,972.9 1213.8,972.8 1214.8,972.9 1215.8,973.1 1216.8,972.4 1217.8,972.4 1218.8,972.4 1219.8,973.4 1220.8,971.5 1221.8,971.3 1222.8,970.4 1223.8,973.8 1224.8,972.8 1225.8,973.9 1226.8,973.8 1227.8,973.2 1228.8,972.5 1229.8,971.6 1230.8,972.2 1231.8,972.6 1232.8,972.2 1233.8,972.6 1234.8,972.4 1235.8,973.9 1236.8,972.1 1237.8,972.8 1238.8,972.5 1239.8,972.8 1240.8,972.8 1241.8,972.8 1242.8,973.0 1243.8,971.6 1244.8,972.4 1245.8,972.5 1246.8,974.9 1247.8,971.7 1248.8,972.0 1249.8,973.1 1250.8,971.6 1251.8,973.6 1252.8,971.5 1253.8,971.5 1254.8,973.8 1255.8,972.4 1256.8,972.4 1257.8,971.9 1258.8,973.6 1259.8,972.1 1260.8,971.4 1261.8,972.7 1262.8,971.3 1263.8,973.1 1264.8,972.2 1265.8,973.9 1266.8,971.6 1267.8,972.8 1268.8,972.0 1269.8,971.3 1270.8,971.6 1271.8,972.9 1272.8,972.1 1273.8,973.5 1274.8,972.8 1275.8,973.4 1276.8,973.0 1277.8,972.9 1278.8,972.8 1279.8,973.4 1280.8,971.8 1281.8,973.5 1282.8,972.9 1283.8,972.3 1284.8,973.4 1285.8,972.6 1286.8,970.9 1287.8,972.7 1288.8,972.6 1289.8,973.0 1290.8,972.4 1291.8,973.1 1292.8,971.6 1293.8,971.6 1294.8,972.0 1295.8,971.3 1296.8,973.4 1297.8,973.2 1298.8,972.4 1299.8,972.6 1300.8,973.4 1301.8,971.9 1302.8,973.3 1303.8,973.2 1304.8,972.3 1305.8,973.2 1306.8,972.3 1307.8,971.7 1308.8,973.6 1309.8,971.8 1310.8,971.0 1311.8,972.1 1312.8,972.1 1313.8,972.8 1314.8,972.0 1315.8,973.3 1316.8,972.7 1317.8,972.7 1318.8,972.6 1319.8,973.4 1320.8,971.6 1321.8,972.0 1322.8,971.7 1323.8,972.9 1324.8,973.5 1325.8,974.1 1326.8,972.6 1327.8,971.8 1328.7,973.0 1329.7,971.9 1330.7,973.0 1331.7,972.2 1332.7,973.0 1333.7,972.8 1334.7,972.5 1335.7,973.3 1336.7,973.5 1337.7,973.3 1338.7,971.6 1339.7,973.2 1340.7,973.3 1341.7,974.2 1342.7,972.5 1343.7,972.9 1344.7,974.9 1345.7,973.1 1346.7,972.6 1347.7,973.0 1348.7,972.2 1349.7,973.4 1350.7,972.9 1351.7,973.9 1352.7,972.5 1353.7,973.3 1354.7,974.1 1355.7,972.2 1356.7,974.0 1357.7,971.5 1358.7,972.3 1359.7,971.5 1360.7,972.7 1361.7,971.2 1362.7,971.6 1363.7,971.1 1364.7,972.7 1365.7,972.3 1366.7,972.6 1367.7,971.4 1368.7,971.6 1369.7,971.9 1370.7,973.0 1371.7,972.2 1372.7,972.2 1373.7,972.8 1374.7,973.6 1375.7,973.4 1376.7,973.2 1377.7,971.8 1378.7,973.0 1379.7,971.7 1380.7,973.0 1381.7,972.9 1382.7,971.0 1383.7,971.6 1384.7,973.2 1385.7,972.5 1386.7,973.2 1387.7,972.0 1388.7,972.7 1389.7,972.2 1390.7,973.8 1391.7,972.2 1392.7,972.5 1393.7,970.5 1394.7,971.3 1395.7,972.7 1396.7,974.0 1397.7,972.0 1398.7,973.8 1399.7,974.7 1400.7,971.6 1401.7,973.1 1402.7,972.1 1403.7,972.9 1404.7,972.4 1405.7,973.2 1406.7,971.6 1407.7,973.5 1408.7,972.6 1409.7,973.4 1410.7,972.1 1411.7,974.3 1412.7,973.6 1413.7,973.3 1414.7,973.7 1415.7,972.2 1416.7,971.6 1417.7,971.6 1418.7,971.1 1419.7,972.6 1420.7,972.5 1421.7,970.9 1422.7,971.9 1423.7,973.0 1424.7,971.9 1425.7,971.4 1426.7,972.4 1427.7,972.8 1428.7,972.5 1429.7,972.5 1430.7,973.5 1431.7,973.9 1432.7,972.8 1433.7,972.2 1434.7,972.3 1435.7,970.9 1436.7,971.5 1437.7,972.2 1438.7,972.8 1439.7,971.6 1440.7,973.0 1441.7,973.3 1442.7,973.7 1443.7,972.6 1444.7,972.6 1445.7,972.5 1446.7,972.7 1447.7,972.2 1448.7,972.5 1449.7,973.3 1450.7,973.3 1451.7,972.6 1452.7,972.5 1453.7,972.9 1454.7,971.9 1455.7,971.8 1456.7,972.3 1457.7,972.4 1458.7,972.8 1459.7,973.3 1460.7,973.0 1461.7,973.8 1462.7,972.7 1463.7,973.7 1464.7,973.3 1465.7,972.2 1466.7,972.7 1467.7,972.1 1468.7,971.1 1469.7,973.7 1470.7,972.6 1471.7,974.0 1472.7,971.5 1473.7,972.4 1474.7,973.6 1475.7,973.2 1476.7,974.0 1477.7,973.8 1478.7,972.1 1479.7,972.0 1480.7,973.9 1481.7,972.3 1482.7,973.1 1483.7,972.2 1484.7,973.0 1485.7,972.9 1486.7,972.7 1487.7,973.2 1488.7,972.0 1489.7,974.3 1490.7,973.0 1491.7,972.5 1492.7,973.1 1493.7,972.3 1494.7,972.0 1495.7,972.1 1496.7,973.0 1497.7,973.6 1498.7,974.2 1499.7,973.0 1500.7,973.0 1501.7,971.6 1502.7,973.0 1503.7,971.6 1504.7,974.3 1505.7,973.4 1506.7,972.0 1507.7,974.2 1508.7,971.5 1509.7,973.0 1510.7,973.3 1511.7,973.5 1512.7,972.5 1513.7,974.0 1514.7,972.3 1515.7,972.1 1516.7,971.8 1517.7,972.3 1518.7,971.3 1519.7,972.5 1520.7,972.5 1521.7,973.2 1522.7,972.9 1523.7,972.8 1524.7,972.3 1525.7,973.5 1526.7,972.8 1527.7,972.6 1528.7,974.3 1529.7,972.8 1530.7,972.7 1531.7,972.0 1532.7,973.6 1533.7,972.1 1534.7,974.7 1535.7,972.9 1536.7,972.5 1537.7,972.2 1538.7,974.6 1539.7,973.2 1540.7,972.7 1541.7,973.1 1542.7,974.1 1543.7,972.3 1544.7,973.1 1545.7,972.3 1546.7,971.7 1547.7,973.7 1548.7,972.9 1549.7,972.2 1550.7,972.6 1551.7,972.7 1552.7,974.5 1553.7,973.1 1554.7,972.9 1555.7,972.5 1556.7,972.9 1557.7,973.2 1558.7,973.5 1559.7,971.1 1560.7,972.7 1561.7,972.9 1562.7,973.4 1563.7,972.0 1564.7,972.5 1565.7,973.1 1566.7,973.0 1567.7,972.3 1568.7,971.7 1569.7,972.9 1570.7,973.3 1571.7,973.4 1572.7,973.3 1573.7,973.8 1574.7,972.0 1575.7,973.4 1576.7,971.6 1577.7,972.7 1578.7,972.9 1579.7,973.0 1580.7,973.0 1581.7,973.6 1582.7,972.5 1583.7,973.1 1584.7,972.2 1585.7,973.5 1586.7,973.7 1587.7,973.6 1588.7,974.2 1589.7,972.1 1590.7,972.8 1591.7,972.2 1592.7,973.9 1593.7,972.6 1594.7,973.4 1595.7,973.5 1596.7,972.0 1597.7,974.0 1598.7,973.6 1599.7,972.3 1600.7,973.1 1601.7,972.9 1602.7,974.2 1603.7,973.2 1604.7,973.9 1605.7,973.2 1606.7,973.6 1607.7,972.4 1608.7,972.6 1609.7,973.7 1610.7,973.0 1611.7,972.7 1612.7,972.7 1613.7,972.2 1614.7,973.1 1615.7,972.8 1616.7,972.6 1617.7,973.0 1618.7,973.0 1619.7,973.2 1620.7,971.8 1621.7,973.0 1622.7,971.7 1623.7,973.5 1624.7,972.7 1625.7,974.0 1626.7,972.9 1627.7,973.0 1628.7,973.3 1629.7,973.9 1630.7,973.5 1631.7,973.1 1632.7,972.5 1633.7,971.9 1634.7,974.4 1635.7,972.7 1636.7,970.1 1637.7,972.9 1638.7,974.0 1639.7,973.7 1640.7,972.9 1641.7,972.3 1642.7,973.0 1643.7,972.8 1644.7,973.0 1645.7,973.2 1646.7,972.6 1647.7,972.4 1648.7,973.1 1649.7,972.1 1650.7,972.9 1651.7,973.5 1652.7,971.8 1653.7,973.7 1654.7,972.2 1655.7,974.3 1656.7,973.1 1657.7,973.0 1658.7,974.4 1659.7,972.6 1660.7,972.4 1661.7,974.1 1662.7,972.6 1663.7,972.3 1664.7,972.9 1665.7,973.0 1666.7,973.2 1667.7,973.5 1668.7,973.0 1669.7,973.2 1670.7,974.6 1671.7,972.1 1672.7,974.9 1673.7,972.4 1674.7,972.9 1675.7,975.4 1676.7,974.0 1677.7,973.6 1678.7,973.7 1679.7,972.5 1680.7,972.3 1681.7,973.5 1682.7,973.8 1683.7,972.0 1684.7,973.0 1685.7,973.2 1686.7,973.3 1687.7,972.4 1688.7,973.2 1689.7,972.7 1690.7,971.9 1691.7,972.2 1692.7,973.5 1693.7,972.5 1694.7,971.5 1695.7,973.8 1696.7,972.6 1697.7,972.3 1698.7,973.2 1699.7,972.3 1700.7,972.9 1701.7,974.1 1702.7,972.9 1703.7,971.7 1704.7,973.0 1705.7,973.0 1706.7,972.3 1707.7,972.5 1708.7,971.7 1709.7,972.4 1710.7,973.8 1711.7,972.8 1712.7,972.7 1713.7,972.8 1714.7,972.2 1715.7,972.1 1716.7,974.0 1717.7,973.0 1718.7,973.0 1719.7,972.4 1720.7,972.8 1721.7,973.5 1722.7,972.7 1723.7,973.3 1724.7,972.2 1725.7,973.6 1726.7,971.7 1727.7,973.3 1728.7,971.7 1729.7,974.5 1730.7,972.1 1731.7,971.8 1732.7,971.7 1733.7,973.0 1734.7,973.3 1735.7,973.4 1736.7,972.1 1737.7,972.9 1738.7,972.9 1739.7,973.5 1740.7,974.2 1741.7,973.8 1742.7,974.3 1743.7,974.2 1744.7,972.4 1745.7,973.8 1746.7,973.8 1747.7,973.2 1748.7,972.8 1749.7,972.7 1750.7,973.1 1751.7,973.4 1752.7,972.7 1753.7,973.8 1754.7,971.8 1755.7,973.5 1756.7,971.1 1757.7,973.2 1758.7,972.7 1759.7,973.1 1760.7,972.3 1761.7,973.7 1762.6,972.8 1763.6,972.9 1764.6,973.9 1765.6,972.0 1766.6,973.6 1767.6,972.2 1768.6,973.3 1769.6,970.9 1770.6,972.0 1771.6,971.6 1772.6,973.5 1773.6,972.8 1774.6,972.3 1775.6,973.5 1776.6,973.9 1777.6,972.3 1778.6,973.1 1779.6,972.2 1780.6,973.0 1781.6,972.1 1782.6,973.4 1783.6,974.0 1784.6,972.4 1785.6,974.0 1786.6,972.2 1787.6,972.4 1788.6,973.1 1789.6,972.6 1790.6,971.9 1791.6,973.4 1792.6,973.1 1793.6,973.6 1794.6,972.8 1795.6,974.6 1796.6,973.0 1797.6,974.2 1798.6,972.8 1799.6,973.2 1800.6,972.3 1801.6,972.4 1802.6,973.8 1803.6,973.6 1804.6,973.4 1805.6,972.5 1806.6,972.5 1807.6,971.8 1808.6,971.4 1809.6,975.1 1810.6,972.9 1811.6,972.4 1812.6,973.9 1813.6,972.7 1814.6,973.4 1815.6,973.8 1816.6,973.1 1817.6,973.1 1818.6,972.3 1819.6,972.6 1820.6,973.2 1821.6,973.0 1822.6,974.7 1823.6,973.8 1824.6,971.1 1825.6,972.5 1826.6,973.0 1827.6,972.5 1828.6,972.8 1829.6,972.8 1830.6,973.7 1831.6,972.7 1832.6,971.8 1833.6,972.9 1834.6,974.6 1835.6,973.3 1836.6,972.7 1837.6,973.9 1838.6,973.5 1839.6,974.3 1840.6,976.1 1841.6,973.5 1842.6,974.1 1843.6,974.0 1844.6,973.6 1845.6,972.8 1846.6,973.6 1847.6,972.4 1848.6,973.2 1849.6,972.4 1850.6,971.6 1851.6,972.9 1852.6,973.8 1853.6,971.4 1854.6,973.1 1855.6,973.5 1856.6,973.4 1857.6,973.9 1858.6,974.6 1859.6,972.5 1860.6,974.4 1861.6,974.2 1862.6,971.8 1863.6,972.4 1864.6,973.3 1865.6,972.8 1866.6,973.9 1867.6,973.5 1868.6,972.6 1869.6,974.5 1870.6,972.6 1871.6,973.4 1872.6,973.6 1873.6,972.8 1874.6,972.6 1875.6,973.8 1876.6,973.3 1877.6,972.4 1878.6,973.3 1879.6,972.1 1880.6,972.4 1881.6,974.1 1882.6,972.5 1883.6,973.1 1884.6,972.8 1885.6,972.6 1886.6,972.3 1887.6,973.1 1888.6,973.2 1889.6,973.5 1890.6,973.0 1891.6,973.5 1892.6,973.5 1893.6,973.5 1894.6,974.1 1895.6,972.5 1896.6,973.1 1897.6,971.6 1898.6,973.2 1899.6,971.1 1900.6,973.1 1901.6,973.1 1902.6,972.5 1903.6,972.5 1904.6,973.0 1905.6,973.3 1906.6,973.4 1907.6,973.1 1908.6,972.5 1909.6,973.4 1910.6,973.0 1911.6,972.9 1912.6,972.5 1913.6,973.8 1914.6,974.0 1915.6,972.9 1916.6,972.4 1917.6,972.9 1918.6,973.5 1919.6,972.6 1920.6,972.4 1921.6,974.4 1922.6,972.7 1923.6,972.1 1924.6,972.0 1925.6,974.0 1926.6,972.9 1927.6,972.7 1928.6,973.0 1929.6,972.4 1930.6,973.1 1931.6,975.3 1932.6,973.4 1933.6,973.6 1934.6,973.2 1935.6,973.0 1936.6,974.7 1937.6,973.0 1938.6,975.1 1939.6,972.6 1940.6,972.5 1941.6,972.5 1942.6,973.8 1943.6,973.0 1944.6,971.9 1945.6,973.7 1946.6,973.8 1947.6,973.4 1948.6,973.2 1949.6,972.8 1950.6,972.7 1951.6,972.8 1952.6,975.0 1953.6,973.7 1954.6,973.5 1955.6,972.6 1956.6,974.0 1957.6,973.1 1958.6,972.4 1959.6,972.9 1960.6,974.7 1961.6,972.2 1962.6,972.6 1963.6,973.7 1964.6,973.0 1965.6,972.2 1966.6,973.6 1967.6,973.1 1968.6,973.3 1969.6,973.0 1970.6,973.9 1971.6,972.3 1972.6,971.5 1973.6,972.5 1974.6,973.6 1975.6,971.5 1976.6,972.9 1977.6,973.1 1978.6,972.8 1979.6,973.1 1980.6,972.0 1981.6,973.2 1982.6,972.8 1983.6,972.6 1984.6,971.5 1985.6,970.0 1986.6,970.7 1987.6,969.2 1988.6,969.4 1989.6,966.6 1990.6,967.5 1991.6,968.6 1992.6,969.7 1993.6,970.1 1994.6,972.1 1995.6,974.4 1996.6,974.8 1997.6,975.6 1998.6,976.3 1999.6,977.2 2000.6,977.4 2001.6,977.1 2002.6,976.3 2003.6,975.5 2004.6,977.0 2005.6,975.4 2006.6,973.5 2007.6,973.1 2008.6,973.5 2009.6,973.1 2010.6,973.1 2011.6,974.1 2012.6,972.4 2013.6,971.6 2014.6,971.9 2015.6,972.1 2016.6,972.4 2017.6,973.0 2018.6,974.3 2019.6,972.3 2020.6,972.0 2021.6,973.8 2022.6,973.1 2023.6,974.3 2024.6,973.7 2025.6,973.2 2026.6,973.1 2027.6,972.7 2028.6,974.3 2029.6,973.7 2030.6,973.0 2031.6,973.2 2032.6,973.8 2033.6,973.0 2034.6,974.3 2035.6,973.6 2036.6,972.5 2037.6,972.8 2038.6,973.9 2039.6,972.9 2040.6,973.4 2041.6,973.4 2042.6,973.8 2043.6,973.3 2044.6,972.6 2045.6,973.5 2046.6,973.2 2047.6,973.7 2048.6,973.3 2049.6,973.2 2050.6,972.8 2051.6,973.4 2052.6,974.7 2053.6,973.3 2054.6,974.3 2055.6,972.5 2056.6,974.6 2057.6,971.8 2058.6,973.9 2059.6,972.6 2060.6,972.9 2061.6,972.4 2062.6,973.6 2063.6,970.7 2064.6,972.1 2065.6,973.2 2066.6,972.8 2067.6,972.2 2068.6,972.6 2069.6,972.7 2070.6,973.4 2071.6,973.5 2072.6,973.7 2073.6,973.3 2074.6,970.3 2075.6,972.7 2076.6,970.9 2077.6,973.1 2078.6,972.8 2079.6,971.5 2080.6,972.6 2081.6,971.8 2082.6,970.9 2083.6,971.2 2084.6,971.1 2085.6,971.8 2086.6,971.3 2087.6,971.4 2088.6,971.8 2089.6,971.6 2090.6,971.7 2091.6,969.6 2092.6,970.9 2093.6,970.6 2094.6,971.2 2095.6,968.8 2096.6,971.4 2097.6,969.7 2098.6,970.3 2099.6,970.0 2100.6,968.8 2101.6,970.8 2102.6,970.8 2103.6,969.9 2104.6,970.6 2105.6,970.3 2106.6,969.8 2107.6,969.6 2108.6,970.0 2109.6,969.3 2110.6,969.4 2111.6,967.9 2112.6,968.6 2113.6,970.0 2114.6,969.1 2115.6,970.4 2116.6,969.6 2117.6,969.4 2118.6,967.6 2119.6,970.0 2120.6,968.6 2121.6,969.8 2122.6,970.1 2123.6,969.5 2124.6,969.5 2125.6,970.1 2126.6,970.3 2127.6,971.0 2128.6,969.8 2129.6,969.8 2130.6,971.4 2131.6,969.7 2132.6,970.9 2133.6,970.6 2134.6,969.7 2135.6,969.4 2136.6,970.0 2137.6,971.2 2138.6,971.9 2139.6,970.8 2140.6,971.9 2141.6,970.9 2142.6,972.6 2143.6,970.5 2144.6,973.1 2145.6,971.9 2146.6,972.5 2147.6,973.1 2148.6,972.2 2149.6,973.0 2150.6,971.6 2151.6,972.9 2152.6,972.4 2153.6,973.5 2154.6,973.1 2155.6,971.8 2156.6,973.1 2157.6,973.6 2158.6,972.1 2159.6,973.2 2160.6,973.2 2161.6,972.4 2162.6,972.4 2163.6,972.5 2164.6,972.9 2165.6,973.9 2166.6,972.9 2167.6,972.5 2168.6,973.6 2169.6,975.0 2170.6,973.4 2171.6,972.4 2172.6,974.3 2173.6,972.4 2174.6,972.8 2175.6,973.9 2176.6,972.9 2177.6,972.9 2178.6,973.4 2179.6,972.0 2180.6,972.6 2181.6,973.3 2182.6,972.1 2183.6,972.6 2184.6,973.7 2185.6,974.0 2186.6,971.2 2187.6,973.2 2188.6,973.9 2189.6,974.0 2190.6,973.8 2191.6,972.4 2192.6,972.8 2193.6,973.0 2194.6,973.6 2195.6,971.6 2196.5,974.0 2197.5,974.5 2198.5,972.6 2199.5,973.7 2200.5,971.5 2201.5,973.3 2202.5,972.5 2203.5,971.6 2204.5,973.7 2205.5,973.5 2206.5,973.2 2207.5,972.7 2208.5,973.7 2209.5,973.5 2210.5,973.2 2211.5,973.3 2212.5,974.8 2213.5,972.6 2214.5,974.3 2215.5,972.9 2216.5,973.0 2217.5,972.9 2218.5,973.3 2219.5,973.5 2220.5,975.2 2221.5,974.5 2222.5,972.6 2223.5,973.4 2224.5,971.7 2225.5,971.0 2226.5,972.6 2227.5,972.8 2228.5,972.1 2229.5,974.4 2230.5,972.4 2231.5,973.6 2232.5,973.5 2233.5,974.0 2234.5,974.4 2235.5,973.2 2236.5,973.0 2237.5,973.8 2238.5,975.3 2239.5,973.2 2240.5,972.8 2241.5,973.6 2242.5,973.1 2243.5,973.1 2244.5,972.4 2245.5,973.1 2246.5,973.9 2247.5,973.2 2248.5,974.6 2249.5,973.3 2250.5,973.4 2251.5,973.1 2252.5,974.6 2253.5,974.2 2254.5,973.7 2255.5,972.8 2256.5,972.9 2257.5,971.6 2258.5,973.7 2259.5,972.7 2260.5,974.2 2261.5,973.2 2262.5,972.5 2263.5,973.5 2264.5,973.5 2265.5,972.8 2266.5,974.0 2267.5,972.1 2268.5,974.2 2269.5,973.5 2270.5,973.6 2271.5,973.4 2272.5,973.6 2273.5,973.0 2274.5,973.3 2275.5,973.9 2276.5,973.5 2277.5,972.8 2278.5,972.1 2279.5,974.1 2280.5,973.2 2281.5,972.5 2282.5,972.0 2283.5,973.5 2284.5,971.9 2285.5,974.5 2286.5,972.7 2287.5,973.8 2288.5,971.9 2289.5,972.5 2290.5,973.9 2291.5,973.4 2292.5,973.2 2293.5,973.6 2294.5,974.6 2295.5,973.2 2296.5,973.7 2297.5,973.1 2298.5,972.3 2299.5,971.8 2300.5,974.8 2301.5,973.8 2302.5,973.1 2303.5,974.3 2304.5,971.7 2305.5,973.2 2306.5,974.7 2307.5,973.4 2308.5,973.8 2309.5,971.9 2310.5,973.8 2311.5,973.6 2312.5,972.9 2313.5,973.7 2314.5,973.3 2315.5,972.4 2316.5,974.1 2317.5,974.3 2318.5,973.3 2319.5,973.9 2320.5,974.3 2321.5,975.6 2322.5,973.1 2323.5,973.1 2324.5,973.1 2325.5,973.1 2326.5,973.5 2327.5,973.3 2328.5,974.2 2329.5,974.2 2330.5,974.2 2331.5,972.8 2332.5,972.5 2333.5,974.5 2334.5,972.2 2335.5,972.7 2336.5,973.2 2337.5,974.6 2338.5,972.9 2339.5,972.4 2340.5,973.9 2341.5,973.7 2342.5,974.1 2343.5,974.5 2344.5,973.6 2345.5,973.4 2346.5,972.9 2347.5,973.3 2348.5,973.3 2349.5,974.4 2350.5,972.8 2351.5,974.7 2352.5,972.9 2353.5,974.2 2354.5,972.7 2355.5,973.8 2356.5,973.2 2357.5,974.2 2358.5,972.8 2359.5,972.4 2360.5,973.6 2361.5,972.7 2362.5,973.3 2363.5,973.4 2364.5,974.2 2365.5,973.8 2366.5,974.2 2367.5,974.1 2368.5,972.7 2369.5,973.5 2370.5,974.5 2371.5,973.4 2372.5,974.1 2373.5,972.8 2374.5,972.7 2375.5,973.4 2376.5,972.4 2377.5,972.6 2378.5,972.7 2379.5,973.0 2380.5,971.5 2381.5,971.1 2382.5,971.6 2383.5,970.7 2384.5,968.7 2385.5,970.5 2386.5,970.5 2387.5,970.3 2388.5,971.1 2389.5,970.6 2390.5,972.0 2391.5,974.4 2392.5,972.1 2393.5,969.8 2394.5,972.8 2395.5,969.1 2396.5,970.0 2397.5,970.2 2398.5,969.1 2399.5,969.3 2400.5,968.9 2401.5,970.1 2402.5,970.9 2403.5,974.6 2404.5,973.3 2405.5,975.7 2406.5,976.9 2407.5,978.3 2408.5,977.7 2409.5,980.0 2410.5,980.2 2411.5,979.7 2412.5,979.3 2413.5,976.6" fill="none" stroke="#008000" stroke-width="12.4" stroke-linejoin="round" stroke-linecap="butt"/>
<path d="M242.0,739.9 243.0,738.3 244.0,737.8 245.0,740.1 246.0,742.5 247.0,745.3 248.0,748.0 249.0,748.5 250.0,749.4 251.0,748.4 252.0,747.5 253.0,746.3 254.0,744.0 255.0,745.6 256.0,745.1 257.0,745.0 258.0,743.2 259.0,743.2 260.0,743.9 261.0,744.2 262.0,744.8 263.0,744.6 264.0,745.0 265.0,744.1 266.0,744.8 267.0,744.9 268.0,744.1 269.0,746.0 270.0,745.0 271.0,745.6 272.0,744.1 273.0,744.0 274.0,744.3 275.0,744.5 276.0,745.1 277.0,744.8 278.0,744.3 279.0,743.8 280.0,744.2 281.0,745.6 282.0,744.0 283.0,744.8 284.0,745.0 285.0,743.4 286.0,744.7 287.0,745.7 288.0,743.0 289.0,744.4 290.0,744.5 291.0,744.0 292.0,745.0 293.0,744.6 294.0,743.5 295.0,745.3 296.0,745.2 297.0,745.4 298.0,745.8 299.0,744.9 300.0,744.7 301.0,743.6 302.0,745.1 303.0,744.1 304.0,744.3 305.0,743.6 306.0,743.9 307.0,744.2 308.0,745.7 309.0,743.0 310.0,743.5 311.0,744.8 312.0,745.8 313.0,745.1 314.0,743.1 315.0,742.6 316.0,744.9 317.0,744.1 318.0,743.8 319.0,745.4 320.0,745.5 321.0,744.8 322.0,744.9 323.0,745.0 324.0,745.9 325.0,745.2 326.0,745.1 327.0,745.1 328.0,743.4 329.0,745.7 330.0,745.4 331.0,745.1 332.0,743.1 333.0,744.2 334.0,745.3 335.0,743.2 336.0,744.5 337.0,745.5 338.0,743.6 339.0,746.0 340.0,745.1 341.0,744.6 342.0,744.9 343.0,745.2 344.0,744.8 345.0,745.6 346.0,744.2 347.0,744.4 348.0,745.5 349.0,744.7 350.0,744.0 351.0,745.4 352.0,745.9 353.0,744.3 354.0,743.6 355.0,744.6 356.0,744.6 357.0,744.5 358.0,745.8 359.0,743.9 360.0,745.7 361.0,743.7 362.0,744.1 363.0,745.2 364.0,745.6 365.0,745.4 366.0,745.0 367.0,744.8 368.0,744.8 369.0,745.2 370.0,744.6 371.0,744.9 372.0,745.2 373.0,744.7 374.0,745.3 375.0,745.2 376.0,746.3 377.0,745.0 378.0,744.4 379.0,744.4 380.0,744.7 381.0,745.5 382.0,744.4 383.0,745.0 384.0,746.2 385.0,742.7 386.0,743.8 387.0,744.9 388.0,745.0 389.0,744.9 390.0,744.4 391.0,745.2 392.0,745.0 393.0,744.3 394.0,746.7 395.0,745.0 396.0,744.3 397.0,744.7 398.0,744.6 399.0,744.7 400.0,742.6 401.0,744.3 402.0,745.5 403.0,743.8 404.0,744.7 405.0,745.5 406.0,745.4 407.0,745.9 408.0,743.4 409.0,744.5 410.0,744.5 411.0,745.2 412.0,745.6 413.0,742.6 414.0,745.6 415.0,743.6 416.0,745.3 417.0,743.6 418.0,744.9 419.0,745.7 420.0,744.6 421.0,744.9 422.0,745.4 423.0,744.9 424.0,744.7 425.0,746.0 426.0,745.6 427.0,744.5 428.0,747.0 429.0,743.8 430.0,745.5 431.0,744.5 432.0,744.9 433.0,745.3 434.0,744.9 435.0,745.3 436.0,743.5 437.0,743.6 438.0,745.3 439.0,744.0 440.0,743.9 441.0,743.6 442.0,745.8 443.0,745.4 444.0,745.9 445.0,744.0 446.0,744.8 447.0,743.9 448.0,745.4 449.0,746.0 450.0,744.1 451.0,746.0 452.0,745.6 453.0,744.6 454.0,743.2 455.0,745.9 456.0,744.7 457.0,744.3 458.0,745.1 459.0,745.1 459.9,746.0 460.9,744.0 461.9,745.7 462.9,746.0 463.9,745.9 464.9,744.6 465.9,744.2 466.9,745.6 467.9,744.9 468.9,744.9 469.9,745.9 470.9,744.6 471.9,742.9 472.9,744.5 473.9,743.3 474.9,745.4 475.9,745.0 476.9,744.3 477.9,744.8 478.9,745.4 479.9,744.8 480.9,745.8 481.9,744.7 482.9,745.6 483.9,746.0 484.9,746.1 485.9,744.2 486.9,745.5 487.9,743.3 488.9,743.9 489.9,743.2 490.9,745.6 491.9,743.8 492.9,744.8 493.9,744.6 494.9,744.8 495.9,744.3 496.9,745.0 497.9,746.2 498.9,744.8 499.9,745.2 500.9,745.6 501.9,744.6 502.9,743.8 503.9,744.3 504.9,745.6 505.9,743.5 506.9,744.3 507.9,745.6 508.9,745.4 509.9,744.8 510.9,745.4 511.9,744.9 512.9,743.8 513.9,743.5 514.9,744.3 515.9,745.5 516.9,744.3 517.9,744.1 518.9,744.2 519.9,743.6 520.9,744.7 521.9,743.8 522.9,745.1 523.9,742.9 524.9,745.0 525.9,744.3 526.9,743.2 527.9,745.4 528.9,744.6 529.9,743.0 530.9,744.1 531.9,745.0 532.9,744.4 533.9,745.4 534.9,745.4 535.9,745.3 536.9,745.0 537.9,745.8 538.9,745.3 539.9,745.1 540.9,743.1 541.9,745.5 542.9,745.8 543.9,744.5 544.9,744.4 545.9,746.3 546.9,743.4 547.9,745.1 548.9,746.7 549.9,744.0 550.9,745.3 551.9,746.3 552.9,744.7 553.9,745.2 554.9,745.5 555.9,744.0 556.9,744.7 557.9,745.0 558.9,745.4 559.9,744.7 560.9,744.6 561.9,743.9 562.9,744.5 563.9,745.5 564.9,744.8 565.9,744.1 566.9,744.1 567.9,746.9 568.9,745.6 569.9,745.2 570.9,742.7 571.9,745.2 572.9,745.1 573.9,746.1 574.9,745.1 575.9,744.7 576.9,745.1 577.9,743.2 578.9,745.5 579.9,745.0 580.9,744.1 581.9,745.8 582.9,746.2 583.9,743.6 584.9,744.2 585.9,744.9 586.9,744.8 587.9,744.4 588.9,743.9 589.9,746.4 590.9,745.5 591.9,743.7 592.9,743.6 593.9,746.0 594.9,745.5 595.9,746.1 596.9,745.3 597.9,744.0 598.9,744.9 599.9,742.9 600.9,744.0 601.9,744.6 602.9,745.1 603.9,744.0 604.9,744.5 605.9,745.0 606.9,744.9 607.9,745.1 608.9,744.8 609.9,744.3 610.9,745.2 611.9,744.6 612.9,743.9 613.9,744.1 614.9,744.6 615.9,744.5 616.9,744.7 617.9,744.6 618.9,744.7 619.9,744.4 620.9,743.5 621.9,744.9 622.9,745.4 623.9,744.9 624.9,744.4 625.9,744.9 626.9,743.7 627.9,743.0 628.9,744.5 629.9,743.7 630.9,745.0 631.9,743.6 632.9,742.3 633.9,743.6 634.9,745.7 635.9,744.1 636.9,743.3 637.9,743.8 638.9,744.8 639.9,744.8 640.9,744.5 641.9,745.5 642.9,744.9 643.9,744.3 644.9,744.8 645.9,745.6 646.9,745.1 647.9,745.1 648.9,743.4 649.9,744.1 650.9,744.8 651.9,744.0 652.9,745.0 653.9,744.6 654.9,744.9 655.9,744.0 656.9,746.2 657.9,745.1 658.9,743.9 659.9,744.1 660.9,746.1 661.9,743.8 662.9,744.7 663.9,744.8 664.9,744.0 665.9,743.0 666.9,744.1 667.9,744.2 668.9,744.8 669.9,744.5 670.9,743.8 671.9,744.5 672.9,744.2 673.9,743.9 674.9,743.8 675.9,743.5 676.9,744.2 677.9,742.8 678.9,743.1 679.9,743.6 680.9,742.3 681.9,743.1 682.9,741.8 683.9,742.9 684.9,743.8 685.9,743.8 686.9,743.2 687.9,743.1 688.9,742.1 689.9,744.6 690.9,743.5 691.9,743.9 692.9,742.3 693.9,742.8 694.9,741.5 695.9,743.5 696.9,743.5 697.9,741.2 698.9,742.6 699.9,743.1 700.9,741.2 701.9,741.0 702.9,741.6 703.9,741.9 704.9,741.2 705.9,742.3 706.9,742.4 707.9,742.6 708.9,742.6 709.9,743.1 710.9,742.8 711.9,740.7 712.9,741.3 713.9,740.7 714.9,740.6 715.9,741.4 716.9,741.3 717.9,741.6 718.9,739.9 719.9,740.0 720.9,740.9 721.9,740.6 722.9,740.4 723.9,740.5 724.9,739.8 725.9,740.9 726.9,740.5 727.9,740.0 728.9,739.3 729.9,739.6 730.9,737.3 731.9,738.5 732.9,739.1 733.9,737.7 734.9,738.8 735.9,738.4 736.9,736.9 737.9,737.4 738.9,737.0 739.9,737.1 740.9,736.7 741.9,735.6 742.9,734.3 743.9,734.1 744.9,733.4 745.9,733.0 746.9,731.6 747.9,729.5 748.9,727.6 749.9,726.8 750.9,724.8 751.9,722.5 752.9,721.0 753.9,718.2 754.9,715.8 755.9,712.9 756.9,708.6 757.9,706.8 758.9,700.1 759.9,696.2 760.9,689.8 761.9,684.2 762.9,674.2 763.9,667.3 764.9,658.8 765.9,648.4 766.9,637.4 767.9,621.5 768.9,605.5 769.9,585.4 770.9,562.4 771.9,534.4 772.9,501.1 773.9,462.7 774.9,415.5 775.9,364.2 776.9,303.5 777.9,243.9 778.9,191.1 779.9,152.0 780.9,139.8 781.9,153.0 782.9,181.2 783.9,217.5 784.9,257.3 785.9,296.5 786.9,335.3 787.9,372.5 788.9,412.1 789.9,448.2 790.9,480.6 791.9,511.7 792.9,538.8 793.9,564.7 794.9,584.4 795.9,604.1 796.9,619.4 797.9,633.3 798.9,646.7 799.9,657.9 800.9,666.3 801.9,674.0 802.9,682.6 803.9,688.4 804.9,694.4 805.9,700.6 806.9,704.9 807.9,707.7 808.9,713.6 809.9,715.0 810.9,718.6 811.9,720.1 812.9,722.9 813.9,723.6 814.9,728.2 815.9,729.5 816.9,728.9 817.9,730.0 818.9,731.0 819.9,734.2 820.9,733.8 821.9,734.9 822.9,735.4 823.9,736.1 824.9,735.9 825.9,737.2 826.9,736.5 827.9,738.0 828.9,738.6 829.9,739.0 830.9,738.7 831.9,738.4 832.9,739.5 833.9,739.2 834.9,741.0 835.9,740.6 836.9,740.0 837.9,739.9 838.9,739.9 839.9,739.8 840.9,740.4 841.9,741.0 842.9,741.3 843.9,741.5 844.9,742.8 845.9,740.7 846.9,741.4 847.9,743.7 848.9,740.1 849.9,741.2 850.9,741.9 851.9,742.0 852.9,742.3 853.9,741.8 854.9,742.4 855.9,742.2 856.9,742.9 857.9,740.8 858.9,741.7 859.9,742.5 860.9,741.7 861.9,741.8 862.9,743.2 863.9,742.2 864.9,743.3 865.9,743.4 866.9,743.1 867.9,743.2 868.9,742.7 869.9,741.6 870.9,742.6 871.9,742.9 872.9,741.9 873.9,742.0 874.9,742.4 875.9,740.8 876.9,741.6 877.9,742.2 878.9,740.0 879.9,740.2 880.9,739.8 881.9,741.0 882.9,740.0 883.9,740.5 884.9,739.4 885.9,740.3 886.9,740.6 887.9,739.6 888.9,742.6 889.9,742.6 890.9,740.9 891.9,743.3 892.9,742.9 893.8,743.7 894.8,743.9 895.8,742.6 896.8,743.7 897.8,745.2 898.8,743.7 899.8,743.4 900.8,743.1 901.8,743.3 902.8,744.6 903.8,745.7 904.8,744.7 905.8,744.6 906.8,746.2 907.8,744.0 908.8,743.9 909.8,744.9 910.8,744.9 911.8,743.7 912.8,743.6 913.8,744.8 914.8,744.8 915.8,743.5 916.8,744.4 917.8,744.2 918.8,745.0 919.8,744.6 920.8,744.6 921.8,744.4 922.8,745.5 923.8,745.8 924.8,744.4 925.8,745.4 926.8,744.1 927.8,744.8 928.8,745.4 929.8,746.0 930.8,744.5 931.8,744.8 932.8,745.0 933.8,743.6 934.8,744.9 935.8,744.3 936.8,745.2 937.8,744.0 938.8,743.3 939.8,744.9 940.8,745.1 941.8,744.5 942.8,745.6 943.8,744.7 944.8,744.5 945.8,745.3 946.8,743.7 947.8,744.4 948.8,745.0 949.8,745.7 950.8,744.9 951.8,745.3 952.8,744.5 953.8,745.3 954.8,746.4 955.8,744.5 956.8,747.0 957.8,744.6 958.8,745.1 959.8,745.2 960.8,745.9 961.8,744.1 962.8,743.4 963.8,745.6 964.8,745.8 965.8,745.6 966.8,747.2 967.8,745.3 968.8,745.3 969.8,745.9 970.8,745.4 971.8,746.5 972.8,744.2 973.8,744.9 974.8,742.4 975.8,745.8 976.8,744.9 977.8,745.9 978.8,746.9 979.8,745.2 980.8,745.0 981.8,744.8 982.8,744.6 983.8,744.7 984.8,745.7 985.8,745.3 986.8,745.3 987.8,745.1 988.8,746.0 989.8,745.7 990.8,745.1 991.8,745.8 992.8,745.2 993.8,744.4 994.8,746.4 995.8,745.7 996.8,744.5 997.8,746.2 998.8,745.6 999.8,744.1 1000.8,746.6 1001.8,745.6 1002.8,746.0 1003.8,745.5 1004.8,745.2 1005.8,744.1 1006.8,746.1 1007.8,745.4 1008.8,745.1 1009.8,745.6 1010.8,745.4 1011.8,745.9 1012.8,745.1 1013.8,745.3 1014.8,743.7 1015.8,745.0 1016.8,745.9 1017.8,746.4 1018.8,745.1 1019.8,745.3 1020.8,746.7 1021.8,745.1 1022.8,746.0 1023.8,746.7 1024.8,745.4 1025.8,746.4 1026.8,744.8 1027.8,745.6 1028.8,745.3 1029.8,745.5 1030.8,746.3 1031.8,747.3 1032.8,744.9 1033.8,745.0 1034.8,745.8 1035.8,744.6 1036.8,745.8 1037.8,745.9 1038.8,745.2 1039.8,745.9 1040.8,744.2 1041.8,746.1 1042.8,744.2 1043.8,744.9 1044.8,745.0 1045.8,745.1 1046.8,746.2 1047.8,745.5 1048.8,745.2 1049.8,745.9 1050.8,746.7 1051.8,745.5 1052.8,745.8 1053.8,746.5 1054.8,745.7 1055.8,744.5 1056.8,747.5 1057.8,747.3 1058.8,743.9 1059.8,745.5 1060.8,745.8 1061.8,746.3 1062.8,746.0 1063.8,745.3 1064.8,744.7 1065.8,745.6 1066.8,746.3 1067.8,744.7 1068.8,744.7 1069.8,745.5 1070.8,744.0 1071.8,745.3 1072.8,745.2 1073.8,745.9 1074.8,745.0 1075.8,744.8 1076.8,745.2 1077.8,745.5 1078.8,745.0 1079.8,745.6 1080.8,746.2 1081.8,746.5 1082.8,746.9 1083.8,744.9 1084.8,745.2 1085.8,743.6 1086.8,747.1 1087.8,745.0 1088.8,745.5 1089.8,746.0 1090.8,744.5 1091.8,745.9 1092.8,745.6 1093.8,744.1 1094.8,745.8 1095.8,746.5 1096.8,744.1 1097.8,746.2 1098.8,745.8 1099.8,746.0 1100.8,746.0 1101.8,746.6 1102.8,745.4 1103.8,746.3 1104.8,745.3 1105.8,746.2 1106.8,745.0 1107.8,745.5 1108.8,747.0 1109.8,746.0 1110.8,745.5 1111.8,744.7 1112.8,745.0 1113.8,745.8 1114.8,746.4 1115.8,746.0 1116.8,746.0 1117.8,745.6 1118.8,746.7 1119.8,745.3 1120.8,745.2 1121.8,746.4 1122.8,745.7 1123.8,745.4 1124.8,745.2 1125.8,745.4 1126.8,746.1 1127.8,745.9 1128.8,744.7 1129.8,746.0 1130.8,745.8 1131.8,744.9 1132.8,746.3 1133.8,745.4 1134.8,745.4 1135.8,746.3 1136.8,746.7 1137.8,745.1 1138.8,746.0 1139.8,745.0 1140.8,747.5 1141.8,745.3 1142.8,746.6 1143.8,745.2 1144.8,746.3 1145.8,747.5 1146.8,743.7 1147.8,745.3 1148.8,746.1 1149.8,745.6 1150.8,745.2 1151.8,747.4 1152.8,745.8 1153.8,744.4 1154.8,746.4 1155.8,744.3 1156.8,746.6 1157.8,745.2 1158.8,745.8 1159.8,746.7 1160.8,745.8 1161.8,744.6 1162.8,744.4 1163.8,746.7 1164.8,746.3 1165.8,745.1 1166.8,746.4 1167.8,746.1 1168.8,746.2 1169.8,743.9 1170.8,745.5 1171.8,746.5 1172.8,746.3 1173.8,746.4 1174.8,743.8 1175.8,745.9 1176.8,746.1 1177.8,747.8 1178.8,745.0 1179.8,745.5 1180.8,745.8 1181.8,746.5 1182.8,745.4 1183.8,746.7 1184.8,745.1 1185.8,746.0 1186.8,745.3 1187.8,745.9 1188.8,745.2 1189.8,744.5 1190.8,746.6 1191.8,746.0 1192.8,745.3 1193.8,745.9 1194.8,746.6 1195.8,745.0 1196.8,745.7 1197.8,746.2 1198.8,746.2 1199.8,745.5 1200.8,744.1 1201.8,746.8 1202.8,746.0 1203.8,745.8 1204.8,745.6 1205.8,746.0 1206.8,745.4 1207.8,745.0 1208.8,745.2 1209.8,745.3 1210.8,745.3 1211.8,744.9 1212.8,746.3 1213.8,744.8 1214.8,746.3 1215.8,745.0 1216.8,746.1 1217.8,746.9 1218.8,746.0 1219.8,745.2 1220.8,745.8 1221.8,745.9 1222.8,744.4 1223.8,745.3 1224.8,745.9 1225.8,745.4 1226.8,745.9 1227.8,746.4 1228.8,746.4 1229.8,746.5 1230.8,746.3 1231.8,745.6 1232.8,745.8 1233.8,745.6 1234.8,745.6 1235.8,745.7 1236.8,744.5 1237.8,745.6 1238.8,745.8 1239.8,745.1 1240.8,745.8 1241.8,746.3 1242.8,745.7 1243.8,747.5 1244.8,743.8 1245.8,745.7 1246.8,744.4 1247.8,746.6 1248.8,748.0 1249.8,743.9 1250.8,746.0 1251.8,746.3 1252.8,745.6 1253.8,746.3 1254.8,744.1 1255.8,746.5 1256.8,746.2 1257.8,745.9 1258.8,745.4 1259.8,746.4 1260.8,745.5 1261.8,746.1 1262.8,745.5 1263.8,744.1 1264.8,745.9 1265.8,746.0 1266.8,746.5 1267.8,745.2 1268.8,745.9 1269.8,746.4 1270.8,746.0 1271.8,746.9 1272.8,747.5 1273.8,745.2 1274.8,744.4 1275.8,746.6 1276.8,747.1 1277.8,746.6 1278.8,746.6 1279.8,745.4 1280.8,745.3 1281.8,746.6 1282.8,745.2 1283.8,744.5 1284.8,745.1 1285.8,747.9 1286.8,747.4 1287.8,745.4 1288.8,745.3 1289.8,746.1 1290.8,745.3 1291.8,747.0 1292.8,745.9 1293.8,745.1 1294.8,747.0 1295.8,745.5 1296.8,746.1 1297.8,745.9 1298.8,745.7 1299.8,746.2 1300.8,745.4 1301.8,744.5 1302.8,744.2 1303.8,744.9 1304.8,745.3 1305.8,745.9 1306.8,746.0 1307.8,746.4 1308.8,746.0 1309.8,745.3 1310.8,745.4 1311.8,744.3 1312.8,745.8 1313.8,746.3 1314.8,746.4 1315.8,745.9 1316.8,745.8 1317.8,746.7 1318.8,746.0 1319.8,746.5 1320.8,746.4 1321.8,746.1 1322.8,747.0 1323.8,745.5 1324.8,745.7 1325.8,745.3 1326.8,745.3 1327.8,747.2 1328.7,747.4 1329.7,746.0 1330.7,746.4 1331.7,746.9 1332.7,746.6 1333.7,746.9 1334.7,745.0 1335.7,745.5 1336.7,746.3 1337.7,747.1 1338.7,746.1 1339.7,745.3 1340.7,745.7 1341.7,745.5 1342.7,745.3 1343.7,747.2 1344.7,745.5 1345.7,746.0 1346.7,747.7 1347.7,746.9 1348.7,746.3 1349.7,745.5 1350.7,746.3 1351.7,747.3 1352.7,746.5 1353.7,747.0 1354.7,746.1 1355.7,746.4 1356.7,745.8 1357.7,746.4 1358.7,747.1 1359.7,744.9 1360.7,746.0 1361.7,746.2 1362.7,745.6 1363.7,745.8 1364.7,746.7 1365.7,747.6 1366.7,746.5 1367.7,746.3 1368.7,744.8 1369.7,747.6 1370.7,746.1 1371.7,746.0 1372.7,745.1 1373.7,746.0 1374.7,745.2 1375.7,746.1 1376.7,746.4 1377.7,746.1 1378.7,746.3 1379.7,745.4 1380.7,747.2 1381.7,745.5 1382.7,744.6 1383.7,745.9 1384.7,745.4 1385.7,745.2 1386.7,745.8 1387.7,746.3 1388.7,745.1 1389.7,745.9 1390.7,747.2 1391.7,746.6 1392.7,745.9 1393.7,746.2 1394.7,746.0 1395.7,746.0 1396.7,746.7 1397.7,746.0 1398.7,744.1 1399.7,746.1 1400.7,745.4 1401.7,746.6 1402.7,745.6 1403.7,746.2 1404.7,747.8 1405.7,745.2 1406.7,745.2 1407.7,745.0 1408.7,744.2 1409.7,744.6 1410.7,746.4 1411.7,745.6 1412.7,744.6 1413.7,744.9 1414.7,746.6 1415.7,745.5 1416.7,745.8 1417.7,746.4 1418.7,747.2 1419.7,747.7 1420.7,746.9 1421.7,746.2 1422.7,746.2 1423.7,747.5 1424.7,747.2 1425.7,745.9 1426.7,746.5 1427.7,746.3 1428.7,746.2 1429.7,745.7 1430.7,745.1 1431.7,745.7 1432.7,744.9 1433.7,747.1 1434.7,746.5 1435.7,745.2 1436.7,747.2 1437.7,746.8 1438.7,744.6 1439.7,747.6 1440.7,746.8 1441.7,747.8 1442.7,745.1 1443.7,746.6 1444.7,746.5 1445.7,746.3 1446.7,746.3 1447.7,747.0 1448.7,744.9 1449.7,745.1 1450.7,745.0 1451.7,745.7 1452.7,745.7 1453.7,746.4 1454.7,746.4 1455.7,746.2 1456.7,745.6 1457.7,745.8 1458.7,746.9 1459.7,746.8 1460.7,746.2 1461.7,745.9 1462.7,747.4 1463.7,745.7 1464.7,746.7 1465.7,747.1 1466.7,745.9 1467.7,746.8 1468.7,745.3 1469.7,747.0 1470.7,746.3 1471.7,744.9 1472.7,746.7 1473.7,745.5 1474.7,747.2 1475.7,745.6 1476.7,746.0 1477.7,746.4 1478.7,745.9 1479.7,746.4 1480.7,745.7 1481.7,746.7 1482.7,746.2 1483.7,746.4 1484.7,744.0 1485.7,747.1 1486.7,746.2 1487.7,744.8 1488.7,746.3 1489.7,746.6 1490.7,747.1 1491.7,745.3 1492.7,747.4 1493.7,746.1 1494.7,748.1 1495.7,746.1 1496.7,746.7 1497.7,745.9 1498.7,745.3 1499.7,747.1 1500.7,746.9 1501.7,747.4 1502.7,746.9 1503.7,745.8 1504.7,744.9 1505.7,745.7 1506.7,745.7 1507.7,745.6 1508.7,746.7 1509.7,746.5 1510.7,746.0 1511.7,746.4 1512.7,746.1 1513.7,746.4 1514.7,746.8 1515.7,747.0 1516.7,745.7 1517.7,745.0 1518.7,747.4 1519.7,746.3 1520.7,747.1 1521.7,744.9 1522.7,746.0 1523.7,746.3 1524.7,745.1 1525.7,745.8 1526.7,746.8 1527.7,747.1 1528.7,747.5 1529.7,745.6 1530.7,745.1 1531.7,746.7 1532.7,747.0 1533.7,746.4 1534.7,745.2 1535.7,746.9 1536.7,746.9 1537.7,746.7 1538.7,745.9 1539.7,746.5 1540.7,746.9 1541.7,745.8 1542.7,744.8 1543.7,746.5 1544.7,746.7 1545.7,746.3 1546.7,747.0 1547.7,745.8 1548.7,746.2 1549.7,746.0 1550.7,746.7 1551.7,747.6 1552.7,746.1 1553.7,747.9 1554.7,747.5 1555.7,746.9 1556.7,746.8 1557.7,747.7 1558.7,746.1 1559.7,746.2 1560.7,745.4 1561.7,746.7 1562.7,747.4 1563.7,746.7 1564.7,746.6 1565.7,746.1 1566.7,746.4 1567.7,745.2 1568.7,747.1 1569.7,746.0 1570.7,745.4 1571.7,745.7 1572.7,745.6 1573.7,747.0 1574.7,747.2 1575.7,745.2 1576.7,747.0 1577.7,747.0 1578.7,745.8 1579.7,745.1 1580.7,745.7 1581.7,745.8 1582.7,746.6 1583.7,746.0 1584.7,744.7 1585.7,746.5 1586.7,745.1 1587.7,747.0 1588.7,745.4 1589.7,745.8 1590.7,745.6 1591.7,745.9 1592.7,747.4 1593.7,747.0 1594.7,746.8 1595.7,746.6 1596.7,745.1 1597.7,745.9 1598.7,745.9 1599.7,745.6 1600.7,746.7 1601.7,745.7 1602.7,745.8 1603.7,745.5 1604.7,744.7 1605.7,746.8 1606.7,747.4 1607.7,746.5 1608.7,745.6 1609.7,744.2 1610.7,746.5 1611.7,747.3 1612.7,746.6 1613.7,747.1 1614.7,747.5 1615.7,747.3 1616.7,746.0 1617.7,747.2 1618.7,747.0 1619.7,745.1 1620.7,746.0 1621.7,745.2 1622.7,746.3 1623.7,746.8 1624.7,745.5 1625.7,744.7 1626.7,747.4 1627.7,746.7 1628.7,747.6 1629.7,745.3 1630.7,747.2 1631.7,748.0 1632.7,748.0 1633.7,746.2 1634.7,746.6 1635.7,746.3 1636.7,747.2 1637.7,747.2 1638.7,746.5 1639.7,745.3 1640.7,747.0 1641.7,746.0 1642.7,746.9 1643.7,746.6 1644.7,747.7 1645.7,747.3 1646.7,746.0 1647.7,746.7 1648.7,747.8 1649.7,746.0 1650.7,746.8 1651.7,747.4 1652.7,747.4 1653.7,746.8 1654.7,745.4 1655.7,745.4 1656.7,746.6 1657.7,746.7 1658.7,748.5 1659.7,745.7 1660.7,747.3 1661.7,747.0 1662.7,745.1 1663.7,745.8 1664.7,746.6 1665.7,746.0 1666.7,746.3 1667.7,746.8 1668.7,745.8 1669.7,746.8 1670.7,745.9 1671.7,746.0 1672.7,746.9 1673.7,746.0 1674.7,746.7 1675.7,747.7 1676.7,746.5 1677.7,746.3 1678.7,747.0 1679.7,746.2 1680.7,747.3 1681.7,745.4 1682.7,746.9 1683.7,746.0 1684.7,745.8 1685.7,747.9 1686.7,745.8 1687.7,747.9 1688.7,747.0 1689.7,747.6 1690.7,745.7 1691.7,747.4 1692.7,747.6 1693.7,746.4 1694.7,746.4 1695.7,748.4 1696.7,746.6 1697.7,746.1 1698.7,746.0 1699.7,746.8 1700.7,746.7 1701.7,746.6 1702.7,747.9 1703.7,746.2 1704.7,746.9 1705.7,747.6 1706.7,745.7 1707.7,747.3 1708.7,747.9 1709.7,745.4 1710.7,745.6 1711.7,745.7 1712.7,745.0 1713.7,746.9 1714.7,745.0 1715.7,746.9 1716.7,747.7 1717.7,745.2 1718.7,746.2 1719.7,745.0 1720.7,747.1 1721.7,745.9 1722.7,746.3 1723.7,746.5 1724.7,746.9 1725.7,746.2 1726.7,746.5 1727.7,746.1 1728.7,746.6 1729.7,745.6 1730.7,746.6 1731.7,745.0 1732.7,746.1 1733.7,748.0 1734.7,746.6 1735.7,745.5 1736.7,746.7 1737.7,745.7 1738.7,745.2 1739.7,745.9 1740.7,747.1 1741.7,746.8 1742.7,746.4 1743.7,745.8 1744.7,745.7 1745.7,747.6 1746.7,746.7 1747.7,745.8 1748.7,744.8 1749.7,745.4 1750.7,748.5 1751.7,745.6 1752.7,746.5 1753.7,746.7 1754.7,746.4 1755.7,746.3 1756.7,745.4 1757.7,745.7 1758.7,747.9 1759.7,745.9 1760.7,747.2 1761.7,745.2 1762.6,746.3 1763.6,746.8 1764.6,747.4 1765.6,745.7 1766.6,747.0 1767.6,746.9 1768.6,746.0 1769.6,746.9 1770.6,745.8 1771.6,745.9 1772.6,746.6 1773.6,744.4 1774.6,746.5 1775.6,745.8 1776.6,745.4 1777.6,746.2 1778.6,747.2 1779.6,746.3 1780.6,747.6 1781.6,745.7 1782.6,745.5 1783.6,747.8 1784.6,746.9 1785.6,747.3 1786.6,745.9 1787.6,747.2 1788.6,746.8 1789.6,747.1 1790.6,746.6 1791.6,747.6 1792.6,746.1 1793.6,745.8 1794.6,745.4 1795.6,747.5 1796.6,746.0 1797.6,745.8 1798.6,745.8 1799.6,746.2 1800.6,745.6 1801.6,746.4 1802.6,746.1 1803.6,746.2 1804.6,745.8 1805.6,746.6 1806.6,746.2 1807.6,746.7 1808.6,746.8 1809.6,746.9 1810.6,744.9 1811.6,746.2 1812.6,746.0 1813.6,747.2 1814.6,745.4 1815.6,746.1 1816.6,746.4 1817.6,746.4 1818.6,747.4 1819.6,746.3 1820.6,747.4 1821.6,745.5 1822.6,745.2 1823.6,747.6 1824.6,747.0 1825.6,747.0 1826.6,746.7 1827.6,747.0 1828.6,745.7 1829.6,747.4 1830.6,746.2 1831.6,747.4 1832.6,746.7 1833.6,745.1 1834.6,745.6 1835.6,747.6 1836.6,746.5 1837.6,746.3 1838.6,746.8 1839.6,746.3 1840.6,746.2 1841.6,746.7 1842.6,746.8 1843.6,747.9 1844.6,746.7 1845.6,748.2 1846.6,748.1 1847.6,748.0 1848.6,747.5 1849.6,746.8 1850.6,746.8 1851.6,746.6 1852.6,746.1 1853.6,746.6 1854.6,746.2 1855.6,748.0 1856.6,747.1 1857.6,746.3 1858.6,745.1 1859.6,746.6 1860.6,746.3 1861.6,745.8 1862.6,745.8 1863.6,744.9 1864.6,747.1 1865.6,746.6 1866.6,748.8 1867.6,746.7 1868.6,746.6 1869.6,747.8 1870.6,746.8 1871.6,746.8 1872.6,746.4 1873.6,746.2 1874.6,747.9 1875.6,747.5 1876.6,748.1 1877.6,746.4 1878.6,746.7 1879.6,746.0 1880.6,747.5 1881.6,745.6 1882.6,747.2 1883.6,747.6 1884.6,747.8 1885.6,746.0 1886.6,747.6 1887.6,746.1 1888.6,746.1 1889.6,745.7 1890.6,747.6 1891.6,748.0 1892.6,746.2 1893.6,746.1 1894.6,746.5 1895.6,748.7 1896.6,747.5 1897.6,746.3 1898.6,745.3 1899.6,746.2 1900.6,747.7 1901.6,748.2 1902.6,746.5 1903.6,746.2 1904.6,746.3 1905.6,745.2 1906.6,747.5 1907.6,745.9 1908.6,747.6 1909.6,745.4 1910.6,745.7 1911.6,747.0 1912.6,746.1 1913.6,747.4 1914.6,746.8 1915.6,745.8 1916.6,747.3 1917.6,747.4 1918.6,745.2 1919.6,748.2 1920.6,747.2 1921.6,747.4 1922.6,745.3 1923.6,746.2 1924.6,746.5 1925.6,747.6 1926.6,745.6 1927.6,746.1 1928.6,745.1 1929.6,746.6 1930.6,747.0 1931.6,745.4 1932.6,746.3 1933.6,747.2 1934.6,748.0 1935.6,747.3 1936.6,746.5 1937.6,745.8 1938.6,746.0 1939.6,746.3 1940.6,746.9 1941.6,746.7 1942.6,748.1 1943.6,747.0 1944.6,745.9 1945.6,748.0 1946.6,747.6 1947.6,746.9 1948.6,746.2 1949.6,745.3 1950.6,746.0 1951.6,747.5 1952.6,746.2 1953.6,745.7 1954.6,747.0 1955.6,747.0 1956.6,747.3 1957.6,747.3 1958.6,747.9 1959.6,746.1 1960.6,747.6 1961.6,746.0 1962.6,747.4 1963.6,747.0 1964.6,747.0 1965.6,747.6 1966.6,746.8 1967.6,747.7 1968.6,747.5 1969.6,746.9 1970.6,746.4 1971.6,746.2 1972.6,746.4 1973.6,746.7 1974.6,746.8 1975.6,749.2 1976.6,747.3 1977.6,747.4 1978.6,746.1 1979.6,746.2 1980.6,746.4 1981.6,746.6 1982.6,745.3 1983.6,746.9 1984.6,744.5 1985.6,745.0 1986.6,741.4 1987.6,742.5 1988.6,742.2 1989.6,742.0 1990.6,742.6 1991.6,743.1 1992.6,743.9 1993.6,743.4 1994.6,745.5 1995.6,745.4 1996.6,748.9 1997.6,749.6 1998.6,750.0 1999.6,750.0 2000.6,750.4 2001.6,752.1 2002.6,751.6 2003.6,749.5 2004.6,749.9 2005.6,747.0 2006.6,746.2 2007.6,747.0 2008.6,746.4 2009.6,746.6 2010.6,747.1 2011.6,749.3 2012.6,746.4 2013.6,746.9 2014.6,747.1 2015.6,746.8 2016.6,747.6 2017.6,748.3 2018.6,745.9 2019.6,747.0 2020.6,746.7 2021.6,747.2 2022.6,745.7 2023.6,745.5 2024.6,745.0 2025.6,747.3 2026.6,747.0 2027.6,746.9 2028.6,745.0 2029.6,746.6 2030.6,746.3 2031.6,745.7 2032.6,746.1 2033.6,747.4 2034.6,747.3 2035.6,746.8 2036.6,747.3 2037.6,746.4 2038.6,746.9 2039.6,746.9 2040.6,747.3 2041.6,746.8 2042.6,746.7 2043.6,746.7 2044.6,746.3 2045.6,748.6 2046.6,747.2 2047.6,747.1 2048.6,748.6 2049.6,747.9 2050.6,745.5 2051.6,747.3 2052.6,747.4 2053.6,748.2 2054.6,747.7 2055.6,747.3 2056.6,745.7 2057.6,745.9 2058.6,746.8 2059.6,747.0 2060.6,745.7 2061.6,746.2 2062.6,746.2 2063.6,746.5 2064.6,746.7 2065.6,746.2 2066.6,745.4 2067.6,747.4 2068.6,747.6 2069.6,746.2 2070.6,747.1 2071.6,746.6 2072.6,746.7 2073.6,746.5 2074.6,745.5 2075.6,746.5 2076.6,746.8 2077.6,745.3 2078.6,747.5 2079.6,747.6 2080.6,747.3 2081.6,747.4 2082.6,746.3 2083.6,745.4 2084.6,745.1 2085.6,744.9 2086.6,745.5 2087.6,745.3 2088.6,745.8 2089.6,743.5 2090.6,746.9 2091.6,746.7 2092.6,744.7 2093.6,745.1 2094.6,744.7 2095.6,744.3 2096.6,743.7 2097.6,743.5 2098.6,742.6 2099.6,743.0 2100.6,742.4 2101.6,742.3 2102.6,740.9 2103.6,741.1 2104.6,740.6 2105.6,740.5 2106.6,738.6 2107.6,739.2 2108.6,739.1 2109.6,738.2 2110.6,736.9 2111.6,736.2 2112.6,735.9 2113.6,736.3 2114.6,736.6 2115.6,734.9 2116.6,734.2 2117.6,734.9 2118.6,734.7 2119.6,733.8 2120.6,734.0 2121.6,734.7 2122.6,735.6 2123.6,734.4 2124.6,735.0 2125.6,736.6 2126.6,735.7 2127.6,737.3 2128.6,738.1 2129.6,738.3 2130.6,738.1 2131.6,739.5 2132.6,739.8 2133.6,740.9 2134.6,740.5 2135.6,742.5 2136.6,740.8 2137.6,742.4 2138.6,743.0 2139.6,744.1 2140.6,743.2 2141.6,744.4 2142.6,743.7 2143.6,745.0 2144.6,746.0 2145.6,744.5 2146.6,745.3 2147.6,744.4 2148.6,746.0 2149.6,746.3 2150.6,745.5 2151.6,744.6 2152.6,745.9 2153.6,746.6 2154.6,746.6 2155.6,746.5 2156.6,744.4 2157.6,745.4 2158.6,747.1 2159.6,745.1 2160.6,747.0 2161.6,747.7 2162.6,746.8 2163.6,747.1 2164.6,746.0 2165.6,745.3 2166.6,746.3 2167.6,746.2 2168.6,746.4 2169.6,747.0 2170.6,746.4 2171.6,746.7 2172.6,746.9 2173.6,746.6 2174.6,748.1 2175.6,747.0 2176.6,746.8 2177.6,746.6 2178.6,746.2 2179.6,747.8 2180.6,746.9 2181.6,746.0 2182.6,746.4 2183.6,746.7 2184.6,746.5 2185.6,747.8 2186.6,746.0 2187.6,747.3 2188.6,747.1 2189.6,746.0 2190.6,747.0 2191.6,746.9 2192.6,747.4 2193.6,746.6 2194.6,747.3 2195.6,745.7 2196.5,746.2 2197.5,747.7 2198.5,747.9 2199.5,747.0 2200.5,746.6 2201.5,747.9 2202.5,745.4 2203.5,746.4 2204.5,747.6 2205.5,747.6 2206.5,746.3 2207.5,745.6 2208.5,748.3 2209.5,747.2 2210.5,746.4 2211.5,747.2 2212.5,747.8 2213.5,745.0 2214.5,748.0 2215.5,747.7 2216.5,745.5 2217.5,747.7 2218.5,745.7 2219.5,748.0 2220.5,747.5 2221.5,748.9 2222.5,746.7 2223.5,747.2 2224.5,748.0 2225.5,746.6 2226.5,746.6 2227.5,746.9 2228.5,747.1 2229.5,746.3 2230.5,747.5 2231.5,747.6 2232.5,747.2 2233.5,748.5 2234.5,746.9 2235.5,748.2 2236.5,746.7 2237.5,747.8 2238.5,745.6 2239.5,747.3 2240.5,747.0 2241.5,746.8 2242.5,746.7 2243.5,746.9 2244.5,746.6 2245.5,745.4 2246.5,746.7 2247.5,746.7 2248.5,746.8 2249.5,746.3 2250.5,747.1 2251.5,747.8 2252.5,747.0 2253.5,746.8 2254.5,748.3 2255.5,748.0 2256.5,747.9 2257.5,748.1 2258.5,746.9 2259.5,747.1 2260.5,748.1 2261.5,746.8 2262.5,747.1 2263.5,747.5 2264.5,747.5 2265.5,747.0 2266.5,748.0 2267.5,747.1 2268.5,747.8 2269.5,748.1 2270.5,747.7 2271.5,747.8 2272.5,746.3 2273.5,746.2 2274.5,746.7 2275.5,747.6 2276.5,748.4 2277.5,746.2 2278.5,747.5 2279.5,746.5 2280.5,746.6 2281.5,747.0 2282.5,747.8 2283.5,747.4 2284.5,748.2 2285.5,746.4 2286.5,747.9 2287.5,748.0 2288.5,747.3 2289.5,747.6 2290.5,746.8 2291.5,746.4 2292.5,746.9 2293.5,746.7 2294.5,749.6 2295.5,746.9 2296.5,748.6 2297.5,747.4 2298.5,747.5 2299.5,747.8 2300.5,746.6 2301.5,748.0 2302.5,747.6 2303.5,746.0 2304.5,747.7 2305.5,747.7 2306.5,747.6 2307.5,748.5 2308.5,746.9 2309.5,747.7 2310.5,747.9 2311.5,746.5 2312.5,748.2 2313.5,746.1 2314.5,746.2 2315.5,747.7 2316.5,746.4 2317.5,747.2 2318.5,746.0 2319.5,747.3 2320.5,746.4 2321.5,747.6 2322.5,746.1 2323.5,747.6 2324.5,747.1 2325.5,747.3 2326.5,747.2 2327.5,747.4 2328.5,746.2 2329.5,745.2 2330.5,747.3 2331.5,746.5 2332.5,746.9 2333.5,747.6 2334.5,745.7 2335.5,746.7 2336.5,746.8 2337.5,746.5 2338.5,747.6 2339.5,747.2 2340.5,746.6 2341.5,746.5 2342.5,748.0 2343.5,746.8 2344.5,747.8 2345.5,747.7 2346.5,745.8 2347.5,746.4 2348.5,747.3 2349.5,747.6 2350.5,747.9 2351.5,748.0 2352.5,748.1 2353.5,747.0 2354.5,747.2 2355.5,747.9 2356.5,747.0 2357.5,748.2 2358.5,746.1 2359.5,747.9 2360.5,747.2 2361.5,745.8 2362.5,748.1 2363.5,747.6 2364.5,747.4 2365.5,746.5 2366.5,747.0 2367.5,748.5 2368.5,746.7 2369.5,744.6 2370.5,746.7 2371.5,746.4 2372.5,747.2 2373.5,747.0 2374.5,746.6 2375.5,746.7 2376.5,748.1 2377.5,746.1 2378.5,748.6 2379.5,746.3 2380.5,745.4 2381.5,746.1 2382.5,745.1 2383.5,742.9 2384.5,743.7 2385.5,741.4 2386.5,742.4 2387.5,744.7 2388.5,744.4 2389.5,744.4 2390.5,746.5 2391.5,747.2 2392.5,746.4 2393.5,744.5 2394.5,745.0 2395.5,744.7 2396.5,744.0 2397.5,744.1 2398.5,742.2 2399.5,742.3 2400.5,743.5 2401.5,745.5 2402.5,745.0 2403.5,748.0 2404.5,745.9 2405.5,749.9 2406.5,749.8 2407.5,751.9 2408.5,753.0 2409.5,752.2 2410.5,753.3 2411.5,753.3 2412.5,753.0 2413.5,750.8" fill="none" stroke="#ff0000" stroke-width="12.4" stroke-linejoin="round" stroke-linecap="butt"/>
<path d="M242.0,1836.5 243.0,1838.2 244.0,1837.1 245.0,1837.1 246.0,1836.7 247.0,1836.5 248.0,1836.7 249.0,1836.2 250.0,1835.6 251.0,1835.5 252.0,1835.3 253.0,1836.5 254.0,1836.7 255.0,1837.6 256.0,1836.7 257.0,1836.5 258.0,1836.8 259.0,1836.3 260.0,1834.8 261.0,1837.1 262.0,1835.9 263.0,1836.5 264.0,1836.1 265.0,1838.7 266.0,1837.2 267.0,1836.6 268.0,1835.4 269.0,1837.0 270.0,1835.6 271.0,1837.2 272.0,1835.0 273.0,1836.2 274.0,1837.1 275.0,1835.6 276.0,1836.4 277.0,1836.4 278.0,1837.1 279.0,1835.9 280.0,1836.9 281.0,1838.0 282.0,1835.1 283.0,1835.6 284.0,1836.7 285.0,1835.8 286.0,1835.2 287.0,1837.5 288.0,1837.1 289.0,1837.2 290.0,1837.2 291.0,1836.9 292.0,1835.6 293.0,1834.3 294.0,1836.7 295.0,1835.4 296.0,1836.3 297.0,1836.6 298.0,1835.3 299.0,1836.0 300.0,1837.8 301.0,1837.0 302.0,1835.0 303.0,1836.1 304.0,1836.3 305.0,1836.8 306.0,1836.9 307.0,1836.3 308.0,1836.1 309.0,1837.0 310.0,1835.1 311.0,1837.3 312.0,1836.6 313.0,1835.9 314.0,1835.8 315.0,1836.5 316.0,1835.1 317.0,1834.3 318.0,1836.6 319.0,1837.5 320.0,1836.2 321.0,1836.3 322.0,1836.3 323.0,1835.5 324.0,1836.6 325.0,1837.0 326.0,1836.3 327.0,1837.0 328.0,1835.4 329.0,1836.5 330.0,1835.6 331.0,1835.9 332.0,1836.5 333.0,1836.4 334.0,1837.0 335.0,1836.8 336.0,1835.3 337.0,1837.3 338.0,1835.0 339.0,1836.2 340.0,1836.5 341.0,1836.2 342.0,1836.6 343.0,1836.3 344.0,1835.4 345.0,1836.9 346.0,1836.2 347.0,1835.5 348.0,1836.3 349.0,1836.2 350.0,1836.5 351.0,1835.7 352.0,1836.4 353.0,1836.1 354.0,1837.5 355.0,1835.9 356.0,1837.3 357.0,1836.1 358.0,1837.1 359.0,1838.1 360.0,1835.9 361.0,1836.3 362.0,1835.5 363.0,1835.6 364.0,1835.8 365.0,1836.3 366.0,1837.0 367.0,1836.9 368.0,1835.8 369.0,1836.3 370.0,1835.0 371.0,1836.7 372.0,1836.0 373.0,1835.3 374.0,1835.6 375.0,1836.7 376.0,1836.3 377.0,1836.7 378.0,1835.8 379.0,1836.3 380.0,1836.0 381.0,1835.0 382.0,1836.1 383.0,1836.1 384.0,1835.7 385.0,1836.9 386.0,1838.0 387.0,1837.4 388.0,1836.2 389.0,1835.3 390.0,1836.1 391.0,1835.7 392.0,1836.3 393.0,1837.2 394.0,1836.2 395.0,1835.1 396.0,1837.3 397.0,1836.3 398.0,1837.3 399.0,1835.5 400.0,1838.2 401.0,1835.2 402.0,1836.3 403.0,1836.9 404.0,1834.1 405.0,1835.6 406.0,1834.9 407.0,1837.6 408.0,1836.8 409.0,1835.4 410.0,1834.8 411.0,1834.8 412.0,1836.4 413.0,1835.6 414.0,1836.5 415.0,1835.8 416.0,1834.8 417.0,1837.7 418.0,1836.6 419.0,1835.6 420.0,1835.9 421.0,1837.3 422.0,1836.9 423.0,1835.2 424.0,1837.4 425.0,1835.7 426.0,1836.7 427.0,1835.2 428.0,1835.7 429.0,1836.9 430.0,1835.2 431.0,1836.3 432.0,1836.5 433.0,1835.7 434.0,1837.4 435.0,1836.8 436.0,1836.1 437.0,1837.0 438.0,1837.3 439.0,1837.2 440.0,1836.1 441.0,1836.9 442.0,1836.5 443.0,1835.3 444.0,1835.9 445.0,1837.9 446.0,1835.6 447.0,1836.6 448.0,1837.6 449.0,1835.9 450.0,1836.2 451.0,1835.6 452.0,1836.6 453.0,1835.2 454.0,1836.6 455.0,1835.5 456.0,1836.5 457.0,1834.8 458.0,1835.3 459.0,1837.0 459.9,1836.7 460.9,1833.7 461.9,1837.4 462.9,1835.5 463.9,1836.9 464.9,1837.0 465.9,1836.1 466.9,1835.9 467.9,1834.6 468.9,1836.6 469.9,1837.7 470.9,1835.2 471.9,1837.1 472.9,1836.8 473.9,1837.0 474.9,1835.3 475.9,1836.1 476.9,1836.4 477.9,1837.6 478.9,1835.4 479.9,1835.8 480.9,1835.6 481.9,1836.9 482.9,1834.9 483.9,1836.0 484.9,1835.1 485.9,1835.9 486.9,1836.8 487.9,1835.8 488.9,1836.8 489.9,1835.8 490.9,1836.2 491.9,1836.1 492.9,1835.5 493.9,1836.5 494.9,1836.7 495.9,1835.6 496.9,1836.8 497.9,1836.3 498.9,1835.8 499.9,1836.3 500.9,1836.9 501.9,1836.8 502.9,1837.4 503.9,1836.4 504.9,1836.4 505.9,1835.0 506.9,1835.8 507.9,1836.7 508.9,1835.3 509.9,1835.4 510.9,1837.7 511.9,1836.1 512.9,1835.3 513.9,1834.5 514.9,1835.5 515.9,1838.1 516.9,1836.2 517.9,1836.7 518.9,1836.7 519.9,1835.8 520.9,1836.5 521.9,1836.2 522.9,1835.9 523.9,1837.0 524.9,1835.5 525.9,1835.6 526.9,1835.7 527.9,1837.2 528.9,1835.8 529.9,1837.6 530.9,1835.1 531.9,1835.4 532.9,1834.1 533.9,1835.4 534.9,1836.2 535.9,1836.7 536.9,1835.4 537.9,1835.8 538.9,1837.3 539.9,1835.8 540.9,1836.3 541.9,1836.7 542.9,1835.4 543.9,1837.2 544.9,1836.0 545.9,1836.8 546.9,1835.9 547.9,1836.4 548.9,1837.1 549.9,1836.3 550.9,1834.7 551.9,1835.9 552.9,1835.9 553.9,1836.0 554.9,1836.3 555.9,1834.9 556.9,1837.6 557.9,1835.5 558.9,1837.2 559.9,1835.9 560.9,1835.9 561.9,1836.1 562.9,1835.9 563.9,1836.6 564.9,1837.1 565.9,1837.6 566.9,1837.7 567.9,1835.2 568.9,1836.7 569.9,1836.5 570.9,1836.1 571.9,1836.4 572.9,1836.2 573.9,1835.2 574.9,1835.5 575.9,1836.9 576.9,1836.1 577.9,1837.3 578.9,1835.8 579.9,1835.7 580.9,1836.2 581.9,1836.2 582.9,1836.9 583.9,1835.7 584.9,1836.8 585.9,1836.4 586.9,1835.4 587.9,1836.0 588.9,1836.0 589.9,1837.0 590.9,1837.1 591.9,1836.7 592.9,1835.7 593.9,1836.7 594.9,1836.3 595.9,1835.7 596.9,1836.7 597.9,1835.5 598.9,1835.9 599.9,1835.3 600.9,1835.0 601.9,1836.4 602.9,1834.8 603.9,1835.6 604.9,1835.8 605.9,1836.5 606.9,1835.6 607.9,1836.7 608.9,1835.4 609.9,1835.5 610.9,1835.4 611.9,1835.7 612.9,1835.5 613.9,1835.0 614.9,1835.5 615.9,1835.4 616.9,1836.9 617.9,1835.2 618.9,1836.3 619.9,1835.3 620.9,1836.8 621.9,1836.0 622.9,1835.6 623.9,1837.0 624.9,1837.3 625.9,1837.3 626.9,1836.8 627.9,1836.1 628.9,1835.5 629.9,1835.7 630.9,1835.6 631.9,1836.4 632.9,1835.7 633.9,1836.2 634.9,1836.2 635.9,1835.9 636.9,1835.5 637.9,1835.2 638.9,1838.0 639.9,1835.9 640.9,1834.7 641.9,1835.0 642.9,1835.5 643.9,1837.5 644.9,1836.1 645.9,1835.2 646.9,1837.4 647.9,1834.5 648.9,1836.9 649.9,1838.2 650.9,1836.0 651.9,1836.7 652.9,1836.5 653.9,1833.6 654.9,1836.2 655.9,1835.5 656.9,1833.7 657.9,1836.6 658.9,1835.4 659.9,1836.2 660.9,1836.2 661.9,1835.4 662.9,1834.0 663.9,1835.5 664.9,1835.2 665.9,1834.9 666.9,1835.2 667.9,1835.8 668.9,1837.0 669.9,1835.9 670.9,1836.0 671.9,1836.6 672.9,1836.1 673.9,1835.6 674.9,1835.2 675.9,1834.7 676.9,1836.5 677.9,1835.6 678.9,1836.7 679.9,1835.0 680.9,1835.2 681.9,1836.0 682.9,1836.8 683.9,1835.5 684.9,1835.1 685.9,1836.0 686.9,1834.5 687.9,1836.5 688.9,1834.5 689.9,1834.2 690.9,1835.5 691.9,1835.0 692.9,1836.5 693.9,1836.0 694.9,1835.7 695.9,1833.7 696.9,1835.3 697.9,1834.6 698.9,1833.7 699.9,1836.7 700.9,1833.7 701.9,1834.4 702.9,1834.4 703.9,1834.6 704.9,1835.2 705.9,1835.4 706.9,1834.0 707.9,1835.3 708.9,1835.4 709.9,1835.1 710.9,1836.1 711.9,1834.4 712.9,1834.5 713.9,1834.3 714.9,1833.7 715.9,1834.5 716.9,1835.4 717.9,1834.9 718.9,1834.4 719.9,1834.5 720.9,1835.4 721.9,1835.2 722.9,1832.7 723.9,1833.0 724.9,1834.9 725.9,1834.6 726.9,1834.4 727.9,1834.5 728.9,1832.8 729.9,1832.6 730.9,1833.9 731.9,1832.4 732.9,1833.4 733.9,1834.8 734.9,1831.6 735.9,1833.3 736.9,1834.0 737.9,1833.5 738.9,1831.9 739.9,1831.3 740.9,1831.9 741.9,1830.5 742.9,1831.4 743.9,1830.6 744.9,1830.3 745.9,1830.8 746.9,1829.7 747.9,1828.6 748.9,1828.4 749.9,1827.6 750.9,1826.8 751.9,1825.7 752.9,1825.8 753.9,1823.6 754.9,1823.5 755.9,1821.7 756.9,1820.3 757.9,1818.0 758.9,1814.5 759.9,1815.1 760.9,1810.0 761.9,1806.4 762.9,1803.9 763.9,1799.9 764.9,1793.6 765.9,1788.9 766.9,1783.9 767.9,1777.0 768.9,1768.6 769.9,1759.5 770.9,1749.6 771.9,1736.4 772.9,1722.9 773.9,1705.7 774.9,1684.9 775.9,1663.0 776.9,1635.2 777.9,1600.7 778.9,1565.1 779.9,1525.2 780.9,1478.6 781.9,1430.7 782.9,1385.8 783.9,1345.0 784.9,1313.2 785.9,1295.8 786.9,1293.9 787.9,1308.3 788.9,1334.9 789.9,1375.1 790.9,1421.5 791.9,1467.1 792.9,1512.1 793.9,1555.0 794.9,1594.9 795.9,1625.2 796.9,1654.7 797.9,1679.5 798.9,1700.0 799.9,1718.5 800.9,1733.3 801.9,1745.6 802.9,1757.5 803.9,1766.8 804.9,1775.0 805.9,1782.7 806.9,1789.0 807.9,1794.4 808.9,1799.1 809.9,1801.8 810.9,1806.6 811.9,1809.4 812.9,1811.7 813.9,1815.0 814.9,1817.0 815.9,1818.9 816.9,1821.2 817.9,1821.3 818.9,1823.6 819.9,1824.1 820.9,1825.5 821.9,1826.3 822.9,1828.2 823.9,1828.8 824.9,1829.3 825.9,1828.5 826.9,1830.1 827.9,1831.7 828.9,1831.8 829.9,1831.6 830.9,1831.6 831.9,1831.1 832.9,1832.3 833.9,1831.1 834.9,1832.3 835.9,1831.5 836.9,1832.1 837.9,1831.8 838.9,1833.4 839.9,1832.9 840.9,1833.6 841.9,1834.0 842.9,1833.8 843.9,1833.1 844.9,1834.0 845.9,1832.8 846.9,1833.5 847.9,1834.5 848.9,1833.9 849.9,1834.2 850.9,1834.3 851.9,1836.1 852.9,1832.9 853.9,1833.5 854.9,1835.6 855.9,1833.5 856.9,1834.6 857.9,1835.9 858.9,1833.2 859.9,1834.6 860.9,1835.4 861.9,1835.8 862.9,1834.4 863.9,1835.4 864.9,1834.7 865.9,1835.3 866.9,1834.7 867.9,1835.5 868.9,1835.7 869.9,1835.9 870.9,1834.9 871.9,1834.6 872.9,1835.5 873.9,1836.1 874.9,1835.7 875.9,1834.6 876.9,1835.4 877.9,1835.3 878.9,1834.7 879.9,1837.2 880.9,1835.3 881.9,1835.2 882.9,1835.3 883.9,1834.5 884.9,1835.2 885.9,1835.1 886.9,1834.9 887.9,1835.2 888.9,1833.0 889.9,1835.6 890.9,1835.5 891.9,1834.9 892.9,1834.9 893.8,1833.9 894.8,1835.2 895.8,1835.9 896.8,1835.8 897.8,1835.7 898.8,1835.4 899.8,1836.8 900.8,1836.9 901.8,1834.8 902.8,1837.1 903.8,1836.2 904.8,1834.7 905.8,1835.7 906.8,1836.1 907.8,1837.5 908.8,1835.7 909.8,1836.7 910.8,1835.4 911.8,1835.7 912.8,1837.0 913.8,1835.5 914.8,1836.2 915.8,1836.6 916.8,1836.5 917.8,1836.4 918.8,1836.5 919.8,1837.8 920.8,1835.7 921.8,1836.7 922.8,1835.4 923.8,1836.1 924.8,1835.6 925.8,1834.5 926.8,1834.5 927.8,1836.6 928.8,1833.8 929.8,1835.6 930.8,1835.6 931.8,1836.7 932.8,1836.2 933.8,1836.5 934.8,1835.2 935.8,1835.1 936.8,1835.1 937.8,1836.0 938.8,1836.5 939.8,1836.9 940.8,1835.4 941.8,1837.3 942.8,1836.3 943.8,1835.9 944.8,1834.8 945.8,1836.6 946.8,1836.6 947.8,1835.9 948.8,1835.0 949.8,1834.9 950.8,1837.9 951.8,1835.6 952.8,1837.7 953.8,1836.7 954.8,1836.8 955.8,1837.4 956.8,1836.1 957.8,1836.2 958.8,1834.5 959.8,1835.5 960.8,1835.5 961.8,1836.6 962.8,1835.3 963.8,1837.5 964.8,1835.8 965.8,1836.8 966.8,1836.2 967.8,1836.5 968.8,1835.9 969.8,1837.2 970.8,1836.3 971.8,1835.4 972.8,1834.1 973.8,1837.3 974.8,1835.9 975.8,1835.9 976.8,1835.3 977.8,1836.9 978.8,1835.2 979.8,1837.0 980.8,1837.0 981.8,1836.9 982.8,1836.4 983.8,1835.3 984.8,1837.8 985.8,1836.4 986.8,1837.0 987.8,1835.7 988.8,1836.0 989.8,1835.6 990.8,1836.4 991.8,1836.0 992.8,1834.8 993.8,1834.8 994.8,1835.4 995.8,1834.9 996.8,1836.3 997.8,1836.9 998.8,1836.7 999.8,1835.5 1000.8,1837.8 1001.8,1835.5 1002.8,1836.3 1003.8,1835.3 1004.8,1834.5 1005.8,1837.0 1006.8,1835.0 1007.8,1835.5 1008.8,1835.0 1009.8,1835.5 1010.8,1836.0 1011.8,1836.0 1012.8,1836.8 1013.8,1835.8 1014.8,1837.1 1015.8,1836.6 1016.8,1835.8 1017.8,1835.8 1018.8,1836.7 1019.8,1836.0 1020.8,1836.3 1021.8,1835.1 1022.8,1835.2 1023.8,1836.9 1024.8,1835.9 1025.8,1836.9 1026.8,1837.4 1027.8,1836.3 1028.8,1835.8 1029.8,1837.4 1030.8,1836.7 1031.8,1835.6 1032.8,1837.0 1033.8,1834.8 1034.8,1835.6 1035.8,1836.7 1036.8,1836.7 1037.8,1837.5 1038.8,1836.6 1039.8,1837.7 1040.8,1837.0 1041.8,1835.6 1042.8,1835.7 1043.8,1836.1 1044.8,1837.9 1045.8,1837.1 1046.8,1837.0 1047.8,1836.9 1048.8,1835.3 1049.8,1836.7 1050.8,1836.4 1051.8,1836.0 1052.8,1837.6 1053.8,1837.6 1054.8,1837.8 1055.8,1837.1 1056.8,1835.6 1057.8,1837.1 1058.8,1835.5 1059.8,1836.7 1060.8,1837.0 1061.8,1837.2 1062.8,1836.4 1063.8,1837.1 1064.8,1836.3 1065.8,1835.9 1066.8,1835.7 1067.8,1836.0 1068.8,1835.7 1069.8,1837.0 1070.8,1835.9 1071.8,1836.2 1072.8,1837.2 1073.8,1837.0 1074.8,1836.6 1075.8,1836.3 1076.8,1835.5 1077.8,1835.8 1078.8,1836.5 1079.8,1837.1 1080.8,1834.8 1081.8,1836.3 1082.8,1836.3 1083.8,1834.9 1084.8,1837.0 1085.8,1836.0 1086.8,1835.9 1087.8,1837.6 1088.8,1837.3 1089.8,1837.3 1090.8,1836.9 1091.8,1835.9 1092.8,1836.0 1093.8,1834.8 1094.8,1836.9 1095.8,1836.6 1096.8,1836.3 1097.8,1836.9 1098.8,1836.4 1099.8,1838.1 1100.8,1836.9 1101.8,1837.0 1102.8,1836.7 1103.8,1836.9 1104.8,1835.6 1105.8,1836.4 1106.8,1836.6 1107.8,1836.4 1108.8,1837.0 1109.8,1836.8 1110.8,1835.6 1111.8,1835.7 1112.8,1836.1 1113.8,1834.8 1114.8,1837.3 1115.8,1837.3 1116.8,1837.2 1117.8,1836.0 1118.8,1837.1 1119.8,1836.2 1120.8,1835.6 1121.8,1835.4 1122.8,1836.4 1123.8,1836.0 1124.8,1836.4 1125.8,1835.7 1126.8,1836.8 1127.8,1835.8 1128.8,1836.7 1129.8,1835.1 1130.8,1836.8 1131.8,1836.6 1132.8,1836.5 1133.8,1835.3 1134.8,1836.1 1135.8,1836.4 1136.8,1836.1 1137.8,1837.4 1138.8,1836.4 1139.8,1836.5 1140.8,1837.3 1141.8,1836.3 1142.8,1836.7 1143.8,1835.7 1144.8,1836.1 1145.8,1834.7 1146.8,1836.5 1147.8,1834.9 1148.8,1836.8 1149.8,1836.2 1150.8,1836.8 1151.8,1835.8 1152.8,1836.7 1153.8,1836.3 1154.8,1835.9 1155.8,1836.3 1156.8,1835.8 1157.8,1835.9 1158.8,1836.7 1159.8,1836.6 1160.8,1836.7 1161.8,1836.7 1162.8,1836.3 1163.8,1837.1 1164.8,1835.9 1165.8,1836.7 1166.8,1836.0 1167.8,1835.3 1168.8,1835.7 1169.8,1836.0 1170.8,1837.4 1171.8,1837.0 1172.8,1835.9 1173.8,1837.4 1174.8,1836.6 1175.8,1836.5 1176.8,1835.5 1177.8,1836.8 1178.8,1835.7 1179.8,1835.5 1180.8,1836.6 1181.8,1836.6 1182.8,1836.5 1183.8,1835.3 1184.8,1835.1 1185.8,1837.1 1186.8,1837.9 1187.8,1836.0 1188.8,1837.1 1189.8,1836.5 1190.8,1836.4 1191.8,1834.9 1192.8,1835.6 1193.8,1836.1 1194.8,1836.0 1195.8,1836.1 1196.8,1836.0 1197.8,1835.1 1198.8,1836.6 1199.8,1835.8 1200.8,1836.8 1201.8,1836.1 1202.8,1837.0 1203.8,1837.6 1204.8,1836.5 1205.8,1836.0 1206.8,1836.7 1207.8,1836.3 1208.8,1836.6 1209.8,1835.3 1210.8,1836.6 1211.8,1835.7 1212.8,1835.8 1213.8,1836.8 1214.8,1836.3 1215.8,1836.7 1216.8,1837.3 1217.8,1835.8 1218.8,1836.7 1219.8,1836.2 1220.8,1835.4 1221.8,1835.2 1222.8,1835.9 1223.8,1835.5 1224.8,1836.8 1225.8,1836.8 1226.8,1836.3 1227.8,1835.3 1228.8,1836.6 1229.8,1836.4 1230.8,1836.0 1231.8,1836.8 1232.8,1836.8 1233.8,1836.1 1234.8,1835.9 1235.8,1837.2 1236.8,1836.6 1237.8,1837.1 1238.8,1837.4 1239.8,1837.6 1240.8,1836.0 1241.8,1835.6 1242.8,1836.0 1243.8,1837.2 1244.8,1836.5 1245.8,1835.7 1246.8,1836.3 1247.8,1834.8 1248.8,1837.4 1249.8,1835.9 1250.8,1836.8 1251.8,1834.6 1252.8,1837.1 1253.8,1837.2 1254.8,1836.6 1255.8,1837.4 1256.8,1836.3 1257.8,1836.1 1258.8,1837.0 1259.8,1836.2 1260.8,1836.0 1261.8,1837.5 1262.8,1836.0 1263.8,1836.8 1264.8,1836.1 1265.8,1837.1 1266.8,1836.5 1267.8,1835.4 1268.8,1836.6 1269.8,1836.2 1270.8,1836.2 1271.8,1836.8 1272.8,1836.2 1273.8,1836.5 1274.8,1836.8 1275.8,1836.0 1276.8,1836.7 1277.8,1836.2 1278.8,1835.7 1279.8,1836.9 1280.8,1836.9 1281.8,1836.8 1282.8,1835.5 1283.8,1837.4 1284.8,1836.8 1285.8,1835.4 1286.8,1836.4 1287.8,1836.4 1288.8,1835.9 1289.8,1835.9 1290.8,1835.1 1291.8,1837.1 1292.8,1836.0 1293.8,1836.6 1294.8,1837.6 1295.8,1838.5 1296.8,1836.3 1297.8,1835.8 1298.8,1836.0 1299.8,1836.8 1300.8,1836.2 1301.8,1835.4 1302.8,1835.2 1303.8,1835.2 1304.8,1835.9 1305.8,1835.3 1306.8,1836.9 1307.8,1836.7 1308.8,1837.6 1309.8,1836.7 1310.8,1836.8 1311.8,1836.9 1312.8,1836.9 1313.8,1837.6 1314.8,1836.4 1315.8,1837.7 1316.8,1835.6 1317.8,1837.3 1318.8,1836.6 1319.8,1837.1 1320.8,1837.2 1321.8,1838.4 1322.8,1836.6 1323.8,1835.9 1324.8,1836.5 1325.8,1835.8 1326.8,1836.7 1327.8,1835.6 1328.7,1836.5 1329.7,1837.1 1330.7,1836.3 1331.7,1837.3 1332.7,1836.8 1333.7,1835.7 1334.7,1836.5 1335.7,1837.9 1336.7,1836.0 1337.7,1836.0 1338.7,1836.6 1339.7,1837.5 1340.7,1835.4 1341.7,1837.1 1342.7,1836.0 1343.7,1836.5 1344.7,1837.4 1345.7,1835.1 1346.7,1836.2 1347.7,1837.7 1348.7,1838.0 1349.7,1835.8 1350.7,1836.2 1351.7,1836.2 1352.7,1836.2 1353.7,1836.9 1354.7,1835.5 1355.7,1836.5 1356.7,1836.6 1357.7,1835.0 1358.7,1836.1 1359.7,1836.5 1360.7,1838.4 1361.7,1835.7 1362.7,1835.8 1363.7,1837.1 1364.7,1836.3 1365.7,1836.2 1366.7,1835.7 1367.7,1835.8 1368.7,1837.2 1369.7,1836.7 1370.7,1836.3 1371.7,1836.2 1372.7,1836.6 1373.7,1836.2 1374.7,1836.6 1375.7,1836.8 1376.7,1835.3 1377.7,1837.7 1378.7,1836.1 1379.7,1835.8 1380.7,1837.3 1381.7,1836.9 1382.7,1837.1 1383.7,1838.1 1384.7,1837.7 1385.7,1836.1 1386.7,1835.9 1387.7,1835.6 1388.7,1836.2 1389.7,1837.3 1390.7,1835.6 1391.7,1836.1 1392.7,1835.3 1393.7,1837.0 1394.7,1837.3 1395.7,1836.9 1396.7,1835.8 1397.7,1837.1 1398.7,1836.4 1399.7,1837.4 1400.7,1836.5 1401.7,1836.0 1402.7,1836.5 1403.7,1836.8 1404.7,1836.0 1405.7,1836.0 1406.7,1836.6 1407.7,1835.4 1408.7,1836.3 1409.7,1836.4 1410.7,1836.3 1411.7,1836.7 1412.7,1836.8 1413.7,1835.9 1414.7,1837.8 1415.7,1837.2 1416.7,1835.4 1417.7,1836.2 1418.7,1836.3 1419.7,1836.2 1420.7,1837.3 1421.7,1836.3 1422.7,1835.6 1423.7,1835.7 1424.7,1836.6 1425.7,1835.6 1426.7,1836.3 1427.7,1835.2 1428.7,1837.8 1429.7,1835.5 1430.7,1835.7 1431.7,1837.2 1432.7,1835.4 1433.7,1836.3 1434.7,1837.7 1435.7,1835.7 1436.7,1835.8 1437.7,1836.0 1438.7,1835.0 1439.7,1836.2 1440.7,1837.1 1441.7,1836.1 1442.7,1836.3 1443.7,1836.5 1444.7,1835.9 1445.7,1835.9 1446.7,1837.7 1447.7,1836.9 1448.7,1836.0 1449.7,1837.3 1450.7,1837.3 1451.7,1835.8 1452.7,1835.9 1453.7,1837.4 1454.7,1838.3 1455.7,1837.7 1456.7,1837.3 1457.7,1836.5 1458.7,1837.0 1459.7,1836.0 1460.7,1836.6 1461.7,1836.5 1462.7,1835.9 1463.7,1836.3 1464.7,1837.1 1465.7,1836.5 1466.7,1836.2 1467.7,1836.4 1468.7,1835.8 1469.7,1835.2 1470.7,1834.7 1471.7,1836.5 1472.7,1836.6 1473.7,1836.0 1474.7,1837.6 1475.7,1836.5 1476.7,1837.1 1477.7,1838.0 1478.7,1836.2 1479.7,1837.0 1480.7,1836.3 1481.7,1836.2 1482.7,1835.8 1483.7,1836.0 1484.7,1835.0 1485.7,1835.9 1486.7,1835.6 1487.7,1835.7 1488.7,1835.4 1489.7,1837.1 1490.7,1837.5 1491.7,1837.5 1492.7,1837.5 1493.7,1836.2 1494.7,1836.7 1495.7,1837.5 1496.7,1836.6 1497.7,1837.2 1498.7,1836.8 1499.7,1837.6 1500.7,1836.8 1501.7,1836.5 1502.7,1836.3 1503.7,1835.6 1504.7,1835.7 1505.7,1834.5 1506.7,1835.7 1507.7,1835.8 1508.7,1838.0 1509.7,1835.9 1510.7,1836.3 1511.7,1836.4 1512.7,1836.8 1513.7,1836.5 1514.7,1835.9 1515.7,1835.3 1516.7,1835.7 1517.7,1836.4 1518.7,1837.6 1519.7,1836.1 1520.7,1835.7 1521.7,1836.6 1522.7,1835.6 1523.7,1836.6 1524.7,1836.7 1525.7,1837.2 1526.7,1837.5 1527.7,1836.0 1528.7,1836.4 1529.7,1836.6 1530.7,1836.4 1531.7,1835.7 1532.7,1835.9 1533.7,1837.3 1534.7,1835.7 1535.7,1836.8 1536.7,1836.0 1537.7,1835.1 1538.7,1836.2 1539.7,1835.5 1540.7,1837.4 1541.7,1835.8 1542.7,1836.8 1543.7,1836.3 1544.7,1837.6 1545.7,1836.7 1546.7,1836.4 1547.7,1836.5 1548.7,1836.7 1549.7,1836.9 1550.7,1837.3 1551.7,1835.3 1552.7,1836.0 1553.7,1837.5 1554.7,1837.6 1555.7,1836.9 1556.7,1837.8 1557.7,1835.7 1558.7,1837.0 1559.7,1837.4 1560.7,1834.9 1561.7,1836.2 1562.7,1836.4 1563.7,1836.0 1564.7,1837.6 1565.7,1837.1 1566.7,1834.9 1567.7,1836.1 1568.7,1836.3 1569.7,1836.3 1570.7,1837.3 1571.7,1836.9 1572.7,1837.0 1573.7,1836.0 1574.7,1837.6 1575.7,1835.4 1576.7,1836.7 1577.7,1836.1 1578.7,1837.7 1579.7,1836.1 1580.7,1836.3 1581.7,1836.8 1582.7,1836.3 1583.7,1836.4 1584.7,1836.8 1585.7,1836.9 1586.7,1834.9 1587.7,1835.1 1588.7,1836.8 1589.7,1836.9 1590.7,1834.9 1591.7,1837.5 1592.7,1836.1 1593.7,1836.3 1594.7,1836.3 1595.7,1836.9 1596.7,1838.9 1597.7,1834.6 1598.7,1836.1 1599.7,1836.7 1600.7,1837.9 1601.7,1836.8 1602.7,1835.2 1603.7,1835.5 1604.7,1838.9 1605.7,1835.1 1606.7,1838.7 1607.7,1836.8 1608.7,1836.3 1609.7,1837.2 1610.7,1836.8 1611.7,1836.4 1612.7,1837.3 1613.7,1837.0 1614.7,1837.7 1615.7,1837.3 1616.7,1837.1 1617.7,1836.1 1618.7,1837.1 1619.7,1836.3 1620.7,1836.4 1621.7,1836.5 1622.7,1835.6 1623.7,1836.4 1624.7,1835.0 1625.7,1836.6 1626.7,1836.4 1627.7,1836.4 1628.7,1837.2 1629.7,1835.8 1630.7,1836.3 1631.7,1835.6 1632.7,1836.8 1633.7,1836.5 1634.7,1836.1 1635.7,1836.0 1636.7,1836.9 1637.7,1835.8 1638.7,1836.8 1639.7,1836.6 1640.7,1838.3 1641.7,1836.7 1642.7,1836.5 1643.7,1836.4 1644.7,1835.9 1645.7,1837.4 1646.7,1835.9 1647.7,1837.4 1648.7,1834.7 1649.7,1836.5 1650.7,1834.4 1651.7,1836.7 1652.7,1836.9 1653.7,1836.5 1654.7,1836.5 1655.7,1836.8 1656.7,1835.3 1657.7,1836.3 1658.7,1836.9 1659.7,1837.2 1660.7,1837.0 1661.7,1836.5 1662.7,1836.5 1663.7,1835.3 1664.7,1836.0 1665.7,1836.5 1666.7,1836.9 1667.7,1837.7 1668.7,1835.8 1669.7,1835.5 1670.7,1838.2 1671.7,1835.0 1672.7,1836.9 1673.7,1836.2 1674.7,1835.6 1675.7,1836.2 1676.7,1836.7 1677.7,1835.6 1678.7,1837.4 1679.7,1836.1 1680.7,1837.1 1681.7,1836.3 1682.7,1836.8 1683.7,1837.3 1684.7,1835.6 1685.7,1835.3 1686.7,1835.4 1687.7,1835.8 1688.7,1836.0 1689.7,1836.8 1690.7,1836.0 1691.7,1836.4 1692.7,1834.3 1693.7,1836.9 1694.7,1836.9 1695.7,1835.6 1696.7,1837.4 1697.7,1835.7 1698.7,1836.4 1699.7,1837.2 1700.7,1836.0 1701.7,1836.5 1702.7,1836.7 1703.7,1839.0 1704.7,1836.0 1705.7,1837.5 1706.7,1836.3 1707.7,1834.6 1708.7,1836.0 1709.7,1835.8 1710.7,1836.3 1711.7,1836.1 1712.7,1836.0 1713.7,1836.0 1714.7,1836.4 1715.7,1836.6 1716.7,1837.2 1717.7,1836.0 1718.7,1835.1 1719.7,1837.3 1720.7,1836.9 1721.7,1836.7 1722.7,1836.2 1723.7,1836.6 1724.7,1837.6 1725.7,1836.0 1726.7,1838.1 1727.7,1837.6 1728.7,1836.7 1729.7,1835.9 1730.7,1836.2 1731.7,1836.4 1732.7,1835.8 1733.7,1837.3 1734.7,1836.9 1735.7,1837.4 1736.7,1836.9 1737.7,1836.7 1738.7,1837.4 1739.7,1837.7 1740.7,1836.2 1741.7,1835.2 1742.7,1836.0 1743.7,1835.6 1744.7,1837.0 1745.7,1838.5 1746.7,1835.7 1747.7,1837.6 1748.7,1836.5 1749.7,1836.5 1750.7,1834.9 1751.7,1836.1 1752.7,1836.4 1753.7,1835.9 1754.7,1836.8 1755.7,1836.1 1756.7,1836.5 1757.7,1837.9 1758.7,1837.8 1759.7,1835.1 1760.7,1836.7 1761.7,1835.9 1762.6,1836.0 1763.6,1835.1 1764.6,1835.4 1765.6,1837.2 1766.6,1837.5 1767.6,1838.7 1768.6,1836.0 1769.6,1836.2 1770.6,1836.4 1771.6,1836.2 1772.6,1835.6 1773.6,1837.1 1774.6,1836.4 1775.6,1836.7 1776.6,1836.7 1777.6,1835.4 1778.6,1836.0 1779.6,1834.9 1780.6,1836.6 1781.6,1836.9 1782.6,1836.5 1783.6,1835.6 1784.6,1836.3 1785.6,1836.9 1786.6,1836.8 1787.6,1835.7 1788.6,1836.2 1789.6,1836.4 1790.6,1836.8 1791.6,1836.0 1792.6,1834.9 1793.6,1837.4 1794.6,1837.8 1795.6,1835.0 1796.6,1837.6 1797.6,1838.4 1798.6,1835.8 1799.6,1837.8 1800.6,1836.7 1801.6,1836.7 1802.6,1836.5 1803.6,1835.9 1804.6,1836.2 1805.6,1837.4 1806.6,1836.3 1807.6,1836.3 1808.6,1837.4 1809.6,1836.3 1810.6,1836.5 1811.6,1837.3 1812.6,1835.7 1813.6,1836.2 1814.6,1835.0 1815.6,1836.5 1816.6,1836.4 1817.6,1836.1 1818.6,1835.4 1819.6,1835.9 1820.6,1835.6 1821.6,1836.7 1822.6,1836.3 1823.6,1835.5 1824.6,1837.5 1825.6,1835.1 1826.6,1837.7 1827.6,1837.4 1828.6,1836.0 1829.6,1836.4 1830.6,1836.2 1831.6,1836.3 1832.6,1837.5 1833.6,1837.6 1834.6,1836.5 1835.6,1836.1 1836.6,1836.4 1837.6,1836.1 1838.6,1835.7 1839.6,1837.0 1840.6,1836.7 1841.6,1836.9 1842.6,1837.4 1843.6,1835.7 1844.6,1836.4 1845.6,1836.7 1846.6,1836.3 1847.6,1836.9 1848.6,1835.7 1849.6,1836.8 1850.6,1837.1 1851.6,1836.7 1852.6,1839.0 1853.6,1835.9 1854.6,1836.2 1855.6,1836.1 1856.6,1838.2 1857.6,1836.4 1858.6,1838.0 1859.6,1836.4 1860.6,1836.6 1861.6,1838.2 1862.6,1836.5 1863.6,1838.0 1864.6,1835.9 1865.6,1836.4 1866.6,1836.5 1867.6,1835.9 1868.6,1836.4 1869.6,1834.9 1870.6,1836.9 1871.6,1837.0 1872.6,1837.6 1873.6,1836.7 1874.6,1836.7 1875.6,1837.1 1876.6,1837.0 1877.6,1837.5 1878.6,1837.4 1879.6,1835.7 1880.6,1836.9 1881.6,1836.7 1882.6,1837.5 1883.6,1836.9 1884.6,1836.6 1885.6,1836.9 1886.6,1837.1 1887.6,1836.8 1888.6,1835.9 1889.6,1836.7 1890.6,1837.4 1891.6,1837.3 1892.6,1836.5 1893.6,1835.7 1894.6,1835.8 1895.6,1837.1 1896.6,1835.9 1897.6,1836.1 1898.6,1836.4 1899.6,1834.9 1900.6,1836.1 1901.6,1836.3 1902.6,1836.3 1903.6,1835.4 1904.6,1837.2 1905.6,1838.2 1906.6,1836.8 1907.6,1836.7 1908.6,1835.4 1909.6,1836.6 1910.6,1835.6 1911.6,1836.0 1912.6,1835.8 1913.6,1836.4 1914.6,1836.0 1915.6,1836.3 1916.6,1837.1 1917.6,1835.0 1918.6,1835.9 1919.6,1835.5 1920.6,1836.6 1921.6,1836.9 1922.6,1836.2 1923.6,1836.4 1924.6,1837.7 1925.6,1836.8 1926.6,1835.6 1927.6,1836.5 1928.6,1838.0 1929.6,1836.3 1930.6,1836.5 1931.6,1837.5 1932.6,1837.6 1933.6,1836.4 1934.6,1836.9 1935.6,1836.2 1936.6,1837.9 1937.6,1837.1 1938.6,1837.1 1939.6,1836.9 1940.6,1835.8 1941.6,1836.1 1942.6,1836.7 1943.6,1836.8 1944.6,1837.1 1945.6,1836.5 1946.6,1837.1 1947.6,1837.0 1948.6,1836.9 1949.6,1835.0 1950.6,1835.3 1951.6,1835.9 1952.6,1837.2 1953.6,1836.8 1954.6,1837.3 1955.6,1836.6 1956.6,1837.3 1957.6,1837.5 1958.6,1838.0 1959.6,1836.7 1960.6,1836.1 1961.6,1837.4 1962.6,1836.7 1963.6,1835.5 1964.6,1837.9 1965.6,1837.0 1966.6,1838.1 1967.6,1837.3 1968.6,1835.9 1969.6,1837.6 1970.6,1835.5 1971.6,1837.5 1972.6,1837.9 1973.6,1837.3 1974.6,1836.3 1975.6,1836.6 1976.6,1836.2 1977.6,1838.5 1978.6,1835.2 1979.6,1838.2 1980.6,1836.3 1981.6,1835.9 1982.6,1834.7 1983.6,1834.5 1984.6,1835.0 1985.6,1833.4 1986.6,1833.2 1987.6,1832.9 1988.6,1831.9 1989.6,1831.9 1990.6,1831.8 1991.6,1831.9 1992.6,1834.3 1993.6,1834.9 1994.6,1834.1 1995.6,1836.1 1996.6,1837.5 1997.6,1839.5 1998.6,1839.4 1999.6,1839.5 2000.6,1840.2 2001.6,1839.7 2002.6,1840.2 2003.6,1837.5 2004.6,1838.6 2005.6,1838.2 2006.6,1837.2 2007.6,1836.5 2008.6,1837.0 2009.6,1837.6 2010.6,1836.3 2011.6,1835.8 2012.6,1836.1 2013.6,1836.9 2014.6,1837.3 2015.6,1835.8 2016.6,1837.9 2017.6,1836.5 2018.6,1835.8 2019.6,1836.1 2020.6,1837.0 2021.6,1837.6 2022.6,1836.1 2023.6,1836.1 2024.6,1836.2 2025.6,1838.2 2026.6,1836.2 2027.6,1836.9 2028.6,1837.0 2029.6,1836.7 2030.6,1836.3 2031.6,1835.8 2032.6,1836.6 2033.6,1836.4 2034.6,1835.6 2035.6,1836.0 2036.6,1836.8 2037.6,1836.5 2038.6,1836.6 2039.6,1837.5 2040.6,1837.1 2041.6,1836.1 2042.6,1836.6 2043.6,1835.6 2044.6,1836.1 2045.6,1836.6 2046.6,1837.3 2047.6,1836.1 2048.6,1836.9 2049.6,1836.3 2050.6,1837.5 2051.6,1837.8 2052.6,1837.5 2053.6,1836.2 2054.6,1836.9 2055.6,1836.4 2056.6,1836.1 2057.6,1836.4 2058.6,1836.4 2059.6,1836.9 2060.6,1836.2 2061.6,1837.0 2062.6,1837.4 2063.6,1836.1 2064.6,1835.8 2065.6,1836.0 2066.6,1837.3 2067.6,1836.8 2068.6,1835.6 2069.6,1837.1 2070.6,1838.0 2071.6,1837.2 2072.6,1837.3 2073.6,1836.7 2074.6,1837.2 2075.6,1837.5 2076.6,1836.7 2077.6,1838.4 2078.6,1837.8 2079.6,1836.6 2080.6,1834.8 2081.6,1834.9 2082.6,1836.6 2083.6,1837.1 2084.6,1837.1 2085.6,1836.3 2086.6,1835.4 2087.6,1836.7 2088.6,1836.9 2089.6,1836.3 2090.6,1836.1 2091.6,1837.6 2092.6,1836.3 2093.6,1836.0 2094.6,1837.1 2095.6,1836.2 2096.6,1836.6 2097.6,1837.8 2098.6,1835.3 2099.6,1836.5 2100.6,1835.1 2101.6,1835.4 2102.6,1836.8 2103.6,1834.1 2104.6,1835.8 2105.6,1834.1 2106.6,1835.4 2107.6,1833.8 2108.6,1835.0 2109.6,1833.8 2110.6,1834.9 2111.6,1834.9 2112.6,1834.7 2113.6,1834.2 2114.6,1833.6 2115.6,1833.8 2116.6,1833.6 2117.6,1833.7 2118.6,1834.1 2119.6,1833.2 2120.6,1832.0 2121.6,1832.3 2122.6,1832.6 2123.6,1830.8 2124.6,1832.5 2125.6,1832.6 2126.6,1831.3 2127.6,1831.9 2128.6,1831.1 2129.6,1832.5 2130.6,1830.9 2131.6,1831.4 2132.6,1832.3 2133.6,1831.1 2134.6,1829.9 2135.6,1830.8 2136.6,1832.6 2137.6,1832.0 2138.6,1831.4 2139.6,1832.2 2140.6,1832.2 2141.6,1831.7 2142.6,1830.1 2143.6,1832.0 2144.6,1830.7 2145.6,1831.6 2146.6,1832.9 2147.6,1832.1 2148.6,1833.1 2149.6,1833.2 2150.6,1833.3 2151.6,1834.0 2152.6,1834.4 2153.6,1833.9 2154.6,1834.7 2155.6,1834.9 2156.6,1834.7 2157.6,1835.4 2158.6,1835.3 2159.6,1835.2 2160.6,1833.8 2161.6,1835.6 2162.6,1836.0 2163.6,1835.4 2164.6,1835.9 2165.6,1836.8 2166.6,1835.1 2167.6,1835.3 2168.6,1836.2 2169.6,1836.0 2170.6,1836.1 2171.6,1836.9 2172.6,1836.7 2173.6,1836.5 2174.6,1837.0 2175.6,1836.4 2176.6,1834.9 2177.6,1836.4 2178.6,1835.9 2179.6,1838.3 2180.6,1836.4 2181.6,1836.2 2182.6,1837.5 2183.6,1837.2 2184.6,1836.9 2185.6,1835.0 2186.6,1836.3 2187.6,1836.8 2188.6,1836.8 2189.6,1835.9 2190.6,1836.8 2191.6,1837.8 2192.6,1836.8 2193.6,1837.9 2194.6,1837.2 2195.6,1836.5 2196.5,1836.1 2197.5,1836.8 2198.5,1835.6 2199.5,1835.8 2200.5,1836.7 2201.5,1835.9 2202.5,1836.9 2203.5,1836.1 2204.5,1837.1 2205.5,1836.4 2206.5,1836.3 2207.5,1836.6 2208.5,1835.9 2209.5,1836.7 2210.5,1836.4 2211.5,1836.7 2212.5,1836.1 2213.5,1835.3 2214.5,1836.8 2215.5,1836.0 2216.5,1837.1 2217.5,1836.2 2218.5,1837.3 2219.5,1836.3 2220.5,1837.4 2221.5,1836.6 2222.5,1836.7 2223.5,1836.9 2224.5,1835.8 2225.5,1836.8 2226.5,1837.5 2227.5,1834.3 2228.5,1836.6 2229.5,1836.7 2230.5,1836.8 2231.5,1835.5 2232.5,1838.0 2233.5,1837.1 2234.5,1836.7 2235.5,1837.1 2236.5,1838.0 2237.5,1836.2 2238.5,1837.3 2239.5,1834.8 2240.5,1836.0 2241.5,1835.7 2242.5,1835.6 2243.5,1836.3 2244.5,1837.0 2245.5,1837.4 2246.5,1836.0 2247.5,1835.9 2248.5,1836.1 2249.5,1835.7 2250.5,1837.2 2251.5,1836.3 2252.5,1836.2 2253.5,1837.2 2254.5,1836.8 2255.5,1837.1 2256.5,1836.5 2257.5,1836.4 2258.5,1836.7 2259.5,1835.7 2260.5,1837.9 2261.5,1836.8 2262.5,1835.9 2263.5,1837.4 2264.5,1836.5 2265.5,1837.2 2266.5,1836.2 2267.5,1835.7 2268.5,1838.8 2269.5,1836.5 2270.5,1835.7 2271.5,1836.8 2272.5,1835.7 2273.5,1837.5 2274.5,1835.7 2275.5,1836.7 2276.5,1837.6 2277.5,1837.5 2278.5,1836.4 2279.5,1835.4 2280.5,1837.6 2281.5,1836.3 2282.5,1836.5 2283.5,1836.1 2284.5,1836.4 2285.5,1836.5 2286.5,1837.1 2287.5,1835.6 2288.5,1836.1 2289.5,1836.9 2290.5,1836.9 2291.5,1835.6 2292.5,1836.0 2293.5,1836.8 2294.5,1836.7 2295.5,1837.4 2296.5,1837.3 2297.5,1837.2 2298.5,1836.8 2299.5,1836.4 2300.5,1836.9 2301.5,1835.8 2302.5,1834.7 2303.5,1836.0 2304.5,1835.8 2305.5,1837.4 2306.5,1836.5 2307.5,1837.0 2308.5,1836.5 2309.5,1837.0 2310.5,1837.7 2311.5,1837.3 2312.5,1838.3 2313.5,1836.2 2314.5,1836.9 2315.5,1837.9 2316.5,1836.2 2317.5,1835.8 2318.5,1835.9 2319.5,1836.2 2320.5,1836.2 2321.5,1835.6 2322.5,1837.5 2323.5,1837.2 2324.5,1835.8 2325.5,1835.8 2326.5,1835.9 2327.5,1836.7 2328.5,1837.2 2329.5,1837.6 2330.5,1837.8 2331.5,1835.8 2332.5,1835.5 2333.5,1837.4 2334.5,1835.8 2335.5,1836.4 2336.5,1836.9 2337.5,1836.3 2338.5,1836.5 2339.5,1837.7 2340.5,1835.5 2341.5,1837.0 2342.5,1837.2 2343.5,1835.2 2344.5,1836.3 2345.5,1834.8 2346.5,1837.0 2347.5,1837.0 2348.5,1837.5 2349.5,1837.0 2350.5,1836.9 2351.5,1837.0 2352.5,1837.1 2353.5,1835.6 2354.5,1837.4 2355.5,1838.3 2356.5,1836.9 2357.5,1837.1 2358.5,1837.7 2359.5,1836.7 2360.5,1836.8 2361.5,1835.7 2362.5,1836.8 2363.5,1837.0 2364.5,1836.5 2365.5,1837.2 2366.5,1836.0 2367.5,1836.9 2368.5,1836.5 2369.5,1834.9 2370.5,1836.7 2371.5,1836.2 2372.5,1837.2 2373.5,1836.8 2374.5,1837.2 2375.5,1836.5 2376.5,1837.0 2377.5,1835.8 2378.5,1834.6 2379.5,1836.2 2380.5,1836.2 2381.5,1833.8 2382.5,1834.0 2383.5,1831.5 2384.5,1831.4 2385.5,1832.2 2386.5,1832.1 2387.5,1832.2 2388.5,1835.0 2389.5,1834.9 2390.5,1834.6 2391.5,1835.9 2392.5,1835.4 2393.5,1834.8 2394.5,1835.3 2395.5,1833.9 2396.5,1833.7 2397.5,1833.8 2398.5,1831.8 2399.5,1831.9 2400.5,1832.2 2401.5,1834.4 2402.5,1834.2 2403.5,1837.4 2404.5,1835.2 2405.5,1838.9 2406.5,1841.3 2407.5,1841.0 2408.5,1842.0 2409.5,1842.5 2410.5,1843.4 2411.5,1841.2 2412.5,1841.7 2413.5,1840.8" fill="none" stroke="#000000" stroke-width="12.4" stroke-linejoin="round" stroke-linecap="butt"/>
</g>
<text transform="translate(392.3,2055.5) scale(0.97,1.035)" font-size="95" text-anchor="middle">35</text>
<text transform="translate(766.7,2055.5) scale(0.97,1.035)" font-size="95" text-anchor="middle">40</text>
<text transform="translate(1141.1,2055.5) scale(0.97,1.035)" font-size="95" text-anchor="middle">45</text>
<text transform="translate(1515.5,2055.5) scale(0.97,1.035)" font-size="95" text-anchor="middle">50</text>
<text transform="translate(1889.9,2055.5) scale(0.97,1.035)" font-size="95" text-anchor="middle">55</text>
<text transform="translate(2264.3,2055.5) scale(0.97,1.035)" font-size="95" text-anchor="middle">60</text>
<text transform="translate(1327,2183.5) scale(1,1.02)" font-size="109" text-anchor="middle">2θ [°]</text>
<text transform="translate(159,939.3) rotate(-90)" font-size="108.7" text-anchor="middle">Intensity [arb. units]</text>
<text transform="translate(886.5,268) rotate(-90) scale(1,1.035)" font-size="85.5" text-anchor="middle">(110)</text>
<g transform="translate(886.5,268) rotate(-90) scale(1,1.035)"><rect x="-67.54" y="-10.33" width="16.17" height="11.93" fill="#fff"/><rect x="-39.64" y="-10.33" width="15.08" height="11.93" fill="#fff"/></g>
<g transform="translate(886.5,268) rotate(-90) scale(1,1.035)"><rect x="-19.99" y="-10.33" width="16.17" height="11.93" fill="#fff"/><rect x="7.91" y="-10.33" width="15.08" height="11.93" fill="#fff"/></g>
<text transform="translate(2230.6,266) rotate(-90) scale(1,1.035)" font-size="85.5" text-anchor="middle">(200)</text>
<text transform="translate(1054.2,709.5) scale(1,1.048)" font-size="92.2" fill="#ff0000">22.7 at.% Ti</text>
<text transform="translate(1054.2,935.7) scale(1,1.048)" font-size="92.2" fill="#008000">12.9 at.% Ti</text>
<g transform="translate(1054.2,935.7) scale(1,1.048)"><rect x="4.21" y="-11.01" width="17.31" height="12.61" fill="#fff"/><rect x="34.17" y="-11.01" width="16.14" height="12.61" fill="#fff"/></g>
<text transform="translate(1054.2,1160.7) scale(1,1.048)" font-size="92.2" fill="#0000ff">9.6 at.% Ti</text>
<text transform="translate(1054.2,1413.0) scale(1,1.048)" font-size="92.2" fill="#8000ff">6.8 at.% Ti</text>
<text transform="translate(1051.5,1621.4) scale(1,1.048)" font-size="92.2" fill="#ff0080">3.4 at.% Ti</text>
<text transform="translate(1050.5,1801.2) scale(1,1.048)" font-size="92.2" fill="#000000">0 at.% Ti</text>
</svg>
</body></html>
